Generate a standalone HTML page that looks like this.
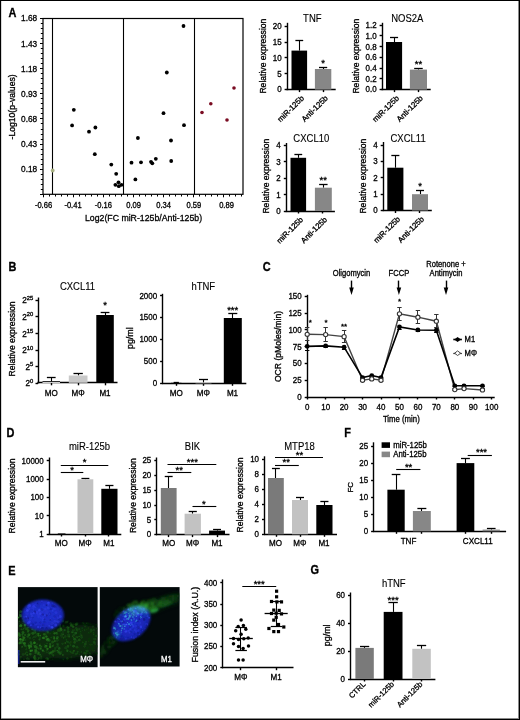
<!DOCTYPE html>
<html><head><meta charset="utf-8"><title>Figure</title>
<style>
html,body{margin:0;padding:0;background:#fff;}
svg{display:block;font-family:"Liberation Sans", Arial, Helvetica, sans-serif;}
</style></head><body>
<svg width="520" height="720" viewBox="0 0 520 720">
<rect width="520" height="720" fill="#fff"/>
<rect x="0" y="0" width="520" height="1" fill="#000"/><rect x="0" y="0" width="1" height="720" fill="#000"/><rect x="519" y="0" width="1" height="720" fill="#000"/><rect x="0" y="719" width="520" height="1" fill="#000"/><rect x="518" y="1" width="1" height="718" fill="#8a8a8a"/><rect x="1" y="718" width="517" height="1" fill="#8a8a8a"/><rect x="1" y="1" width="1" height="717" fill="#d8d8d8"/>
<text transform="translate(8.4 16.8) scale(0.89 1)" font-size="12.32" text-anchor="start" font-weight="bold" fill="#000" stroke="#000" stroke-width="0.32">A</text>
<rect x="43.0" y="18.5" width="200.0" height="175.8" fill="none" stroke="#000" stroke-width="1.2"/>
<line x1="40" y1="18.5" x2="43" y2="18.5" stroke="#000" stroke-width="1"/>
<line x1="40.8" y1="23.5" x2="43" y2="23.5" stroke="#000" stroke-width="1"/>
<line x1="40.8" y1="28.5" x2="43" y2="28.5" stroke="#000" stroke-width="1"/>
<line x1="40.8" y1="33.5" x2="43" y2="33.5" stroke="#000" stroke-width="1"/>
<line x1="40.8" y1="38.5" x2="43" y2="38.5" stroke="#000" stroke-width="1"/>
<line x1="40" y1="43.5" x2="43" y2="43.5" stroke="#000" stroke-width="1"/>
<line x1="40.8" y1="48.5" x2="43" y2="48.5" stroke="#000" stroke-width="1"/>
<line x1="40.8" y1="53.5" x2="43" y2="53.5" stroke="#000" stroke-width="1"/>
<line x1="40.8" y1="58.5" x2="43" y2="58.5" stroke="#000" stroke-width="1"/>
<line x1="40.8" y1="63.5" x2="43" y2="63.5" stroke="#000" stroke-width="1"/>
<line x1="40" y1="68.5" x2="43" y2="68.5" stroke="#000" stroke-width="1"/>
<line x1="40.8" y1="73.5" x2="43" y2="73.5" stroke="#000" stroke-width="1"/>
<line x1="40.8" y1="78.5" x2="43" y2="78.5" stroke="#000" stroke-width="1"/>
<line x1="40.8" y1="83.5" x2="43" y2="83.5" stroke="#000" stroke-width="1"/>
<line x1="40.8" y1="88.5" x2="43" y2="88.5" stroke="#000" stroke-width="1"/>
<line x1="40" y1="93.5" x2="43" y2="93.5" stroke="#000" stroke-width="1"/>
<line x1="40.8" y1="98.5" x2="43" y2="98.5" stroke="#000" stroke-width="1"/>
<line x1="40.8" y1="103.5" x2="43" y2="103.5" stroke="#000" stroke-width="1"/>
<line x1="40.8" y1="108.5" x2="43" y2="108.5" stroke="#000" stroke-width="1"/>
<line x1="40.8" y1="113.5" x2="43" y2="113.5" stroke="#000" stroke-width="1"/>
<line x1="40" y1="118.5" x2="43" y2="118.5" stroke="#000" stroke-width="1"/>
<line x1="40.8" y1="123.5" x2="43" y2="123.5" stroke="#000" stroke-width="1"/>
<line x1="40.8" y1="129.5" x2="43" y2="129.5" stroke="#000" stroke-width="1"/>
<line x1="40.8" y1="134.5" x2="43" y2="134.5" stroke="#000" stroke-width="1"/>
<line x1="40.8" y1="139.5" x2="43" y2="139.5" stroke="#000" stroke-width="1"/>
<line x1="40" y1="144.5" x2="43" y2="144.5" stroke="#000" stroke-width="1"/>
<line x1="40.8" y1="149.5" x2="43" y2="149.5" stroke="#000" stroke-width="1"/>
<line x1="40.8" y1="154.5" x2="43" y2="154.5" stroke="#000" stroke-width="1"/>
<line x1="40.8" y1="159.5" x2="43" y2="159.5" stroke="#000" stroke-width="1"/>
<line x1="40.8" y1="164.5" x2="43" y2="164.5" stroke="#000" stroke-width="1"/>
<line x1="40" y1="169.5" x2="43" y2="169.5" stroke="#000" stroke-width="1"/>
<line x1="40.8" y1="174.5" x2="43" y2="174.5" stroke="#000" stroke-width="1"/>
<line x1="40.8" y1="179.5" x2="43" y2="179.5" stroke="#000" stroke-width="1"/>
<line x1="40.8" y1="184.5" x2="43" y2="184.5" stroke="#000" stroke-width="1"/>
<line x1="40.8" y1="189.5" x2="43" y2="189.5" stroke="#000" stroke-width="1"/>
<line x1="40" y1="194.5" x2="43" y2="194.5" stroke="#000" stroke-width="1"/>
<text transform="translate(37.2 21.4) scale(0.89 1)" font-size="9.3" text-anchor="end" fill="#000" stroke="#000" stroke-width="0.32">1.68</text>
<text transform="translate(37.2 46.51) scale(0.89 1)" font-size="9.3" text-anchor="end" fill="#000" stroke="#000" stroke-width="0.32">1.43</text>
<text transform="translate(37.2 71.63) scale(0.89 1)" font-size="9.3" text-anchor="end" fill="#000" stroke="#000" stroke-width="0.32">1.18</text>
<text transform="translate(37.2 96.74) scale(0.89 1)" font-size="9.3" text-anchor="end" fill="#000" stroke="#000" stroke-width="0.32">0.93</text>
<text transform="translate(37.2 121.86) scale(0.89 1)" font-size="9.3" text-anchor="end" fill="#000" stroke="#000" stroke-width="0.32">0.68</text>
<text transform="translate(37.2 146.97) scale(0.89 1)" font-size="9.3" text-anchor="end" fill="#000" stroke="#000" stroke-width="0.32">0.43</text>
<text transform="translate(37.2 172.09) scale(0.89 1)" font-size="9.3" text-anchor="end" fill="#000" stroke="#000" stroke-width="0.32">0.18</text>
<line x1="43.5" y1="194.3" x2="43.5" y2="197.3" stroke="#000" stroke-width="1"/>
<line x1="49.5" y1="194.3" x2="49.5" y2="196.5" stroke="#000" stroke-width="1"/>
<line x1="55.5" y1="194.3" x2="55.5" y2="196.5" stroke="#000" stroke-width="1"/>
<line x1="61.5" y1="194.3" x2="61.5" y2="196.5" stroke="#000" stroke-width="1"/>
<line x1="67.5" y1="194.3" x2="67.5" y2="196.5" stroke="#000" stroke-width="1"/>
<line x1="73.5" y1="194.3" x2="73.5" y2="197.3" stroke="#000" stroke-width="1"/>
<line x1="79.5" y1="194.3" x2="79.5" y2="196.5" stroke="#000" stroke-width="1"/>
<line x1="85.5" y1="194.3" x2="85.5" y2="196.5" stroke="#000" stroke-width="1"/>
<line x1="91.5" y1="194.3" x2="91.5" y2="196.5" stroke="#000" stroke-width="1"/>
<line x1="97.5" y1="194.3" x2="97.5" y2="196.5" stroke="#000" stroke-width="1"/>
<line x1="103.5" y1="194.3" x2="103.5" y2="197.3" stroke="#000" stroke-width="1"/>
<line x1="109.5" y1="194.3" x2="109.5" y2="196.5" stroke="#000" stroke-width="1"/>
<line x1="115.5" y1="194.3" x2="115.5" y2="196.5" stroke="#000" stroke-width="1"/>
<line x1="121.5" y1="194.3" x2="121.5" y2="196.5" stroke="#000" stroke-width="1"/>
<line x1="127.5" y1="194.3" x2="127.5" y2="196.5" stroke="#000" stroke-width="1"/>
<line x1="133.5" y1="194.3" x2="133.5" y2="197.3" stroke="#000" stroke-width="1"/>
<line x1="139.5" y1="194.3" x2="139.5" y2="196.5" stroke="#000" stroke-width="1"/>
<line x1="145.5" y1="194.3" x2="145.5" y2="196.5" stroke="#000" stroke-width="1"/>
<line x1="151.5" y1="194.3" x2="151.5" y2="196.5" stroke="#000" stroke-width="1"/>
<line x1="157.5" y1="194.3" x2="157.5" y2="196.5" stroke="#000" stroke-width="1"/>
<line x1="163.5" y1="194.3" x2="163.5" y2="197.3" stroke="#000" stroke-width="1"/>
<line x1="169.5" y1="194.3" x2="169.5" y2="196.5" stroke="#000" stroke-width="1"/>
<line x1="175.5" y1="194.3" x2="175.5" y2="196.5" stroke="#000" stroke-width="1"/>
<line x1="181.5" y1="194.3" x2="181.5" y2="196.5" stroke="#000" stroke-width="1"/>
<line x1="187.5" y1="194.3" x2="187.5" y2="196.5" stroke="#000" stroke-width="1"/>
<line x1="193.5" y1="194.3" x2="193.5" y2="197.3" stroke="#000" stroke-width="1"/>
<line x1="199.5" y1="194.3" x2="199.5" y2="196.5" stroke="#000" stroke-width="1"/>
<line x1="205.5" y1="194.3" x2="205.5" y2="196.5" stroke="#000" stroke-width="1"/>
<line x1="211.5" y1="194.3" x2="211.5" y2="196.5" stroke="#000" stroke-width="1"/>
<line x1="217.5" y1="194.3" x2="217.5" y2="196.5" stroke="#000" stroke-width="1"/>
<line x1="223.5" y1="194.3" x2="223.5" y2="197.3" stroke="#000" stroke-width="1"/>
<line x1="229.5" y1="194.3" x2="229.5" y2="196.5" stroke="#000" stroke-width="1"/>
<line x1="235.5" y1="194.3" x2="235.5" y2="196.5" stroke="#000" stroke-width="1"/>
<line x1="241.5" y1="194.3" x2="241.5" y2="196.5" stroke="#000" stroke-width="1"/>
<text transform="translate(43.5 207.5) scale(0.89 1)" font-size="8.51" text-anchor="middle" fill="#000" stroke="#000" stroke-width="0.32">-0.66</text>
<text transform="translate(73 207.5) scale(0.89 1)" font-size="8.51" text-anchor="middle" fill="#000" stroke="#000" stroke-width="0.32">-0.41</text>
<text transform="translate(103.3 207.5) scale(0.89 1)" font-size="8.51" text-anchor="middle" fill="#000" stroke="#000" stroke-width="0.32">-0.16</text>
<text transform="translate(133.6 207.5) scale(0.89 1)" font-size="8.51" text-anchor="middle" fill="#000" stroke="#000" stroke-width="0.32">0.09</text>
<text transform="translate(163.6 207.5) scale(0.89 1)" font-size="8.51" text-anchor="middle" fill="#000" stroke="#000" stroke-width="0.32">0.34</text>
<text transform="translate(193.8 207.5) scale(0.89 1)" font-size="8.51" text-anchor="middle" fill="#000" stroke="#000" stroke-width="0.32">0.59</text>
<text transform="translate(226.5 207.5) scale(0.89 1)" font-size="8.51" text-anchor="middle" fill="#000" stroke="#000" stroke-width="0.32">0.89</text>
<line x1="52.5" y1="18.5" x2="52.5" y2="194.3" stroke="#000" stroke-width="1.1"/>
<line x1="123.5" y1="18.5" x2="123.5" y2="194.3" stroke="#000" stroke-width="1.1"/>
<line x1="194.5" y1="18.5" x2="194.5" y2="194.3" stroke="#000" stroke-width="1.1"/>
<text transform="translate(143.5 221.4) scale(0.88 1)" font-size="9.94" text-anchor="middle" fill="#000" stroke="#000" stroke-width="0.32">Log2(FC miR-125b/Anti-125b)</text>
<text x="15" y="106.9" font-size="8.6" text-anchor="middle" fill="#000" stroke="#000" stroke-width="0.32" transform="rotate(-90 15 106.9)">-Log10(p-values)</text>
<circle cx="73.8" cy="109.8" r="1.9" fill="#000"/>
<circle cx="72.1" cy="125.4" r="1.9" fill="#000"/>
<circle cx="89" cy="131.7" r="1.9" fill="#000"/>
<circle cx="95.4" cy="127.5" r="1.9" fill="#000"/>
<circle cx="94.8" cy="154.2" r="1.9" fill="#000"/>
<circle cx="111.3" cy="164.6" r="1.9" fill="#000"/>
<circle cx="116.2" cy="173.8" r="1.9" fill="#000"/>
<circle cx="115.4" cy="184.8" r="1.9" fill="#000"/>
<circle cx="118.5" cy="182.3" r="1.9" fill="#000"/>
<circle cx="118.8" cy="186.2" r="1.9" fill="#000"/>
<circle cx="121.5" cy="184.8" r="1.9" fill="#000"/>
<circle cx="131.5" cy="162.7" r="1.9" fill="#000"/>
<circle cx="137.9" cy="138" r="1.9" fill="#000"/>
<circle cx="135.4" cy="179.4" r="1.9" fill="#000"/>
<circle cx="141" cy="162.3" r="1.9" fill="#000"/>
<circle cx="151" cy="161.8" r="1.9" fill="#000"/>
<circle cx="152.3" cy="163.3" r="1.9" fill="#000"/>
<circle cx="155.8" cy="158.8" r="1.9" fill="#000"/>
<circle cx="171.2" cy="161" r="1.9" fill="#000"/>
<circle cx="171" cy="140.5" r="1.9" fill="#000"/>
<circle cx="184" cy="125.2" r="1.9" fill="#000"/>
<circle cx="163.5" cy="113.2" r="1.9" fill="#000"/>
<circle cx="166.8" cy="72.5" r="1.9" fill="#000"/>
<circle cx="183.5" cy="26" r="1.9" fill="#000"/>
<circle cx="234" cy="88" r="1.8" fill="#7a0c22"/>
<circle cx="210.8" cy="103.8" r="1.8" fill="#7a0c22"/>
<circle cx="202" cy="112.5" r="1.8" fill="#7a0c22"/>
<circle cx="227" cy="120" r="1.8" fill="#7a0c22"/>
<circle cx="52.7" cy="170.5" r="1.9" fill="#a9b184"/>
<line x1="287.5" y1="22.8" x2="287.5" y2="90.2" stroke="#000" stroke-width="1.4"/>
<line x1="284.6" y1="26.5" x2="287.1" y2="26.5" stroke="#000" stroke-width="1.4"/>
<text transform="translate(281.6 29.08) scale(0.89 1)" font-size="8.96" text-anchor="end" fill="#000" stroke="#000" stroke-width="0.32">20</text>
<line x1="284.6" y1="42.5" x2="287.1" y2="42.5" stroke="#000" stroke-width="1.4"/>
<text transform="translate(281.6 44.93) scale(0.89 1)" font-size="8.96" text-anchor="end" fill="#000" stroke="#000" stroke-width="0.32">15</text>
<line x1="284.6" y1="57.5" x2="287.1" y2="57.5" stroke="#000" stroke-width="1.4"/>
<text transform="translate(281.6 60.78) scale(0.89 1)" font-size="8.96" text-anchor="end" fill="#000" stroke="#000" stroke-width="0.32">10</text>
<line x1="284.6" y1="73.5" x2="287.1" y2="73.5" stroke="#000" stroke-width="1.4"/>
<text transform="translate(281.6 76.63) scale(0.89 1)" font-size="8.96" text-anchor="end" fill="#000" stroke="#000" stroke-width="0.32">5</text>
<line x1="284.6" y1="89.5" x2="287.1" y2="89.5" stroke="#000" stroke-width="1.4"/>
<text transform="translate(281.6 92.48) scale(0.89 1)" font-size="8.96" text-anchor="end" fill="#000" stroke="#000" stroke-width="0.32">0</text>
<line x1="286.5" y1="89.5" x2="335.7" y2="89.5" stroke="#000" stroke-width="1.4"/>
<line x1="299.5" y1="89.6" x2="299.5" y2="92.1" stroke="#000" stroke-width="1.4"/>
<line x1="323.5" y1="89.6" x2="323.5" y2="92.1" stroke="#000" stroke-width="1.4"/>
<line x1="299.5" y1="50.6" x2="299.5" y2="40.2" stroke="#000" stroke-width="1.1"/>
<line x1="295.4" y1="40.5" x2="303.2" y2="40.5" stroke="#000" stroke-width="1.3"/>
<rect x="291.5" y="50.6" width="15.6" height="39" fill="#000"/>
<line x1="323.5" y1="69" x2="323.5" y2="67.5" stroke="#000" stroke-width="1.1"/>
<line x1="319" y1="67.5" x2="327.2" y2="67.5" stroke="#000" stroke-width="1.3"/>
<rect x="314.9" y="69" width="16.4" height="20.6" fill="#878787"/>
<text transform="translate(312.3 21.5) scale(0.93 1)" font-size="10.22" text-anchor="middle" stroke="#000" stroke-width="0.12">TNF</text>
<text x="265.85" y="56.1" font-size="8.6" text-anchor="middle" fill="#000" stroke="#000" stroke-width="0.32" transform="rotate(-90 265.85 56.1)">Relative expression</text>
<text x="323.1" y="66.27" font-size="9.5" text-anchor="middle" fill="#000" stroke="#000" stroke-width="0.32">*</text>
<text x="304.5" y="98.7" font-size="7.8" text-anchor="end" fill="#000" stroke="#000" stroke-width="0.32" transform="rotate(-45 304.5 98.7)">miR-125b</text>
<text x="328.4" y="98.7" font-size="7.8" text-anchor="end" fill="#000" stroke="#000" stroke-width="0.32" transform="rotate(-45 328.4 98.7)">Anti-125b</text>
<line x1="382.5" y1="22.8" x2="382.5" y2="90.2" stroke="#000" stroke-width="1.4"/>
<line x1="379.6" y1="25.5" x2="382.1" y2="25.5" stroke="#000" stroke-width="1.4"/>
<text transform="translate(376.6 28.08) scale(0.89 1)" font-size="8.96" text-anchor="end" fill="#000" stroke="#000" stroke-width="0.32">1.2</text>
<line x1="379.6" y1="35.5" x2="382.1" y2="35.5" stroke="#000" stroke-width="1.4"/>
<text transform="translate(376.6 38.81) scale(0.89 1)" font-size="8.96" text-anchor="end" fill="#000" stroke="#000" stroke-width="0.32">1.0</text>
<line x1="379.6" y1="46.5" x2="382.1" y2="46.5" stroke="#000" stroke-width="1.4"/>
<text transform="translate(376.6 49.54) scale(0.89 1)" font-size="8.96" text-anchor="end" fill="#000" stroke="#000" stroke-width="0.32">0.8</text>
<line x1="379.6" y1="57.5" x2="382.1" y2="57.5" stroke="#000" stroke-width="1.4"/>
<text transform="translate(376.6 60.28) scale(0.89 1)" font-size="8.96" text-anchor="end" fill="#000" stroke="#000" stroke-width="0.32">0.6</text>
<line x1="379.6" y1="68.5" x2="382.1" y2="68.5" stroke="#000" stroke-width="1.4"/>
<text transform="translate(376.6 71.01) scale(0.89 1)" font-size="8.96" text-anchor="end" fill="#000" stroke="#000" stroke-width="0.32">0.4</text>
<line x1="379.6" y1="78.5" x2="382.1" y2="78.5" stroke="#000" stroke-width="1.4"/>
<text transform="translate(376.6 81.75) scale(0.89 1)" font-size="8.96" text-anchor="end" fill="#000" stroke="#000" stroke-width="0.32">0.2</text>
<line x1="379.6" y1="89.5" x2="382.1" y2="89.5" stroke="#000" stroke-width="1.4"/>
<text transform="translate(376.6 92.48) scale(0.89 1)" font-size="8.96" text-anchor="end" fill="#000" stroke="#000" stroke-width="0.32">0.0</text>
<line x1="381.5" y1="89.5" x2="430.7" y2="89.5" stroke="#000" stroke-width="1.4"/>
<line x1="394.5" y1="89.6" x2="394.5" y2="92.1" stroke="#000" stroke-width="1.4"/>
<line x1="418.5" y1="89.6" x2="418.5" y2="92.1" stroke="#000" stroke-width="1.4"/>
<line x1="394.5" y1="42" x2="394.5" y2="37.1" stroke="#000" stroke-width="1.1"/>
<line x1="390.02" y1="37.5" x2="398.08" y2="37.5" stroke="#000" stroke-width="1.3"/>
<rect x="386" y="42" width="16.1" height="47.6" fill="#000"/>
<line x1="418.5" y1="69.6" x2="418.5" y2="68" stroke="#000" stroke-width="1.1"/>
<line x1="414.17" y1="68.5" x2="422.73" y2="68.5" stroke="#000" stroke-width="1.3"/>
<rect x="409.9" y="69.6" width="17.1" height="20" fill="#878787"/>
<text transform="translate(407.3 21.5) scale(0.93 1)" font-size="10.22" text-anchor="middle" stroke="#000" stroke-width="0.12">NOS2A</text>
<text x="359" y="56.1" font-size="8.6" text-anchor="middle" fill="#000" stroke="#000" stroke-width="0.32" transform="rotate(-90 359 56.1)">Relative expression</text>
<text x="418.5" y="66.77" font-size="9.5" text-anchor="middle" fill="#000" stroke="#000" stroke-width="0.32">**</text>
<text x="399.5" y="98.7" font-size="7.8" text-anchor="end" fill="#000" stroke="#000" stroke-width="0.32" transform="rotate(-45 399.5 98.7)">miR-125b</text>
<text x="423.4" y="98.7" font-size="7.8" text-anchor="end" fill="#000" stroke="#000" stroke-width="0.32" transform="rotate(-45 423.4 98.7)">Anti-125b</text>
<line x1="286.5" y1="143" x2="286.5" y2="211.6" stroke="#000" stroke-width="1.4"/>
<line x1="283.8" y1="145.5" x2="286.3" y2="145.5" stroke="#000" stroke-width="1.4"/>
<text transform="translate(280.8 148.48) scale(0.89 1)" font-size="8.96" text-anchor="end" fill="#000" stroke="#000" stroke-width="0.32">4</text>
<line x1="283.8" y1="161.5" x2="286.3" y2="161.5" stroke="#000" stroke-width="1.4"/>
<text transform="translate(280.8 164.83) scale(0.89 1)" font-size="8.96" text-anchor="end" fill="#000" stroke="#000" stroke-width="0.32">3</text>
<line x1="283.8" y1="178.5" x2="286.3" y2="178.5" stroke="#000" stroke-width="1.4"/>
<text transform="translate(280.8 181.18) scale(0.89 1)" font-size="8.96" text-anchor="end" fill="#000" stroke="#000" stroke-width="0.32">2</text>
<line x1="283.8" y1="194.5" x2="286.3" y2="194.5" stroke="#000" stroke-width="1.4"/>
<text transform="translate(280.8 197.53) scale(0.89 1)" font-size="8.96" text-anchor="end" fill="#000" stroke="#000" stroke-width="0.32">1</text>
<line x1="283.8" y1="211.5" x2="286.3" y2="211.5" stroke="#000" stroke-width="1.4"/>
<text transform="translate(280.8 213.88) scale(0.89 1)" font-size="8.96" text-anchor="end" fill="#000" stroke="#000" stroke-width="0.32">0</text>
<line x1="285.7" y1="211.5" x2="334.9" y2="211.5" stroke="#000" stroke-width="1.4"/>
<line x1="298.5" y1="211" x2="298.5" y2="213.5" stroke="#000" stroke-width="1.4"/>
<line x1="322.5" y1="211" x2="322.5" y2="213.5" stroke="#000" stroke-width="1.4"/>
<line x1="298.5" y1="157.8" x2="298.5" y2="154.7" stroke="#000" stroke-width="1.1"/>
<line x1="294.4" y1="154.5" x2="302.2" y2="154.5" stroke="#000" stroke-width="1.3"/>
<rect x="290.5" y="157.8" width="15.6" height="53.2" fill="#000"/>
<line x1="323.5" y1="187.7" x2="323.5" y2="184.6" stroke="#000" stroke-width="1.1"/>
<line x1="319.12" y1="184.5" x2="327.58" y2="184.5" stroke="#000" stroke-width="1.3"/>
<rect x="314.9" y="187.7" width="16.9" height="23.3" fill="#878787"/>
<text transform="translate(311.3 142.4) scale(0.93 1)" font-size="10.22" text-anchor="middle" stroke="#000" stroke-width="0.12">CXCL10</text>
<text x="268.9" y="176.1" font-size="8.6" text-anchor="middle" fill="#000" stroke="#000" stroke-width="0.32" transform="rotate(-90 268.9 176.1)">Relative expression</text>
<text x="323.3" y="183.06" font-size="9.5" text-anchor="middle" fill="#000" stroke="#000" stroke-width="0.32">**</text>
<text x="303.7" y="220.1" font-size="7.8" text-anchor="end" fill="#000" stroke="#000" stroke-width="0.32" transform="rotate(-45 303.7 220.1)">miR-125b</text>
<text x="327.6" y="220.1" font-size="7.8" text-anchor="end" fill="#000" stroke="#000" stroke-width="0.32" transform="rotate(-45 327.6 220.1)">Anti-125b</text>
<line x1="383.5" y1="142" x2="383.5" y2="211.1" stroke="#000" stroke-width="1.4"/>
<line x1="380.7" y1="145.5" x2="383.2" y2="145.5" stroke="#000" stroke-width="1.4"/>
<text transform="translate(377.7 148.18) scale(0.89 1)" font-size="8.96" text-anchor="end" fill="#000" stroke="#000" stroke-width="0.32">4</text>
<line x1="380.7" y1="161.5" x2="383.2" y2="161.5" stroke="#000" stroke-width="1.4"/>
<text transform="translate(377.7 164.48) scale(0.89 1)" font-size="8.96" text-anchor="end" fill="#000" stroke="#000" stroke-width="0.32">3</text>
<line x1="380.7" y1="177.5" x2="383.2" y2="177.5" stroke="#000" stroke-width="1.4"/>
<text transform="translate(377.7 180.78) scale(0.89 1)" font-size="8.96" text-anchor="end" fill="#000" stroke="#000" stroke-width="0.32">2</text>
<line x1="380.7" y1="194.5" x2="383.2" y2="194.5" stroke="#000" stroke-width="1.4"/>
<text transform="translate(377.7 197.08) scale(0.89 1)" font-size="8.96" text-anchor="end" fill="#000" stroke="#000" stroke-width="0.32">1</text>
<line x1="380.7" y1="210.5" x2="383.2" y2="210.5" stroke="#000" stroke-width="1.4"/>
<text transform="translate(377.7 213.38) scale(0.89 1)" font-size="8.96" text-anchor="end" fill="#000" stroke="#000" stroke-width="0.32">0</text>
<line x1="382.6" y1="210.5" x2="431.8" y2="210.5" stroke="#000" stroke-width="1.4"/>
<line x1="395.5" y1="210.5" x2="395.5" y2="213" stroke="#000" stroke-width="1.4"/>
<line x1="419.5" y1="210.5" x2="419.5" y2="213" stroke="#000" stroke-width="1.4"/>
<line x1="395.5" y1="167.7" x2="395.5" y2="155.8" stroke="#000" stroke-width="1.1"/>
<line x1="391.33" y1="155.5" x2="399.38" y2="155.5" stroke="#000" stroke-width="1.3"/>
<rect x="387.3" y="167.7" width="16.1" height="42.8" fill="#000"/>
<line x1="420.5" y1="194.2" x2="420.5" y2="190.3" stroke="#000" stroke-width="1.1"/>
<line x1="416" y1="190.5" x2="424" y2="190.5" stroke="#000" stroke-width="1.3"/>
<rect x="412" y="194.2" width="16" height="16.3" fill="#878787"/>
<text transform="translate(408.1 141.7) scale(0.93 1)" font-size="10.22" text-anchor="middle" stroke="#000" stroke-width="0.12">CXCL11</text>
<text x="366.3" y="176.1" font-size="8.6" text-anchor="middle" fill="#000" stroke="#000" stroke-width="0.32" transform="rotate(-90 366.3 176.1)">Relative expression</text>
<text x="420" y="189.06" font-size="9.5" text-anchor="middle" fill="#000" stroke="#000" stroke-width="0.32">*</text>
<text x="400.6" y="219.6" font-size="7.8" text-anchor="end" fill="#000" stroke="#000" stroke-width="0.32" transform="rotate(-45 400.6 219.6)">miR-125b</text>
<text x="424.5" y="219.6" font-size="7.8" text-anchor="end" fill="#000" stroke="#000" stroke-width="0.32" transform="rotate(-45 424.5 219.6)">Anti-125b</text>
<text transform="translate(8.6 270.6) scale(0.89 1)" font-size="12.32" text-anchor="start" font-weight="bold" fill="#000" stroke="#000" stroke-width="0.32">B</text>
<line x1="38.5" y1="297.5" x2="38.5" y2="383.4" stroke="#000" stroke-width="1.4"/>
<line x1="35.5" y1="300.5" x2="38" y2="300.5" stroke="#000" stroke-width="1.4"/>
<line x1="35.5" y1="316.5" x2="38" y2="316.5" stroke="#000" stroke-width="1.4"/>
<line x1="35.5" y1="333.5" x2="38" y2="333.5" stroke="#000" stroke-width="1.4"/>
<line x1="35.5" y1="350.5" x2="38" y2="350.5" stroke="#000" stroke-width="1.4"/>
<line x1="35.5" y1="366.5" x2="38" y2="366.5" stroke="#000" stroke-width="1.4"/>
<line x1="35.5" y1="383.5" x2="38" y2="383.5" stroke="#000" stroke-width="1.4"/>
<text x="33.2" y="303.3" font-size="8.2" text-anchor="end" stroke="#000" stroke-width="0.32">2<tspan font-size="5.8" dy="-3.8">25</tspan></text>
<text x="33.2" y="320.05" font-size="8.2" text-anchor="end" stroke="#000" stroke-width="0.32">2<tspan font-size="5.8" dy="-3.8">20</tspan></text>
<text x="33.2" y="336.6" font-size="8.2" text-anchor="end" stroke="#000" stroke-width="0.32">2<tspan font-size="5.8" dy="-3.8">15</tspan></text>
<text x="33.2" y="353.3" font-size="8.2" text-anchor="end" stroke="#000" stroke-width="0.32">2<tspan font-size="5.8" dy="-3.8">10</tspan></text>
<text x="33.2" y="370.05" font-size="8.2" text-anchor="end" stroke="#000" stroke-width="0.32">2<tspan font-size="5.8" dy="-3.8">5</tspan></text>
<text x="33.2" y="386.3" font-size="8.2" text-anchor="end" stroke="#000" stroke-width="0.32">2<tspan font-size="5.8" dy="-3.8">0</tspan></text>
<line x1="37.4" y1="382.5" x2="117.5" y2="382.5" stroke="#000" stroke-width="1.4"/>
<line x1="51.5" y1="382.8" x2="51.5" y2="385.3" stroke="#000" stroke-width="1.4"/>
<line x1="78.5" y1="382.8" x2="78.5" y2="385.3" stroke="#000" stroke-width="1.4"/>
<line x1="105.5" y1="382.8" x2="105.5" y2="385.3" stroke="#000" stroke-width="1.4"/>
<line x1="51.5" y1="381.6" x2="51.5" y2="377.5" stroke="#000" stroke-width="1.1"/>
<line x1="46.88" y1="377.5" x2="55.62" y2="377.5" stroke="#000" stroke-width="1.3"/>
<rect x="42.5" y="381.6" width="17.5" height="1.2" fill="#fff"/>
<line x1="42.5" y1="381.5" x2="60" y2="381.5" stroke="#000" stroke-width="0.8"/>
<line x1="78.5" y1="375.5" x2="78.5" y2="373.3" stroke="#000" stroke-width="1.1"/>
<line x1="73.48" y1="373.5" x2="82.83" y2="373.5" stroke="#000" stroke-width="1.3"/>
<rect x="68.8" y="375.5" width="18.7" height="7.3" fill="#c9c9c9"/>
<line x1="105.5" y1="315" x2="105.5" y2="312.5" stroke="#000" stroke-width="1.1"/>
<line x1="100.67" y1="312.5" x2="109.42" y2="312.5" stroke="#000" stroke-width="1.3"/>
<rect x="96.3" y="315" width="17.5" height="67.8" fill="#000"/>
<text x="105" y="307.76" font-size="9.5" text-anchor="middle" fill="#000" stroke="#000" stroke-width="0.32">*</text>
<text transform="translate(77.5 290.2) scale(0.93 1)" font-size="10.22" text-anchor="middle" stroke="#000" stroke-width="0.12">CXCL11</text>
<text x="15.1" y="338.9" font-size="8.6" text-anchor="middle" fill="#000" stroke="#000" stroke-width="0.32" transform="rotate(-90 15.1 338.9)">Relative expression</text>
<text transform="translate(51.3 395.5) scale(0.89 1)" font-size="9.07" text-anchor="middle" fill="#000" stroke="#000" stroke-width="0.32">MO</text>
<text transform="translate(78 395.5) scale(0.89 1)" font-size="9.07" text-anchor="middle" fill="#000" stroke="#000" stroke-width="0.32">MΦ</text>
<text transform="translate(105 395.5) scale(0.89 1)" font-size="9.07" text-anchor="middle" fill="#000" stroke="#000" stroke-width="0.32">M1</text>
<line x1="162.5" y1="293.8" x2="162.5" y2="383.9" stroke="#000" stroke-width="1.4"/>
<line x1="160.1" y1="295.5" x2="162.6" y2="295.5" stroke="#000" stroke-width="1.4"/>
<text transform="translate(157.1 298.68) scale(0.89 1)" font-size="8.96" text-anchor="end" fill="#000" stroke="#000" stroke-width="0.32">2000</text>
<line x1="160.1" y1="317.5" x2="162.6" y2="317.5" stroke="#000" stroke-width="1.4"/>
<text transform="translate(157.1 320.48) scale(0.89 1)" font-size="8.96" text-anchor="end" fill="#000" stroke="#000" stroke-width="0.32">1500</text>
<line x1="160.1" y1="339.5" x2="162.6" y2="339.5" stroke="#000" stroke-width="1.4"/>
<text transform="translate(157.1 342.38) scale(0.89 1)" font-size="8.96" text-anchor="end" fill="#000" stroke="#000" stroke-width="0.32">1000</text>
<line x1="160.1" y1="361.5" x2="162.6" y2="361.5" stroke="#000" stroke-width="1.4"/>
<text transform="translate(157.1 364.28) scale(0.89 1)" font-size="8.96" text-anchor="end" fill="#000" stroke="#000" stroke-width="0.32">500</text>
<line x1="160.1" y1="383.5" x2="162.6" y2="383.5" stroke="#000" stroke-width="1.4"/>
<text transform="translate(157.1 386.18) scale(0.89 1)" font-size="8.96" text-anchor="end" fill="#000" stroke="#000" stroke-width="0.32">0</text>
<line x1="162" y1="383.5" x2="246.3" y2="383.5" stroke="#000" stroke-width="1.4"/>
<line x1="176.5" y1="383.3" x2="176.5" y2="385.8" stroke="#000" stroke-width="1.4"/>
<line x1="203.5" y1="383.3" x2="203.5" y2="385.8" stroke="#000" stroke-width="1.4"/>
<line x1="232.5" y1="383.3" x2="232.5" y2="385.8" stroke="#000" stroke-width="1.4"/>
<line x1="176.5" y1="382.8" x2="176.5" y2="382.3" stroke="#000" stroke-width="1.1"/>
<line x1="173.62" y1="382.5" x2="178.88" y2="382.5" stroke="#000" stroke-width="1.3"/>
<rect x="171" y="382.8" width="10.5" height="0.5" fill="#000"/>
<line x1="203.5" y1="382.6" x2="203.5" y2="379.2" stroke="#000" stroke-width="1.1"/>
<line x1="199" y1="379.5" x2="208" y2="379.5" stroke="#000" stroke-width="1.3"/>
<rect x="195.5" y="382.6" width="16" height="0.7" fill="#c9c9c9"/>
<line x1="232.5" y1="318" x2="232.5" y2="313" stroke="#000" stroke-width="1.1"/>
<line x1="228.3" y1="313.5" x2="237.3" y2="313.5" stroke="#000" stroke-width="1.3"/>
<rect x="223.8" y="318" width="18" height="65.3" fill="#000"/>
<text x="232.7" y="313.26" font-size="9.5" text-anchor="middle" fill="#000" stroke="#000" stroke-width="0.32">***</text>
<text transform="translate(203.3 290.2) scale(0.93 1)" font-size="10.22" text-anchor="middle" stroke="#000" stroke-width="0.12">hTNF</text>
<text x="133.45" y="338.2" font-size="8.9" text-anchor="middle" fill="#000" stroke="#000" stroke-width="0.32" transform="rotate(-90 133.45 338.2)">pg/ml</text>
<text transform="translate(176.3 395.5) scale(0.89 1)" font-size="9.07" text-anchor="middle" fill="#000" stroke="#000" stroke-width="0.32">MO</text>
<text transform="translate(203.3 395.5) scale(0.89 1)" font-size="9.07" text-anchor="middle" fill="#000" stroke="#000" stroke-width="0.32">MΦ</text>
<text transform="translate(232.5 395.5) scale(0.89 1)" font-size="9.07" text-anchor="middle" fill="#000" stroke="#000" stroke-width="0.32">M1</text>
<text transform="translate(262.8 271.2) scale(0.89 1)" font-size="12.32" text-anchor="start" font-weight="bold" fill="#000" stroke="#000" stroke-width="0.32">C</text>
<line x1="307.5" y1="294.8" x2="307.5" y2="397.6" stroke="#000" stroke-width="1.4"/>
<line x1="304.7" y1="296.5" x2="307.2" y2="296.5" stroke="#000" stroke-width="1.4"/>
<text transform="translate(301.7 299.27) scale(0.89 1)" font-size="8.96" text-anchor="end" fill="#000" stroke="#000" stroke-width="0.32">150</text>
<line x1="304.7" y1="313.5" x2="307.2" y2="313.5" stroke="#000" stroke-width="1.4"/>
<text transform="translate(301.7 316.04) scale(0.89 1)" font-size="8.96" text-anchor="end" fill="#000" stroke="#000" stroke-width="0.32">125</text>
<line x1="304.7" y1="329.5" x2="307.2" y2="329.5" stroke="#000" stroke-width="1.4"/>
<text transform="translate(301.7 332.81) scale(0.89 1)" font-size="8.96" text-anchor="end" fill="#000" stroke="#000" stroke-width="0.32">100</text>
<line x1="304.7" y1="346.5" x2="307.2" y2="346.5" stroke="#000" stroke-width="1.4"/>
<text transform="translate(301.7 349.58) scale(0.89 1)" font-size="8.96" text-anchor="end" fill="#000" stroke="#000" stroke-width="0.32">75</text>
<line x1="304.7" y1="363.5" x2="307.2" y2="363.5" stroke="#000" stroke-width="1.4"/>
<text transform="translate(301.7 366.35) scale(0.89 1)" font-size="8.96" text-anchor="end" fill="#000" stroke="#000" stroke-width="0.32">50</text>
<line x1="304.7" y1="380.5" x2="307.2" y2="380.5" stroke="#000" stroke-width="1.4"/>
<text transform="translate(301.7 383.11) scale(0.89 1)" font-size="8.96" text-anchor="end" fill="#000" stroke="#000" stroke-width="0.32">25</text>
<line x1="304.7" y1="397.5" x2="307.2" y2="397.5" stroke="#000" stroke-width="1.4"/>
<text transform="translate(301.7 399.88) scale(0.89 1)" font-size="8.96" text-anchor="end" fill="#000" stroke="#000" stroke-width="0.32">0</text>
<line x1="306.6" y1="397.5" x2="494.7" y2="397.5" stroke="#000" stroke-width="1.4"/>
<line x1="307.5" y1="397" x2="307.5" y2="399.5" stroke="#000" stroke-width="1.4"/>
<line x1="325.5" y1="397" x2="325.5" y2="399.5" stroke="#000" stroke-width="1.4"/>
<line x1="344.5" y1="397" x2="344.5" y2="399.5" stroke="#000" stroke-width="1.4"/>
<line x1="362.5" y1="397" x2="362.5" y2="399.5" stroke="#000" stroke-width="1.4"/>
<line x1="381.5" y1="397" x2="381.5" y2="399.5" stroke="#000" stroke-width="1.4"/>
<line x1="399.5" y1="397" x2="399.5" y2="399.5" stroke="#000" stroke-width="1.4"/>
<line x1="417.5" y1="397" x2="417.5" y2="399.5" stroke="#000" stroke-width="1.4"/>
<line x1="436.5" y1="397" x2="436.5" y2="399.5" stroke="#000" stroke-width="1.4"/>
<line x1="454.5" y1="397" x2="454.5" y2="399.5" stroke="#000" stroke-width="1.4"/>
<line x1="473.5" y1="397" x2="473.5" y2="399.5" stroke="#000" stroke-width="1.4"/>
<line x1="491.5" y1="397" x2="491.5" y2="399.5" stroke="#000" stroke-width="1.4"/>
<text transform="translate(307.2 410.3) scale(0.89 1)" font-size="8.96" text-anchor="middle" fill="#000" stroke="#000" stroke-width="0.32">0</text>
<text transform="translate(325.65 410.3) scale(0.89 1)" font-size="8.96" text-anchor="middle" fill="#000" stroke="#000" stroke-width="0.32">10</text>
<text transform="translate(344.1 410.3) scale(0.89 1)" font-size="8.96" text-anchor="middle" fill="#000" stroke="#000" stroke-width="0.32">20</text>
<text transform="translate(362.55 410.3) scale(0.89 1)" font-size="8.96" text-anchor="middle" fill="#000" stroke="#000" stroke-width="0.32">30</text>
<text transform="translate(381 410.3) scale(0.89 1)" font-size="8.96" text-anchor="middle" fill="#000" stroke="#000" stroke-width="0.32">40</text>
<text transform="translate(399.45 410.3) scale(0.89 1)" font-size="8.96" text-anchor="middle" fill="#000" stroke="#000" stroke-width="0.32">50</text>
<text transform="translate(417.9 410.3) scale(0.89 1)" font-size="8.96" text-anchor="middle" fill="#000" stroke="#000" stroke-width="0.32">60</text>
<text transform="translate(436.35 410.3) scale(0.89 1)" font-size="8.96" text-anchor="middle" fill="#000" stroke="#000" stroke-width="0.32">70</text>
<text transform="translate(454.8 410.3) scale(0.89 1)" font-size="8.96" text-anchor="middle" fill="#000" stroke="#000" stroke-width="0.32">80</text>
<text transform="translate(473.25 410.3) scale(0.89 1)" font-size="8.96" text-anchor="middle" fill="#000" stroke="#000" stroke-width="0.32">90</text>
<text transform="translate(491.7 410.3) scale(0.89 1)" font-size="8.96" text-anchor="middle" fill="#000" stroke="#000" stroke-width="0.32">100</text>
<text transform="translate(401.3 421.9) scale(0.89 1)" font-size="8.74" text-anchor="middle" fill="#000" stroke="#000" stroke-width="0.32">Time (min)</text>
<text x="281.2" y="346.5" font-size="8.6" text-anchor="middle" fill="#000" stroke="#000" stroke-width="0.32" transform="rotate(-90 281.2 346.5)">OCR (pMoles/min)</text>
<line x1="307.5" y1="327.58" x2="307.5" y2="341" stroke="#333" stroke-width="1"/>
<line x1="305" y1="327.5" x2="309.4" y2="327.5" stroke="#333" stroke-width="1"/>
<line x1="305" y1="340.5" x2="309.4" y2="340.5" stroke="#333" stroke-width="1"/>
<line x1="325.5" y1="327.92" x2="325.5" y2="341.33" stroke="#333" stroke-width="1"/>
<line x1="323.45" y1="327.5" x2="327.85" y2="327.5" stroke="#333" stroke-width="1"/>
<line x1="323.45" y1="341.5" x2="327.85" y2="341.5" stroke="#333" stroke-width="1"/>
<line x1="344.5" y1="330.6" x2="344.5" y2="342.67" stroke="#333" stroke-width="1"/>
<line x1="341.9" y1="330.5" x2="346.3" y2="330.5" stroke="#333" stroke-width="1"/>
<line x1="341.9" y1="342.5" x2="346.3" y2="342.5" stroke="#333" stroke-width="1"/>
<line x1="362.5" y1="378.89" x2="362.5" y2="381.57" stroke="#333" stroke-width="1"/>
<line x1="360.35" y1="378.5" x2="364.75" y2="378.5" stroke="#333" stroke-width="1"/>
<line x1="360.35" y1="381.5" x2="364.75" y2="381.5" stroke="#333" stroke-width="1"/>
<line x1="371.5" y1="377.55" x2="371.5" y2="380.23" stroke="#333" stroke-width="1"/>
<line x1="369.57" y1="377.5" x2="373.97" y2="377.5" stroke="#333" stroke-width="1"/>
<line x1="369.57" y1="380.5" x2="373.97" y2="380.5" stroke="#333" stroke-width="1"/>
<line x1="381.5" y1="378.89" x2="381.5" y2="381.57" stroke="#333" stroke-width="1"/>
<line x1="378.8" y1="378.5" x2="383.2" y2="378.5" stroke="#333" stroke-width="1"/>
<line x1="378.8" y1="381.5" x2="383.2" y2="381.5" stroke="#333" stroke-width="1"/>
<line x1="399.5" y1="307.13" x2="399.5" y2="320.54" stroke="#333" stroke-width="1"/>
<line x1="397.25" y1="307.5" x2="401.65" y2="307.5" stroke="#333" stroke-width="1"/>
<line x1="397.25" y1="320.5" x2="401.65" y2="320.5" stroke="#333" stroke-width="1"/>
<line x1="417.5" y1="310.48" x2="417.5" y2="323.89" stroke="#333" stroke-width="1"/>
<line x1="415.7" y1="310.5" x2="420.1" y2="310.5" stroke="#333" stroke-width="1"/>
<line x1="415.7" y1="323.5" x2="420.1" y2="323.5" stroke="#333" stroke-width="1"/>
<line x1="436.5" y1="314.5" x2="436.5" y2="327.92" stroke="#333" stroke-width="1"/>
<line x1="434.15" y1="314.5" x2="438.55" y2="314.5" stroke="#333" stroke-width="1"/>
<line x1="434.15" y1="327.5" x2="438.55" y2="327.5" stroke="#333" stroke-width="1"/>
<line x1="454.5" y1="388.62" x2="454.5" y2="390.63" stroke="#333" stroke-width="1"/>
<line x1="452.6" y1="388.5" x2="457" y2="388.5" stroke="#333" stroke-width="1"/>
<line x1="452.6" y1="390.5" x2="457" y2="390.5" stroke="#333" stroke-width="1"/>
<line x1="464.5" y1="387.61" x2="464.5" y2="389.62" stroke="#333" stroke-width="1"/>
<line x1="461.82" y1="387.5" x2="466.22" y2="387.5" stroke="#333" stroke-width="1"/>
<line x1="461.82" y1="389.5" x2="466.22" y2="389.5" stroke="#333" stroke-width="1"/>
<line x1="482.5" y1="388.95" x2="482.5" y2="390.96" stroke="#333" stroke-width="1"/>
<line x1="480.28" y1="388.5" x2="484.68" y2="388.5" stroke="#333" stroke-width="1"/>
<line x1="480.28" y1="390.5" x2="484.68" y2="390.5" stroke="#333" stroke-width="1"/>
<line x1="305" y1="350.5" x2="309.4" y2="350.5" stroke="#000" stroke-width="1"/>
<line x1="323.45" y1="347.5" x2="327.85" y2="347.5" stroke="#000" stroke-width="1"/>
<line x1="341.9" y1="349.5" x2="346.3" y2="349.5" stroke="#000" stroke-width="1"/>
<line x1="360.35" y1="378.5" x2="364.75" y2="378.5" stroke="#000" stroke-width="1"/>
<line x1="369.57" y1="376.5" x2="373.97" y2="376.5" stroke="#000" stroke-width="1"/>
<line x1="378.8" y1="378.5" x2="383.2" y2="378.5" stroke="#000" stroke-width="1"/>
<line x1="397.25" y1="329.5" x2="401.65" y2="329.5" stroke="#000" stroke-width="1"/>
<line x1="415.7" y1="331.5" x2="420.1" y2="331.5" stroke="#000" stroke-width="1"/>
<line x1="434.15" y1="332.5" x2="438.55" y2="332.5" stroke="#000" stroke-width="1"/>
<line x1="452.6" y1="386.5" x2="457" y2="386.5" stroke="#000" stroke-width="1"/>
<line x1="461.82" y1="386.5" x2="466.22" y2="386.5" stroke="#000" stroke-width="1"/>
<line x1="480.28" y1="386.5" x2="484.68" y2="386.5" stroke="#000" stroke-width="1"/>
<polyline points="307.2,334.29 325.65,334.62 344.1,336.64 362.55,380.23 371.77,378.89 381,380.23 399.45,313.83 417.9,317.19 436.35,321.21 454.8,389.62 464.02,388.62 482.48,389.96" fill="none" stroke="#444" stroke-width="1.4"/>
<polyline points="307.2,346.36 325.65,345.83 344.1,347.17 362.55,377.55 371.77,375.54 381,377.55 399.45,326.91 417.9,329.93 436.35,330.27 454.8,385.8 464.02,385.8 482.48,385.8" fill="none" stroke="#000" stroke-width="1.6"/>
<circle cx="307.2" cy="346.36" r="2.4" fill="#000"/>
<circle cx="325.65" cy="345.83" r="2.4" fill="#000"/>
<circle cx="344.1" cy="347.17" r="2.4" fill="#000"/>
<circle cx="362.55" cy="377.55" r="2.4" fill="#000"/>
<circle cx="371.77" cy="375.54" r="2.4" fill="#000"/>
<circle cx="381" cy="377.55" r="2.4" fill="#000"/>
<circle cx="399.45" cy="326.91" r="2.4" fill="#000"/>
<circle cx="417.9" cy="329.93" r="2.4" fill="#000"/>
<circle cx="436.35" cy="330.27" r="2.4" fill="#000"/>
<circle cx="454.8" cy="385.8" r="2.4" fill="#000"/>
<circle cx="464.02" cy="385.8" r="2.4" fill="#000"/>
<circle cx="482.48" cy="385.8" r="2.4" fill="#000"/>
<circle cx="307.2" cy="334.29" r="2.1" fill="#fff" stroke="#333" stroke-width="1.1"/>
<circle cx="325.65" cy="334.62" r="2.1" fill="#fff" stroke="#333" stroke-width="1.1"/>
<circle cx="344.1" cy="336.64" r="2.1" fill="#fff" stroke="#333" stroke-width="1.1"/>
<circle cx="362.55" cy="380.23" r="2.1" fill="#fff" stroke="#333" stroke-width="1.1"/>
<circle cx="371.77" cy="378.89" r="2.1" fill="#fff" stroke="#333" stroke-width="1.1"/>
<circle cx="381" cy="380.23" r="2.1" fill="#fff" stroke="#333" stroke-width="1.1"/>
<circle cx="399.45" cy="313.83" r="2.1" fill="#fff" stroke="#333" stroke-width="1.1"/>
<circle cx="417.9" cy="317.19" r="2.1" fill="#fff" stroke="#333" stroke-width="1.1"/>
<circle cx="436.35" cy="321.21" r="2.1" fill="#fff" stroke="#333" stroke-width="1.1"/>
<circle cx="454.8" cy="389.62" r="2.1" fill="#fff" stroke="#333" stroke-width="1.1"/>
<circle cx="464.02" cy="388.62" r="2.1" fill="#fff" stroke="#333" stroke-width="1.1"/>
<circle cx="482.48" cy="389.96" r="2.1" fill="#fff" stroke="#333" stroke-width="1.1"/>
<text x="310.2" y="324.96" font-size="8" text-anchor="middle" fill="#000" stroke="#000" stroke-width="0.32">*</text>
<text x="326" y="324.96" font-size="8" text-anchor="middle" fill="#000" stroke="#000" stroke-width="0.32">*</text>
<text x="344.1" y="328.76" font-size="8" text-anchor="middle" fill="#000" stroke="#000" stroke-width="0.32">**</text>
<text x="399.45" y="304.36" font-size="8" text-anchor="middle" fill="#000" stroke="#000" stroke-width="0.32">*</text>
<text transform="translate(351.5 276.1) scale(0.89 1)" font-size="8.51" text-anchor="middle" fill="#000" stroke="#000" stroke-width="0.32">Oligomycin</text>
<line x1="351.5" y1="280.6" x2="351.5" y2="289" stroke="#000" stroke-width="1.4"/>
<path d="M349.2,287.4 L351.5,295 L353.8,287.4 Z" fill="#000"/>
<text transform="translate(398.9 276.1) scale(0.89 1)" font-size="8.51" text-anchor="middle" fill="#000" stroke="#000" stroke-width="0.32">FCCP</text>
<line x1="398.5" y1="280.6" x2="398.5" y2="289" stroke="#000" stroke-width="1.4"/>
<path d="M396.6,287.4 L398.9,295 L401.2,287.4 Z" fill="#000"/>
<text transform="translate(446 267) scale(0.89 1)" font-size="8.51" text-anchor="middle" fill="#000" stroke="#000" stroke-width="0.32">Rotenone +</text>
<text transform="translate(446 276.1) scale(0.89 1)" font-size="8.51" text-anchor="middle" fill="#000" stroke="#000" stroke-width="0.32">Antimycin</text>
<line x1="446.5" y1="280.6" x2="446.5" y2="289" stroke="#000" stroke-width="1.4"/>
<path d="M443.7,287.4 L446,295 L448.3,287.4 Z" fill="#000"/>
<line x1="453.3" y1="339.5" x2="461.9" y2="339.5" stroke="#000" stroke-width="1.6"/>
<path d="M457.6,336.9 L461,339.4 L457.6,341.9 L454.2,339.4 Z" fill="#000"/>
<text transform="translate(464.6 342.2) scale(0.89 1)" font-size="8.51" text-anchor="start" fill="#000" stroke="#000" stroke-width="0.32">M1</text>
<line x1="453.3" y1="353.5" x2="461.9" y2="353.5" stroke="#333" stroke-width="1.2"/>
<path d="M457.6,350.9 L460.6,353.2 L457.6,355.5 L454.6,353.2 Z" fill="#fff" stroke="#333" stroke-width="0.9"/>
<text transform="translate(464.6 356) scale(0.89 1)" font-size="8.51" text-anchor="start" fill="#000" stroke="#000" stroke-width="0.32">MΦ</text>
<text transform="translate(6.4 437.2) scale(0.89 1)" font-size="12.32" text-anchor="start" font-weight="bold" fill="#000" stroke="#000" stroke-width="0.32">D</text>
<line x1="49.5" y1="457.5" x2="49.5" y2="534.6" stroke="#000" stroke-width="1.4"/>
<line x1="46.7" y1="460.5" x2="49.2" y2="460.5" stroke="#000" stroke-width="1.4"/>
<text transform="translate(43.7 463.78) scale(0.89 1)" font-size="8.96" text-anchor="end" fill="#000" stroke="#000" stroke-width="0.32">10000</text>
<line x1="46.7" y1="479.5" x2="49.2" y2="479.5" stroke="#000" stroke-width="1.4"/>
<text transform="translate(43.7 481.98) scale(0.89 1)" font-size="8.96" text-anchor="end" fill="#000" stroke="#000" stroke-width="0.32">1000</text>
<line x1="46.7" y1="497.5" x2="49.2" y2="497.5" stroke="#000" stroke-width="1.4"/>
<text transform="translate(43.7 500.28) scale(0.89 1)" font-size="8.96" text-anchor="end" fill="#000" stroke="#000" stroke-width="0.32">100</text>
<line x1="46.7" y1="515.5" x2="49.2" y2="515.5" stroke="#000" stroke-width="1.4"/>
<text transform="translate(43.7 518.58) scale(0.89 1)" font-size="8.96" text-anchor="end" fill="#000" stroke="#000" stroke-width="0.32">10</text>
<line x1="46.7" y1="534.5" x2="49.2" y2="534.5" stroke="#000" stroke-width="1.4"/>
<text transform="translate(43.7 536.88) scale(0.89 1)" font-size="8.96" text-anchor="end" fill="#000" stroke="#000" stroke-width="0.32">1</text>
<line x1="48.6" y1="534.5" x2="121.3" y2="534.5" stroke="#000" stroke-width="1.4"/>
<line x1="61.5" y1="534" x2="61.5" y2="536.5" stroke="#000" stroke-width="1.4"/>
<line x1="85.5" y1="534" x2="85.5" y2="536.5" stroke="#000" stroke-width="1.4"/>
<line x1="108.5" y1="534" x2="108.5" y2="536.5" stroke="#000" stroke-width="1.4"/>
<rect x="57.8" y="533" width="7.7" height="1" fill="#555"/>
<line x1="85.5" y1="479.3" x2="85.5" y2="478.3" stroke="#000" stroke-width="1.1"/>
<line x1="81.45" y1="478.5" x2="89.35" y2="478.5" stroke="#000" stroke-width="1.3"/>
<rect x="77.5" y="479.3" width="15.8" height="54.7" fill="#c2c2c2"/>
<line x1="109.5" y1="488.8" x2="109.5" y2="485.8" stroke="#000" stroke-width="1.1"/>
<line x1="105.35" y1="485.5" x2="113.45" y2="485.5" stroke="#000" stroke-width="1.3"/>
<rect x="101.3" y="488.8" width="16.2" height="45.2" fill="#000"/>
<line x1="60.8" y1="465.5" x2="108.3" y2="465.5" stroke="#000" stroke-width="1.1"/>
<text x="84.5" y="465.46" font-size="9.5" text-anchor="middle" fill="#000" stroke="#000" stroke-width="0.32">*</text>
<line x1="60.8" y1="472.5" x2="83.3" y2="472.5" stroke="#000" stroke-width="1.1"/>
<text x="72" y="472.96" font-size="9.5" text-anchor="middle" fill="#000" stroke="#000" stroke-width="0.32">*</text>
<text transform="translate(89.5 449.5) scale(0.93 1)" font-size="10.22" text-anchor="middle" stroke="#000" stroke-width="0.12">miR-125b</text>
<text x="14.85" y="495.9" font-size="8.6" text-anchor="middle" fill="#000" stroke="#000" stroke-width="0.32" transform="rotate(-90 14.85 495.9)">Relative expression</text>
<text transform="translate(61.3 546.3) scale(0.89 1)" font-size="9.07" text-anchor="middle" fill="#000" stroke="#000" stroke-width="0.32">MO</text>
<text transform="translate(85.2 546.3) scale(0.89 1)" font-size="9.07" text-anchor="middle" fill="#000" stroke="#000" stroke-width="0.32">MΦ</text>
<text transform="translate(108.8 546.3) scale(0.89 1)" font-size="9.07" text-anchor="middle" fill="#000" stroke="#000" stroke-width="0.32">M1</text>
<line x1="156.5" y1="457.5" x2="156.5" y2="535.2" stroke="#000" stroke-width="1.4"/>
<line x1="154.3" y1="460.5" x2="156.8" y2="460.5" stroke="#000" stroke-width="1.4"/>
<text transform="translate(151.3 463.48) scale(0.89 1)" font-size="8.96" text-anchor="end" fill="#000" stroke="#000" stroke-width="0.32">25</text>
<line x1="154.3" y1="475.5" x2="156.8" y2="475.5" stroke="#000" stroke-width="1.4"/>
<text transform="translate(151.3 478.28) scale(0.89 1)" font-size="8.96" text-anchor="end" fill="#000" stroke="#000" stroke-width="0.32">20</text>
<line x1="154.3" y1="490.5" x2="156.8" y2="490.5" stroke="#000" stroke-width="1.4"/>
<text transform="translate(151.3 493.08) scale(0.89 1)" font-size="8.96" text-anchor="end" fill="#000" stroke="#000" stroke-width="0.32">15</text>
<line x1="154.3" y1="505.5" x2="156.8" y2="505.5" stroke="#000" stroke-width="1.4"/>
<text transform="translate(151.3 507.88) scale(0.89 1)" font-size="8.96" text-anchor="end" fill="#000" stroke="#000" stroke-width="0.32">10</text>
<line x1="154.3" y1="519.5" x2="156.8" y2="519.5" stroke="#000" stroke-width="1.4"/>
<text transform="translate(151.3 522.68) scale(0.89 1)" font-size="8.96" text-anchor="end" fill="#000" stroke="#000" stroke-width="0.32">5</text>
<line x1="154.3" y1="534.5" x2="156.8" y2="534.5" stroke="#000" stroke-width="1.4"/>
<text transform="translate(151.3 537.48) scale(0.89 1)" font-size="8.96" text-anchor="end" fill="#000" stroke="#000" stroke-width="0.32">0</text>
<line x1="156.2" y1="534.5" x2="229.5" y2="534.5" stroke="#000" stroke-width="1.4"/>
<line x1="168.5" y1="534.6" x2="168.5" y2="537.1" stroke="#000" stroke-width="1.4"/>
<line x1="192.5" y1="534.6" x2="192.5" y2="537.1" stroke="#000" stroke-width="1.4"/>
<line x1="217.5" y1="534.6" x2="217.5" y2="537.1" stroke="#000" stroke-width="1.4"/>
<line x1="168.5" y1="488" x2="168.5" y2="476.1" stroke="#000" stroke-width="1.1"/>
<line x1="164.75" y1="476.5" x2="172.65" y2="476.5" stroke="#000" stroke-width="1.3"/>
<rect x="160.8" y="488" width="15.8" height="46.6" fill="#7a7a7a"/>
<line x1="192.5" y1="513.7" x2="192.5" y2="511.4" stroke="#000" stroke-width="1.1"/>
<line x1="188.68" y1="511.5" x2="196.82" y2="511.5" stroke="#000" stroke-width="1.3"/>
<rect x="184.6" y="513.7" width="16.3" height="20.9" fill="#c2c2c2"/>
<line x1="217.5" y1="530.6" x2="217.5" y2="529.5" stroke="#000" stroke-width="1.1"/>
<line x1="213.08" y1="529.5" x2="221.03" y2="529.5" stroke="#000" stroke-width="1.3"/>
<rect x="209.1" y="530.6" width="15.9" height="4" fill="#000"/>
<line x1="167.5" y1="464.5" x2="216.3" y2="464.5" stroke="#000" stroke-width="1.1"/>
<text x="192.3" y="464.76" font-size="9.5" text-anchor="middle" fill="#000" stroke="#000" stroke-width="0.32">***</text>
<line x1="167.5" y1="472.5" x2="191.3" y2="472.5" stroke="#000" stroke-width="1.1"/>
<text x="179.2" y="472.96" font-size="9.5" text-anchor="middle" fill="#000" stroke="#000" stroke-width="0.32">**</text>
<line x1="192.5" y1="506.5" x2="216.3" y2="506.5" stroke="#000" stroke-width="1.1"/>
<text x="203.8" y="506.76" font-size="9.5" text-anchor="middle" fill="#000" stroke="#000" stroke-width="0.32">*</text>
<text transform="translate(192.5 449.5) scale(0.93 1)" font-size="10.22" text-anchor="middle" stroke="#000" stroke-width="0.12">BIK</text>
<text x="136.25" y="495.6" font-size="8.6" text-anchor="middle" fill="#000" stroke="#000" stroke-width="0.32" transform="rotate(-90 136.25 495.6)">Relative expression</text>
<text transform="translate(168.7 546.3) scale(0.89 1)" font-size="9.07" text-anchor="middle" fill="#000" stroke="#000" stroke-width="0.32">MO</text>
<text transform="translate(192.7 546.3) scale(0.89 1)" font-size="9.07" text-anchor="middle" fill="#000" stroke="#000" stroke-width="0.32">MΦ</text>
<text transform="translate(217 546.3) scale(0.89 1)" font-size="9.07" text-anchor="middle" fill="#000" stroke="#000" stroke-width="0.32">M1</text>
<line x1="264.5" y1="456.3" x2="264.5" y2="534.9" stroke="#000" stroke-width="1.4"/>
<line x1="262" y1="459.5" x2="264.5" y2="459.5" stroke="#000" stroke-width="1.4"/>
<text transform="translate(259 462.18) scale(0.89 1)" font-size="8.96" text-anchor="end" fill="#000" stroke="#000" stroke-width="0.32">10</text>
<line x1="262" y1="474.5" x2="264.5" y2="474.5" stroke="#000" stroke-width="1.4"/>
<text transform="translate(259 477.18) scale(0.89 1)" font-size="8.96" text-anchor="end" fill="#000" stroke="#000" stroke-width="0.32">8</text>
<line x1="262" y1="489.5" x2="264.5" y2="489.5" stroke="#000" stroke-width="1.4"/>
<text transform="translate(259 492.18) scale(0.89 1)" font-size="8.96" text-anchor="end" fill="#000" stroke="#000" stroke-width="0.32">6</text>
<line x1="262" y1="504.5" x2="264.5" y2="504.5" stroke="#000" stroke-width="1.4"/>
<text transform="translate(259 507.18) scale(0.89 1)" font-size="8.96" text-anchor="end" fill="#000" stroke="#000" stroke-width="0.32">4</text>
<line x1="262" y1="519.5" x2="264.5" y2="519.5" stroke="#000" stroke-width="1.4"/>
<text transform="translate(259 522.18) scale(0.89 1)" font-size="8.96" text-anchor="end" fill="#000" stroke="#000" stroke-width="0.32">2</text>
<line x1="262" y1="534.5" x2="264.5" y2="534.5" stroke="#000" stroke-width="1.4"/>
<text transform="translate(259 537.18) scale(0.89 1)" font-size="8.96" text-anchor="end" fill="#000" stroke="#000" stroke-width="0.32">0</text>
<line x1="263.9" y1="534.5" x2="337" y2="534.5" stroke="#000" stroke-width="1.4"/>
<line x1="276.5" y1="534.3" x2="276.5" y2="536.8" stroke="#000" stroke-width="1.4"/>
<line x1="300.5" y1="534.3" x2="300.5" y2="536.8" stroke="#000" stroke-width="1.4"/>
<line x1="324.5" y1="534.3" x2="324.5" y2="536.8" stroke="#000" stroke-width="1.4"/>
<line x1="275.5" y1="478" x2="275.5" y2="468.8" stroke="#000" stroke-width="1.1"/>
<line x1="271.95" y1="468.5" x2="279.85" y2="468.5" stroke="#000" stroke-width="1.3"/>
<rect x="268" y="478" width="15.8" height="56.3" fill="#7a7a7a"/>
<line x1="300.5" y1="500" x2="300.5" y2="497" stroke="#000" stroke-width="1.1"/>
<line x1="296" y1="497.5" x2="304" y2="497.5" stroke="#000" stroke-width="1.3"/>
<rect x="292" y="500" width="16" height="34.3" fill="#c2c2c2"/>
<line x1="324.5" y1="505" x2="324.5" y2="501.3" stroke="#000" stroke-width="1.1"/>
<line x1="320.35" y1="501.5" x2="328.45" y2="501.5" stroke="#000" stroke-width="1.3"/>
<rect x="316.3" y="505" width="16.2" height="29.3" fill="#000"/>
<line x1="275" y1="457.5" x2="323" y2="457.5" stroke="#000" stroke-width="1.1"/>
<text x="299.5" y="457.96" font-size="9.5" text-anchor="middle" fill="#000" stroke="#000" stroke-width="0.32">**</text>
<line x1="275" y1="465.5" x2="298.8" y2="465.5" stroke="#000" stroke-width="1.1"/>
<text x="286.3" y="465.46" font-size="9.5" text-anchor="middle" fill="#000" stroke="#000" stroke-width="0.32">**</text>
<text transform="translate(299.5 449.5) scale(0.93 1)" font-size="10.22" text-anchor="middle" stroke="#000" stroke-width="0.12">MTP18</text>
<text x="243.25" y="495" font-size="8.6" text-anchor="middle" fill="#000" stroke="#000" stroke-width="0.32" transform="rotate(-90 243.25 495)">Relative expression</text>
<text transform="translate(275.5 546.3) scale(0.89 1)" font-size="9.07" text-anchor="middle" fill="#000" stroke="#000" stroke-width="0.32">MO</text>
<text transform="translate(299.8 546.3) scale(0.89 1)" font-size="9.07" text-anchor="middle" fill="#000" stroke="#000" stroke-width="0.32">MΦ</text>
<text transform="translate(324 546.3) scale(0.89 1)" font-size="9.07" text-anchor="middle" fill="#000" stroke="#000" stroke-width="0.32">M1</text>
<text transform="translate(344.2 437.2) scale(0.89 1)" font-size="12.32" text-anchor="start" font-weight="bold" fill="#000" stroke="#000" stroke-width="0.32">F</text>
<line x1="373.5" y1="442.3" x2="373.5" y2="531.9" stroke="#000" stroke-width="1.4"/>
<line x1="371.1" y1="446.5" x2="373.6" y2="446.5" stroke="#000" stroke-width="1.4"/>
<text transform="translate(368.1 449.38) scale(0.89 1)" font-size="8.96" text-anchor="end" fill="#000" stroke="#000" stroke-width="0.32">25</text>
<line x1="371.1" y1="463.5" x2="373.6" y2="463.5" stroke="#000" stroke-width="1.4"/>
<text transform="translate(368.1 466.34) scale(0.89 1)" font-size="8.96" text-anchor="end" fill="#000" stroke="#000" stroke-width="0.32">20</text>
<line x1="371.1" y1="480.5" x2="373.6" y2="480.5" stroke="#000" stroke-width="1.4"/>
<text transform="translate(368.1 483.3) scale(0.89 1)" font-size="8.96" text-anchor="end" fill="#000" stroke="#000" stroke-width="0.32">15</text>
<line x1="371.1" y1="497.5" x2="373.6" y2="497.5" stroke="#000" stroke-width="1.4"/>
<text transform="translate(368.1 500.26) scale(0.89 1)" font-size="8.96" text-anchor="end" fill="#000" stroke="#000" stroke-width="0.32">10</text>
<line x1="371.1" y1="514.5" x2="373.6" y2="514.5" stroke="#000" stroke-width="1.4"/>
<text transform="translate(368.1 517.22) scale(0.89 1)" font-size="8.96" text-anchor="end" fill="#000" stroke="#000" stroke-width="0.32">5</text>
<line x1="371.1" y1="531.5" x2="373.6" y2="531.5" stroke="#000" stroke-width="1.4"/>
<text transform="translate(368.1 534.18) scale(0.89 1)" font-size="8.96" text-anchor="end" fill="#000" stroke="#000" stroke-width="0.32">0</text>
<line x1="373" y1="531.5" x2="506.1" y2="531.5" stroke="#000" stroke-width="1.4"/>
<line x1="396.5" y1="531.3" x2="396.5" y2="533.8" stroke="#000" stroke-width="1.4"/>
<line x1="421.5" y1="531.3" x2="421.5" y2="533.8" stroke="#000" stroke-width="1.4"/>
<line x1="465.5" y1="531.3" x2="465.5" y2="533.8" stroke="#000" stroke-width="1.4"/>
<line x1="491.5" y1="531.3" x2="491.5" y2="533.8" stroke="#000" stroke-width="1.4"/>
<line x1="396.5" y1="489.7" x2="396.5" y2="474.2" stroke="#000" stroke-width="1.1"/>
<line x1="391.72" y1="474.5" x2="400.37" y2="474.5" stroke="#000" stroke-width="1.3"/>
<rect x="387.4" y="489.7" width="17.3" height="41.6" fill="#000"/>
<line x1="421.5" y1="511" x2="421.5" y2="508.2" stroke="#000" stroke-width="1.1"/>
<line x1="417.38" y1="508.5" x2="426.33" y2="508.5" stroke="#000" stroke-width="1.3"/>
<rect x="412.9" y="511" width="17.9" height="20.3" fill="#878787"/>
<line x1="465.5" y1="463.1" x2="465.5" y2="458.6" stroke="#000" stroke-width="1.1"/>
<line x1="461.03" y1="458.5" x2="469.88" y2="458.5" stroke="#000" stroke-width="1.3"/>
<rect x="456.6" y="463.1" width="17.7" height="68.2" fill="#000"/>
<line x1="491.5" y1="529.6" x2="491.5" y2="528.3" stroke="#000" stroke-width="1.1"/>
<line x1="486.93" y1="528.5" x2="495.57" y2="528.5" stroke="#000" stroke-width="1.3"/>
<rect x="482.6" y="529.6" width="17.3" height="1.7" fill="#878787"/>
<line x1="396.2" y1="469.5" x2="420.4" y2="469.5" stroke="#000" stroke-width="1.1"/>
<text x="408.6" y="469.86" font-size="9.5" text-anchor="middle" fill="#000" stroke="#000" stroke-width="0.32">**</text>
<line x1="467.7" y1="455.5" x2="491.9" y2="455.5" stroke="#000" stroke-width="1.1"/>
<text x="481.5" y="455.06" font-size="9.5" text-anchor="middle" fill="#000" stroke="#000" stroke-width="0.32">***</text>
<rect x="381.6" y="442.3" width="8.4" height="5.6" fill="#000"/>
<text transform="translate(393.2 447.8) scale(0.89 1)" font-size="8.74" text-anchor="start" fill="#000" stroke="#000" stroke-width="0.32">miR-125b</text>
<rect x="381.6" y="451.6" width="8.4" height="5.6" fill="#878787"/>
<text transform="translate(393.2 457) scale(0.89 1)" font-size="8.74" text-anchor="start" fill="#000" stroke="#000" stroke-width="0.32">Anti-125b</text>
<text transform="translate(408.5 544.4) scale(0.89 1)" font-size="9.07" text-anchor="middle" fill="#000" stroke="#000" stroke-width="0.32">TNF</text>
<text transform="translate(477.8 544.4) scale(0.89 1)" font-size="9.07" text-anchor="middle" fill="#000" stroke="#000" stroke-width="0.32">CXCL11</text>
<text x="352.6" y="487.2" font-size="8" text-anchor="middle" fill="#000" stroke="#000" stroke-width="0.32" transform="rotate(-90 352.6 487.2)">FC</text>
<text transform="translate(8.3 574.9) scale(0.89 1)" font-size="12.32" text-anchor="start" font-weight="bold" fill="#000" stroke="#000" stroke-width="0.32">E</text>
<defs>
<filter id="bl1" x="-20%" y="-20%" width="140%" height="140%"><feGaussianBlur stdDeviation="0.55"/></filter>
<filter id="bl2" x="-30%" y="-30%" width="160%" height="160%"><feGaussianBlur stdDeviation="2.5"/></filter>
<filter id="bl15" x="-20%" y="-20%" width="140%" height="140%"><feGaussianBlur stdDeviation="0.9"/></filter>
<filter id="bl3" x="-30%" y="-30%" width="160%" height="160%"><feGaussianBlur stdDeviation="1.3"/></filter>
<radialGradient id="nucA" cx="50%" cy="45%" r="55%"><stop offset="0" stop-color="#2232d2"/><stop offset="0.7" stop-color="#1c2bc0"/><stop offset="1" stop-color="#121c90"/></radialGradient>
<radialGradient id="nucB" cx="50%" cy="55%" r="55%"><stop offset="0" stop-color="#2030d0"/><stop offset="0.7" stop-color="#1824b0"/><stop offset="1" stop-color="#101a80"/></radialGradient>
<clipPath id="cpA"><rect x="17.9" y="587.1" width="79.7" height="80.1"/></clipPath>
<clipPath id="cpB"><rect x="99.8" y="587.1" width="79.8" height="79.4"/></clipPath>
</defs>
<rect x="17.9" y="587.1" width="79.7" height="80.1" fill="#03090a"/>
<g clip-path="url(#cpA)">
<g filter="url(#bl2)">
<path d="M18,618 C30,628 50,630 70,626 C85,624 95,626 98,628 L98,652 C85,656 70,660 55,658 C40,657 28,660 18,658 Z" fill="#0c2a10"/>
</g>
<g filter="url(#bl1)"><circle cx="54.2" cy="638.6" r="1.1" fill="rgb(38,120,30)" opacity="0.7"/><circle cx="58.6" cy="640.2" r="1.1" fill="rgb(18,68,17)" opacity="0.4"/><circle cx="68.4" cy="652.6" r="0.9" fill="rgb(15,60,15)" opacity="0.4"/><circle cx="25.3" cy="653.6" r="0.7" fill="rgb(34,110,28)" opacity="0.6"/><circle cx="70.3" cy="641.9" r="0.7" fill="rgb(17,63,16)" opacity="0.4"/><circle cx="33.2" cy="619.5" r="1.1" fill="rgb(13,53,14)" opacity="0.3"/><circle cx="53.2" cy="655.5" r="1.2" fill="rgb(23,81,21)" opacity="0.5"/><circle cx="58" cy="644.7" r="0.9" fill="rgb(25,86,22)" opacity="0.5"/><circle cx="85.2" cy="647.5" r="0.9" fill="rgb(18,67,17)" opacity="0.4"/><circle cx="79.3" cy="629" r="1" fill="rgb(28,94,24)" opacity="0.5"/><circle cx="18" cy="617.6" r="1.1" fill="rgb(43,133,34)" opacity="0.7"/><circle cx="96.4" cy="628.8" r="1.2" fill="rgb(12,52,13)" opacity="0.3"/><circle cx="25" cy="625" r="1.3" fill="rgb(45,140,35)" opacity="0.8"/><circle cx="27.4" cy="619.8" r="0.7" fill="rgb(18,68,17)" opacity="0.4"/><circle cx="62.7" cy="631.8" r="1.3" fill="rgb(18,67,17)" opacity="0.4"/><circle cx="28.5" cy="643.6" r="1" fill="rgb(19,69,18)" opacity="0.4"/><circle cx="35" cy="621.2" r="1.3" fill="rgb(32,103,26)" opacity="0.6"/><circle cx="42.3" cy="658.1" r="1" fill="rgb(16,62,16)" opacity="0.4"/><circle cx="86.4" cy="643.5" r="1.5" fill="rgb(14,57,15)" opacity="0.4"/><circle cx="35.1" cy="620.5" r="1" fill="rgb(26,89,23)" opacity="0.5"/><circle cx="25.2" cy="640" r="1.2" fill="rgb(23,80,20)" opacity="0.5"/><circle cx="47.7" cy="632.2" r="1.1" fill="rgb(41,128,32)" opacity="0.7"/><circle cx="64" cy="657" r="0.8" fill="rgb(15,59,15)" opacity="0.4"/><circle cx="90.7" cy="654.1" r="0.9" fill="rgb(14,56,14)" opacity="0.4"/><circle cx="88.6" cy="641.2" r="0.8" fill="rgb(19,70,18)" opacity="0.4"/><circle cx="37.1" cy="647.3" r="1.4" fill="rgb(23,80,20)" opacity="0.5"/><circle cx="65.7" cy="622.6" r="1.3" fill="rgb(15,58,15)" opacity="0.4"/><circle cx="23.5" cy="618.7" r="1.4" fill="rgb(33,106,27)" opacity="0.6"/><circle cx="67.1" cy="621.8" r="0.9" fill="rgb(24,83,21)" opacity="0.5"/><circle cx="19.3" cy="621.2" r="0.7" fill="rgb(29,96,24)" opacity="0.6"/><circle cx="32.1" cy="627.1" r="0.8" fill="rgb(33,107,27)" opacity="0.6"/><circle cx="47" cy="658.5" r="1.2" fill="rgb(28,93,24)" opacity="0.5"/><circle cx="73.3" cy="640.1" r="0.7" fill="rgb(16,62,16)" opacity="0.4"/><circle cx="19.7" cy="643.2" r="1.3" fill="rgb(30,100,25)" opacity="0.6"/><circle cx="24" cy="637.8" r="1.4" fill="rgb(38,121,31)" opacity="0.7"/><circle cx="77" cy="647.2" r="1.4" fill="rgb(28,94,24)" opacity="0.5"/><circle cx="46.1" cy="646.1" r="1.4" fill="rgb(40,125,32)" opacity="0.7"/><circle cx="51.4" cy="652.4" r="1.2" fill="rgb(36,116,29)" opacity="0.7"/><circle cx="68" cy="627.9" r="1.2" fill="rgb(26,89,23)" opacity="0.5"/><circle cx="24.4" cy="643.4" r="1.4" fill="rgb(46,142,36)" opacity="0.8"/><circle cx="76.3" cy="628.3" r="1.2" fill="rgb(26,90,23)" opacity="0.5"/><circle cx="53.2" cy="655.3" r="1.3" fill="rgb(15,59,15)" opacity="0.4"/><circle cx="20.4" cy="641.1" r="0.9" fill="rgb(30,99,25)" opacity="0.6"/><circle cx="73.9" cy="634.8" r="1.4" fill="rgb(25,87,22)" opacity="0.5"/><circle cx="42.1" cy="645.7" r="0.8" fill="rgb(21,74,19)" opacity="0.4"/><circle cx="90.5" cy="644.6" r="1.4" fill="rgb(19,70,18)" opacity="0.4"/><circle cx="44.2" cy="645" r="1" fill="rgb(20,73,19)" opacity="0.4"/><circle cx="88.4" cy="628.1" r="1" fill="rgb(20,72,18)" opacity="0.4"/><circle cx="28.9" cy="634.8" r="1.4" fill="rgb(41,129,33)" opacity="0.7"/><circle cx="54.1" cy="621.5" r="1" fill="rgb(16,62,16)" opacity="0.4"/><circle cx="68.1" cy="634.6" r="1.4" fill="rgb(20,73,19)" opacity="0.4"/><circle cx="96.6" cy="632.1" r="0.7" fill="rgb(13,54,14)" opacity="0.3"/><circle cx="74.7" cy="639.2" r="1.3" fill="rgb(19,70,18)" opacity="0.4"/><circle cx="19.5" cy="613.2" r="0.7" fill="rgb(23,80,20)" opacity="0.5"/><circle cx="68.3" cy="631.8" r="1.2" fill="rgb(27,91,23)" opacity="0.5"/><circle cx="18.9" cy="633.3" r="0.8" fill="rgb(37,119,30)" opacity="0.7"/><circle cx="39.8" cy="625.7" r="1.1" fill="rgb(33,108,27)" opacity="0.6"/><circle cx="67.2" cy="650.4" r="1.3" fill="rgb(22,78,20)" opacity="0.5"/><circle cx="92.6" cy="648.3" r="1.1" fill="rgb(14,57,15)" opacity="0.4"/><circle cx="48.1" cy="639.1" r="1.3" fill="rgb(39,122,31)" opacity="0.7"/><circle cx="93.5" cy="632.8" r="0.9" fill="rgb(21,76,19)" opacity="0.5"/><circle cx="75.8" cy="654.1" r="1.3" fill="rgb(22,79,20)" opacity="0.5"/><circle cx="35.1" cy="659" r="1.5" fill="rgb(29,96,24)" opacity="0.6"/><circle cx="61" cy="652.4" r="1.4" fill="rgb(21,75,19)" opacity="0.5"/><circle cx="86.5" cy="625.9" r="1.1" fill="rgb(13,53,14)" opacity="0.3"/><circle cx="62" cy="651.1" r="0.7" fill="rgb(25,86,22)" opacity="0.5"/><circle cx="44.8" cy="652.3" r="0.8" fill="rgb(18,68,17)" opacity="0.4"/><circle cx="59.3" cy="648.4" r="1.3" fill="rgb(34,110,28)" opacity="0.6"/><circle cx="93.7" cy="634.6" r="0.8" fill="rgb(26,88,22)" opacity="0.5"/><circle cx="35.7" cy="636.6" r="1.3" fill="rgb(24,83,21)" opacity="0.5"/><circle cx="69.1" cy="636.4" r="1.1" fill="rgb(31,103,26)" opacity="0.6"/><circle cx="42.9" cy="627.9" r="1.4" fill="rgb(39,124,31)" opacity="0.7"/><circle cx="34.7" cy="656" r="1.1" fill="rgb(36,114,29)" opacity="0.6"/><circle cx="60.9" cy="635.2" r="0.7" fill="rgb(28,94,24)" opacity="0.5"/><circle cx="95.6" cy="636" r="1.3" fill="rgb(17,66,17)" opacity="0.4"/><circle cx="63" cy="634.5" r="0.8" fill="rgb(30,98,25)" opacity="0.6"/><circle cx="61.1" cy="629.8" r="1.4" fill="rgb(36,116,29)" opacity="0.7"/><circle cx="39.5" cy="633.4" r="1" fill="rgb(19,69,18)" opacity="0.4"/><circle cx="56.1" cy="624" r="1.2" fill="rgb(17,64,16)" opacity="0.4"/><circle cx="73" cy="624.3" r="1.2" fill="rgb(17,65,17)" opacity="0.4"/><circle cx="26.4" cy="648.9" r="1.1" fill="rgb(19,69,18)" opacity="0.4"/><circle cx="60.4" cy="631.2" r="1" fill="rgb(23,80,20)" opacity="0.5"/><circle cx="34.3" cy="642.9" r="1.1" fill="rgb(35,113,29)" opacity="0.6"/><circle cx="86.1" cy="641.7" r="0.9" fill="rgb(27,90,23)" opacity="0.5"/><circle cx="77.3" cy="653.6" r="1" fill="rgb(26,90,23)" opacity="0.5"/><circle cx="37.1" cy="648.6" r="0.8" fill="rgb(23,80,20)" opacity="0.5"/><circle cx="84.6" cy="630.3" r="0.8" fill="rgb(26,88,22)" opacity="0.5"/><circle cx="50.2" cy="646.1" r="0.9" fill="rgb(15,58,15)" opacity="0.4"/><circle cx="58.5" cy="650.5" r="1.2" fill="rgb(26,89,23)" opacity="0.5"/><circle cx="62.1" cy="635.9" r="0.8" fill="rgb(27,91,23)" opacity="0.5"/><circle cx="55" cy="650.9" r="1.1" fill="rgb(22,79,20)" opacity="0.5"/><circle cx="59.2" cy="630.8" r="0.7" fill="rgb(28,95,24)" opacity="0.6"/><circle cx="74.1" cy="655.7" r="1.1" fill="rgb(15,58,15)" opacity="0.4"/><circle cx="77.1" cy="629.3" r="0.8" fill="rgb(17,63,16)" opacity="0.4"/><circle cx="89.5" cy="653.1" r="1.4" fill="rgb(20,71,18)" opacity="0.4"/><circle cx="68.4" cy="629.3" r="1.1" fill="rgb(26,89,23)" opacity="0.5"/><circle cx="96.6" cy="653.3" r="1.4" fill="rgb(13,55,14)" opacity="0.4"/><circle cx="77.6" cy="651.7" r="1" fill="rgb(27,92,23)" opacity="0.5"/><circle cx="73.6" cy="651" r="1" fill="rgb(29,95,24)" opacity="0.6"/><circle cx="45.3" cy="633.1" r="1" fill="rgb(15,59,15)" opacity="0.4"/><circle cx="69.1" cy="642.4" r="1.5" fill="rgb(18,68,17)" opacity="0.4"/><circle cx="71.3" cy="625.3" r="1.2" fill="rgb(23,81,21)" opacity="0.5"/><circle cx="60.6" cy="628.4" r="1.2" fill="rgb(38,120,30)" opacity="0.7"/><circle cx="74.1" cy="650.7" r="0.7" fill="rgb(33,106,27)" opacity="0.6"/><circle cx="67.2" cy="649.3" r="1" fill="rgb(19,70,18)" opacity="0.4"/><circle cx="22" cy="616.7" r="0.8" fill="rgb(25,87,22)" opacity="0.5"/><circle cx="38.1" cy="659.3" r="1.1" fill="rgb(21,75,19)" opacity="0.5"/><circle cx="95.4" cy="639.1" r="1.2" fill="rgb(26,88,22)" opacity="0.5"/><circle cx="65.8" cy="650.6" r="1.4" fill="rgb(14,58,15)" opacity="0.4"/><circle cx="30.8" cy="633.3" r="1.1" fill="rgb(20,73,19)" opacity="0.4"/><circle cx="93.6" cy="630.2" r="1.2" fill="rgb(19,70,18)" opacity="0.4"/><circle cx="47.2" cy="622.1" r="1.1" fill="rgb(25,86,22)" opacity="0.5"/><circle cx="40.7" cy="648" r="0.7" fill="rgb(24,82,21)" opacity="0.5"/><circle cx="30.5" cy="650.3" r="1.4" fill="rgb(27,92,23)" opacity="0.5"/><circle cx="23.9" cy="659.3" r="1.1" fill="rgb(19,70,18)" opacity="0.4"/><circle cx="75.8" cy="633.1" r="1.4" fill="rgb(32,105,27)" opacity="0.6"/><circle cx="67.9" cy="632.3" r="0.7" fill="rgb(18,67,17)" opacity="0.4"/><circle cx="53.4" cy="645.1" r="0.9" fill="rgb(26,88,22)" opacity="0.5"/><circle cx="64.6" cy="630.2" r="1.1" fill="rgb(31,102,26)" opacity="0.6"/><circle cx="27.1" cy="658.6" r="1.2" fill="rgb(26,90,23)" opacity="0.5"/><circle cx="46.7" cy="621.3" r="1.2" fill="rgb(24,84,21)" opacity="0.5"/><circle cx="65.3" cy="643" r="0.9" fill="rgb(30,100,25)" opacity="0.6"/><circle cx="39.7" cy="630.5" r="0.8" fill="rgb(33,108,27)" opacity="0.6"/><circle cx="24.9" cy="645.6" r="1.2" fill="rgb(32,105,27)" opacity="0.6"/><circle cx="47.9" cy="633.7" r="1" fill="rgb(20,73,19)" opacity="0.4"/><circle cx="77.6" cy="655.3" r="0.8" fill="rgb(13,53,14)" opacity="0.3"/><circle cx="82.7" cy="642.4" r="0.9" fill="rgb(26,89,23)" opacity="0.5"/><circle cx="51.9" cy="620.5" r="1" fill="rgb(24,84,21)" opacity="0.5"/><circle cx="44" cy="637.9" r="1.4" fill="rgb(36,115,29)" opacity="0.7"/><circle cx="52.2" cy="627.2" r="1.4" fill="rgb(17,64,16)" opacity="0.4"/><circle cx="63.1" cy="634.1" r="0.9" fill="rgb(29,98,25)" opacity="0.6"/><circle cx="35.1" cy="644.7" r="0.9" fill="rgb(18,66,17)" opacity="0.4"/><circle cx="76" cy="646.6" r="0.8" fill="rgb(18,68,17)" opacity="0.4"/><circle cx="46.6" cy="648.6" r="0.8" fill="rgb(25,85,22)" opacity="0.5"/><circle cx="74.7" cy="639.2" r="1.5" fill="rgb(31,102,26)" opacity="0.6"/><circle cx="91.1" cy="631.3" r="0.9" fill="rgb(24,84,21)" opacity="0.5"/><circle cx="43.4" cy="629" r="1.4" fill="rgb(42,130,33)" opacity="0.7"/><circle cx="37.9" cy="626.7" r="1" fill="rgb(26,88,22)" opacity="0.5"/><circle cx="49.6" cy="628.3" r="1.2" fill="rgb(20,71,18)" opacity="0.4"/><circle cx="81.8" cy="637.4" r="1.2" fill="rgb(28,93,24)" opacity="0.5"/><circle cx="32.1" cy="650.5" r="0.9" fill="rgb(43,133,34)" opacity="0.7"/><circle cx="19.8" cy="635.9" r="1.2" fill="rgb(32,105,27)" opacity="0.6"/><circle cx="95.3" cy="644.1" r="0.8" fill="rgb(23,81,21)" opacity="0.5"/><circle cx="61.7" cy="652.3" r="0.8" fill="rgb(16,61,16)" opacity="0.4"/><circle cx="24.8" cy="643" r="1.3" fill="rgb(20,71,18)" opacity="0.4"/><circle cx="35.6" cy="650.9" r="1.3" fill="rgb(31,102,26)" opacity="0.6"/><circle cx="49.6" cy="625.3" r="1.2" fill="rgb(37,118,30)" opacity="0.7"/><circle cx="57.5" cy="637.2" r="1.3" fill="rgb(32,104,26)" opacity="0.6"/><circle cx="91.2" cy="629.6" r="1.2" fill="rgb(24,82,21)" opacity="0.5"/><circle cx="86.3" cy="653.4" r="1.4" fill="rgb(22,78,20)" opacity="0.5"/><circle cx="94.6" cy="643.4" r="1.3" fill="rgb(19,71,18)" opacity="0.4"/><circle cx="82.2" cy="630.3" r="0.8" fill="rgb(20,73,19)" opacity="0.4"/><circle cx="34.3" cy="630.5" r="1.5" fill="rgb(24,84,21)" opacity="0.5"/><circle cx="22.7" cy="623.5" r="1.2" fill="rgb(19,69,18)" opacity="0.4"/><circle cx="23" cy="632.5" r="1.4" fill="rgb(33,108,27)" opacity="0.6"/><circle cx="20.9" cy="611.5" r="0.9" fill="rgb(16,62,16)" opacity="0.4"/><circle cx="36.8" cy="648" r="0.9" fill="rgb(33,108,27)" opacity="0.6"/><circle cx="32.8" cy="621.9" r="1.3" fill="rgb(17,64,16)" opacity="0.4"/><circle cx="42.9" cy="637.9" r="1.1" fill="rgb(38,121,31)" opacity="0.7"/><circle cx="38.8" cy="658.2" r="1" fill="rgb(29,96,24)" opacity="0.6"/><circle cx="82.1" cy="628.1" r="1.1" fill="rgb(21,74,19)" opacity="0.4"/><circle cx="18.9" cy="633.4" r="1.3" fill="rgb(27,90,23)" opacity="0.5"/><circle cx="75.1" cy="641.4" r="0.8" fill="rgb(16,62,16)" opacity="0.4"/><circle cx="43.7" cy="620.6" r="1.1" fill="rgb(27,90,23)" opacity="0.5"/><circle cx="39.3" cy="637.1" r="1.3" fill="rgb(19,71,18)" opacity="0.4"/><circle cx="18.1" cy="654.3" r="1.4" fill="rgb(37,117,30)" opacity="0.7"/><circle cx="24.6" cy="621.2" r="0.8" fill="rgb(37,119,30)" opacity="0.7"/><circle cx="56.4" cy="633.1" r="1.2" fill="rgb(38,120,30)" opacity="0.7"/><circle cx="86.6" cy="623.2" r="1" fill="rgb(18,67,17)" opacity="0.4"/><circle cx="61.5" cy="636.5" r="1.4" fill="rgb(17,66,17)" opacity="0.4"/><circle cx="42.9" cy="623.6" r="0.9" fill="rgb(15,60,15)" opacity="0.4"/><circle cx="55.4" cy="647.9" r="1.2" fill="rgb(23,81,21)" opacity="0.5"/><circle cx="26.5" cy="628.7" r="1.5" fill="rgb(29,98,25)" opacity="0.6"/><circle cx="84.4" cy="644.2" r="1" fill="rgb(13,53,14)" opacity="0.3"/><circle cx="63.1" cy="632.5" r="1.5" fill="rgb(14,56,14)" opacity="0.4"/><circle cx="67.3" cy="622.4" r="1.1" fill="rgb(17,65,17)" opacity="0.4"/><circle cx="41.9" cy="625.2" r="1.2" fill="rgb(24,84,21)" opacity="0.5"/><circle cx="76.5" cy="624.8" r="1.2" fill="rgb(25,86,22)" opacity="0.5"/><circle cx="75.9" cy="624.9" r="0.8" fill="rgb(24,83,21)" opacity="0.5"/><circle cx="29.3" cy="610.7" r="1.3" fill="rgb(23,81,21)" opacity="0.5"/><circle cx="32.4" cy="629.1" r="1.2" fill="rgb(41,129,33)" opacity="0.7"/><circle cx="25.2" cy="618.6" r="0.8" fill="rgb(20,72,18)" opacity="0.4"/><circle cx="91.6" cy="630.6" r="1.2" fill="rgb(20,72,18)" opacity="0.4"/><circle cx="79.3" cy="654.3" r="1" fill="rgb(17,65,17)" opacity="0.4"/><circle cx="50.1" cy="647" r="1.3" fill="rgb(41,128,32)" opacity="0.7"/><circle cx="70.8" cy="641.5" r="1" fill="rgb(14,55,14)" opacity="0.4"/><circle cx="45.4" cy="644" r="1" fill="rgb(18,66,17)" opacity="0.4"/><circle cx="58.7" cy="652.3" r="1.2" fill="rgb(33,108,27)" opacity="0.6"/><circle cx="30.7" cy="651" r="1.1" fill="rgb(43,135,34)" opacity="0.8"/><circle cx="46.2" cy="635" r="1.3" fill="rgb(18,68,17)" opacity="0.4"/><circle cx="96.9" cy="636" r="1.4" fill="rgb(21,76,19)" opacity="0.5"/><circle cx="24.7" cy="619.7" r="1.3" fill="rgb(33,107,27)" opacity="0.6"/><circle cx="46.9" cy="632.8" r="1.5" fill="rgb(18,67,17)" opacity="0.4"/><circle cx="28.8" cy="659.2" r="1.1" fill="rgb(21,76,19)" opacity="0.5"/><circle cx="62.8" cy="620.9" r="1.5" fill="rgb(24,83,21)" opacity="0.5"/><circle cx="83.4" cy="641.1" r="1.4" fill="rgb(15,58,15)" opacity="0.4"/><circle cx="41.1" cy="658.8" r="1.2" fill="rgb(16,62,16)" opacity="0.4"/><circle cx="20.6" cy="615.8" r="1.5" fill="rgb(41,127,32)" opacity="0.7"/><circle cx="70.7" cy="623.5" r="1.3" fill="rgb(22,77,20)" opacity="0.5"/><circle cx="48.5" cy="640.5" r="0.7" fill="rgb(36,116,29)" opacity="0.7"/><circle cx="34" cy="633.1" r="1" fill="rgb(20,71,18)" opacity="0.4"/><circle cx="59.6" cy="620.8" r="1" fill="rgb(20,73,19)" opacity="0.4"/><circle cx="94.7" cy="641" r="1" fill="rgb(19,69,18)" opacity="0.4"/><circle cx="67.9" cy="646.4" r="1.3" fill="rgb(30,99,25)" opacity="0.6"/><circle cx="85.1" cy="656.3" r="1" fill="rgb(15,59,15)" opacity="0.4"/><circle cx="63.3" cy="659.3" r="1.1" fill="rgb(18,67,17)" opacity="0.4"/><circle cx="52.6" cy="659.3" r="0.7" fill="rgb(16,62,16)" opacity="0.4"/><circle cx="76.6" cy="640.9" r="0.9" fill="rgb(27,92,23)" opacity="0.5"/><circle cx="28" cy="631.8" r="1" fill="rgb(31,101,26)" opacity="0.6"/><circle cx="22.2" cy="646.7" r="0.9" fill="rgb(32,103,26)" opacity="0.6"/><circle cx="42.5" cy="628.7" r="0.8" fill="rgb(22,77,20)" opacity="0.5"/><circle cx="71.3" cy="657" r="1.3" fill="rgb(18,66,17)" opacity="0.4"/><circle cx="35.7" cy="649.8" r="1.4" fill="rgb(33,106,27)" opacity="0.6"/><circle cx="25.9" cy="652.5" r="1.1" fill="rgb(19,69,18)" opacity="0.4"/><circle cx="37.5" cy="623" r="0.8" fill="rgb(21,74,19)" opacity="0.4"/><circle cx="89.6" cy="653.9" r="1" fill="rgb(16,61,16)" opacity="0.4"/><circle cx="20.5" cy="658.9" r="1.1" fill="rgb(18,66,17)" opacity="0.4"/><circle cx="85" cy="626.2" r="0.8" fill="rgb(18,66,17)" opacity="0.4"/><circle cx="34.2" cy="642.9" r="1.4" fill="rgb(21,75,19)" opacity="0.5"/><circle cx="22" cy="611.4" r="1" fill="rgb(25,87,22)" opacity="0.5"/><circle cx="35.9" cy="623.4" r="0.9" fill="rgb(31,101,26)" opacity="0.6"/><circle cx="71.2" cy="652.4" r="1.2" fill="rgb(21,74,19)" opacity="0.4"/><circle cx="88.8" cy="640.4" r="0.9" fill="rgb(16,62,16)" opacity="0.4"/><circle cx="92.1" cy="645" r="1.2" fill="rgb(16,62,16)" opacity="0.4"/><circle cx="53.2" cy="636.7" r="0.7" fill="rgb(28,94,24)" opacity="0.5"/><circle cx="66" cy="622.1" r="1.3" fill="rgb(15,60,15)" opacity="0.4"/><circle cx="25" cy="622.1" r="0.9" fill="rgb(39,122,31)" opacity="0.7"/><circle cx="40.3" cy="637.9" r="1.4" fill="rgb(20,73,19)" opacity="0.4"/><circle cx="54.9" cy="650" r="1.4" fill="rgb(24,83,21)" opacity="0.5"/><circle cx="62.5" cy="643.7" r="1.2" fill="rgb(22,78,20)" opacity="0.5"/><circle cx="80.6" cy="636" r="1.4" fill="rgb(22,78,20)" opacity="0.5"/><circle cx="72.7" cy="636.2" r="0.8" fill="rgb(33,106,27)" opacity="0.6"/><circle cx="53.2" cy="651.4" r="1.3" fill="rgb(35,111,28)" opacity="0.6"/><circle cx="36.9" cy="634.3" r="1.2" fill="rgb(22,77,20)" opacity="0.5"/><circle cx="65.7" cy="647.9" r="1.4" fill="rgb(26,89,23)" opacity="0.5"/><circle cx="19.4" cy="634.8" r="1.1" fill="rgb(29,96,24)" opacity="0.6"/><circle cx="39" cy="652.9" r="1.4" fill="rgb(17,63,16)" opacity="0.4"/><circle cx="63.5" cy="637.6" r="0.9" fill="rgb(32,104,26)" opacity="0.6"/><circle cx="29.7" cy="623.7" r="1" fill="rgb(16,63,16)" opacity="0.4"/><circle cx="67.7" cy="636.5" r="1.2" fill="rgb(19,70,18)" opacity="0.4"/><circle cx="25.1" cy="654.2" r="0.9" fill="rgb(19,69,18)" opacity="0.4"/><circle cx="30.8" cy="646.4" r="1.3" fill="rgb(41,129,33)" opacity="0.7"/><circle cx="22.9" cy="629.6" r="0.9" fill="rgb(26,90,23)" opacity="0.5"/><circle cx="57.2" cy="650.7" r="0.8" fill="rgb(38,122,31)" opacity="0.7"/><circle cx="54.4" cy="649.7" r="0.9" fill="rgb(15,59,15)" opacity="0.4"/><circle cx="49.4" cy="622.9" r="0.8" fill="rgb(21,76,19)" opacity="0.5"/><circle cx="79.1" cy="649" r="0.9" fill="rgb(17,65,17)" opacity="0.4"/><circle cx="47.1" cy="625.2" r="1.2" fill="rgb(38,120,30)" opacity="0.7"/><circle cx="21.2" cy="629.2" r="0.7" fill="rgb(35,114,29)" opacity="0.6"/><circle cx="45.5" cy="646.7" r="1.2" fill="rgb(39,123,31)" opacity="0.7"/><circle cx="88.9" cy="632.8" r="1.4" fill="rgb(18,68,17)" opacity="0.4"/><circle cx="48.5" cy="651.9" r="1" fill="rgb(20,73,19)" opacity="0.4"/><circle cx="32.7" cy="638" r="0.9" fill="rgb(20,73,19)" opacity="0.4"/><circle cx="35.2" cy="633.1" r="1.1" fill="rgb(25,85,22)" opacity="0.5"/><circle cx="97.5" cy="645.8" r="0.9" fill="rgb(23,81,21)" opacity="0.5"/><circle cx="73.3" cy="626.8" r="0.7" fill="rgb(18,66,17)" opacity="0.4"/><circle cx="32.6" cy="620.7" r="1.4" fill="rgb(20,72,18)" opacity="0.4"/><circle cx="92.9" cy="626.6" r="1.3" fill="rgb(19,71,18)" opacity="0.4"/><circle cx="43.8" cy="628.1" r="1.4" fill="rgb(17,64,16)" opacity="0.4"/><circle cx="44" cy="651.2" r="0.7" fill="rgb(29,98,25)" opacity="0.6"/><circle cx="21.3" cy="614.1" r="0.7" fill="rgb(27,92,23)" opacity="0.5"/><circle cx="43" cy="630.4" r="0.8" fill="rgb(30,100,25)" opacity="0.6"/><circle cx="76" cy="645" r="0.9" fill="rgb(16,61,16)" opacity="0.4"/><circle cx="40.4" cy="647.8" r="1" fill="rgb(27,91,23)" opacity="0.5"/><circle cx="41.4" cy="625.7" r="0.7" fill="rgb(20,73,19)" opacity="0.4"/><circle cx="20" cy="642.8" r="1.3" fill="rgb(33,107,27)" opacity="0.6"/><circle cx="35.3" cy="646.4" r="1.5" fill="rgb(36,115,29)" opacity="0.7"/><circle cx="52.2" cy="628.5" r="1" fill="rgb(16,61,16)" opacity="0.4"/><circle cx="44.3" cy="634.8" r="0.8" fill="rgb(23,79,20)" opacity="0.5"/><circle cx="50.2" cy="633.5" r="1.2" fill="rgb(19,69,18)" opacity="0.4"/><circle cx="45.3" cy="630.3" r="1.2" fill="rgb(19,69,18)" opacity="0.4"/><circle cx="74.1" cy="638.2" r="0.7" fill="rgb(27,91,23)" opacity="0.5"/><circle cx="49.3" cy="626.9" r="1" fill="rgb(16,62,16)" opacity="0.4"/><circle cx="22.4" cy="634.7" r="1.1" fill="rgb(33,108,27)" opacity="0.6"/><circle cx="44" cy="620.2" r="1" fill="rgb(13,53,14)" opacity="0.3"/><circle cx="89.3" cy="638.9" r="1.2" fill="rgb(16,63,16)" opacity="0.4"/><circle cx="32.9" cy="633.2" r="1.5" fill="rgb(34,111,28)" opacity="0.6"/><circle cx="47" cy="639.6" r="1.3" fill="rgb(41,128,32)" opacity="0.7"/><circle cx="68.2" cy="642.2" r="1" fill="rgb(22,79,20)" opacity="0.5"/><circle cx="40.1" cy="654.8" r="1" fill="rgb(35,113,29)" opacity="0.6"/><circle cx="28.9" cy="635.4" r="1" fill="rgb(25,85,22)" opacity="0.5"/><circle cx="18.1" cy="637.6" r="0.9" fill="rgb(27,92,23)" opacity="0.5"/><circle cx="57.5" cy="644" r="1.2" fill="rgb(27,92,23)" opacity="0.5"/><circle cx="62.9" cy="654.9" r="1" fill="rgb(31,102,26)" opacity="0.6"/><circle cx="45.7" cy="658.2" r="1.3" fill="rgb(18,66,17)" opacity="0.4"/><circle cx="73.6" cy="646.2" r="1.4" fill="rgb(33,106,27)" opacity="0.6"/><circle cx="30.8" cy="642.3" r="1.2" fill="rgb(30,100,25)" opacity="0.6"/><circle cx="47.6" cy="622.1" r="1.1" fill="rgb(27,91,23)" opacity="0.5"/><circle cx="37" cy="620" r="0.8" fill="rgb(18,66,17)" opacity="0.4"/><circle cx="26.2" cy="647.3" r="1.1" fill="rgb(19,69,18)" opacity="0.4"/><circle cx="79.8" cy="633.8" r="1.4" fill="rgb(16,61,16)" opacity="0.4"/><circle cx="38.3" cy="635.4" r="1" fill="rgb(39,123,31)" opacity="0.7"/><circle cx="75.3" cy="624.6" r="1.3" fill="rgb(17,64,16)" opacity="0.4"/><circle cx="85.4" cy="654.7" r="1" fill="rgb(18,67,17)" opacity="0.4"/><circle cx="74.6" cy="642.4" r="1.3" fill="rgb(30,98,25)" opacity="0.6"/><circle cx="28" cy="627.6" r="0.9" fill="rgb(36,115,29)" opacity="0.7"/><circle cx="73" cy="630.2" r="1" fill="rgb(26,88,22)" opacity="0.5"/><circle cx="21.9" cy="647.8" r="0.7" fill="rgb(19,69,18)" opacity="0.4"/><circle cx="40.9" cy="648.9" r="0.8" fill="rgb(44,137,35)" opacity="0.8"/><circle cx="61.4" cy="634" r="0.9" fill="rgb(23,79,20)" opacity="0.5"/><circle cx="82" cy="655.3" r="1" fill="rgb(15,59,15)" opacity="0.4"/><circle cx="67.4" cy="650.9" r="1" fill="rgb(35,112,28)" opacity="0.6"/><circle cx="73.5" cy="637.8" r="0.8" fill="rgb(29,97,25)" opacity="0.6"/><circle cx="68" cy="621.4" r="1.1" fill="rgb(14,58,15)" opacity="0.4"/><circle cx="47.3" cy="620.6" r="0.8" fill="rgb(13,54,14)" opacity="0.3"/><circle cx="89.4" cy="623.6" r="0.8" fill="rgb(12,50,13)" opacity="0.3"/><circle cx="34.2" cy="657" r="1" fill="rgb(23,81,21)" opacity="0.5"/><circle cx="82.6" cy="628.8" r="1.1" fill="rgb(13,55,14)" opacity="0.4"/><circle cx="70.6" cy="642.4" r="1.5" fill="rgb(19,70,18)" opacity="0.4"/><circle cx="53.5" cy="655" r="0.8" fill="rgb(28,94,24)" opacity="0.5"/><circle cx="20.1" cy="615.1" r="0.8" fill="rgb(17,64,16)" opacity="0.4"/><circle cx="46.7" cy="650.2" r="1.1" fill="rgb(23,81,21)" opacity="0.5"/><circle cx="18.8" cy="617.6" r="0.7" fill="rgb(44,137,35)" opacity="0.8"/><circle cx="60.2" cy="653.6" r="1.3" fill="rgb(30,100,25)" opacity="0.6"/><circle cx="49.9" cy="653.2" r="1.3" fill="rgb(34,111,28)" opacity="0.6"/><circle cx="94" cy="629.1" r="0.9" fill="rgb(20,74,19)" opacity="0.4"/><circle cx="49.1" cy="627.2" r="1.3" fill="rgb(32,105,27)" opacity="0.6"/><circle cx="47.2" cy="643.3" r="0.9" fill="rgb(24,84,21)" opacity="0.5"/><circle cx="90.4" cy="624.3" r="1" fill="rgb(12,51,13)" opacity="0.3"/><circle cx="77.5" cy="637.8" r="0.8" fill="rgb(26,88,22)" opacity="0.5"/><circle cx="26.5" cy="613.6" r="1" fill="rgb(21,76,19)" opacity="0.5"/><circle cx="18.8" cy="635.2" r="1" fill="rgb(28,93,24)" opacity="0.5"/><circle cx="34.4" cy="657.8" r="1.3" fill="rgb(19,70,18)" opacity="0.4"/><circle cx="35.6" cy="629.5" r="0.8" fill="rgb(37,118,30)" opacity="0.7"/><circle cx="39.9" cy="645.6" r="1" fill="rgb(43,134,34)" opacity="0.7"/><circle cx="32.7" cy="626.4" r="0.8" fill="rgb(45,138,35)" opacity="0.8"/><circle cx="68.8" cy="627.7" r="0.9" fill="rgb(27,91,23)" opacity="0.5"/><circle cx="67.3" cy="658.3" r="1.2" fill="rgb(23,80,20)" opacity="0.5"/><circle cx="58.4" cy="639.1" r="1.4" fill="rgb(17,64,16)" opacity="0.4"/><circle cx="73.2" cy="632.2" r="1" fill="rgb(27,90,23)" opacity="0.5"/><circle cx="66.1" cy="639.4" r="0.7" fill="rgb(25,86,22)" opacity="0.5"/><circle cx="68.2" cy="631.8" r="1.2" fill="rgb(26,89,23)" opacity="0.5"/><circle cx="77" cy="623.8" r="1.5" fill="rgb(21,75,19)" opacity="0.5"/><circle cx="50.2" cy="657" r="1.5" fill="rgb(15,59,15)" opacity="0.4"/><circle cx="85.2" cy="644" r="1.4" fill="rgb(28,94,24)" opacity="0.5"/><circle cx="81.8" cy="635.7" r="0.8" fill="rgb(30,100,25)" opacity="0.6"/><circle cx="87.6" cy="647.7" r="1.3" fill="rgb(16,63,16)" opacity="0.4"/><circle cx="54.3" cy="637.2" r="0.9" fill="rgb(36,116,29)" opacity="0.7"/><circle cx="40.4" cy="643.6" r="1.1" fill="rgb(17,64,16)" opacity="0.4"/><circle cx="81" cy="634.4" r="1.3" fill="rgb(17,65,17)" opacity="0.4"/><circle cx="86.4" cy="651.2" r="1.4" fill="rgb(20,73,19)" opacity="0.4"/><circle cx="20.9" cy="625.7" r="1.4" fill="rgb(42,131,33)" opacity="0.7"/><circle cx="27.4" cy="615.9" r="1.4" fill="rgb(25,85,22)" opacity="0.5"/><circle cx="67.4" cy="659.1" r="1.5" fill="rgb(12,52,13)" opacity="0.3"/><circle cx="34.5" cy="642.8" r="1.3" fill="rgb(42,132,33)" opacity="0.7"/><circle cx="33.8" cy="645.1" r="0.7" fill="rgb(29,95,24)" opacity="0.6"/><circle cx="45.2" cy="623.9" r="0.9" fill="rgb(28,93,24)" opacity="0.5"/><circle cx="66.2" cy="646.7" r="0.8" fill="rgb(17,66,17)" opacity="0.4"/><circle cx="73.5" cy="633" r="0.8" fill="rgb(16,61,16)" opacity="0.4"/><circle cx="93.3" cy="641.6" r="0.9" fill="rgb(17,65,17)" opacity="0.4"/><circle cx="97.6" cy="646.5" r="1" fill="rgb(22,77,20)" opacity="0.5"/><circle cx="42.8" cy="629.5" r="1.2" fill="rgb(19,70,18)" opacity="0.4"/><circle cx="52" cy="654.2" r="1.1" fill="rgb(23,80,20)" opacity="0.5"/><circle cx="45.7" cy="647.2" r="1.2" fill="rgb(21,75,19)" opacity="0.5"/><circle cx="40.8" cy="657.4" r="1.4" fill="rgb(18,68,17)" opacity="0.4"/><circle cx="72.1" cy="632.3" r="1" fill="rgb(32,105,27)" opacity="0.6"/><circle cx="77.5" cy="641.1" r="0.8" fill="rgb(21,76,19)" opacity="0.5"/><circle cx="51.5" cy="621.9" r="1.5" fill="rgb(20,73,19)" opacity="0.4"/><circle cx="41.4" cy="646.7" r="0.9" fill="rgb(35,111,28)" opacity="0.6"/><circle cx="51.7" cy="625.5" r="1.4" fill="rgb(33,108,27)" opacity="0.6"/><circle cx="65.3" cy="637.8" r="1.4" fill="rgb(16,61,16)" opacity="0.4"/><circle cx="25.1" cy="626.8" r="1.3" fill="rgb(27,91,23)" opacity="0.5"/><circle cx="71.5" cy="625.6" r="1.5" fill="rgb(28,93,24)" opacity="0.5"/><circle cx="19.9" cy="643" r="1" fill="rgb(30,98,25)" opacity="0.6"/><circle cx="55.2" cy="624" r="1.2" fill="rgb(27,90,23)" opacity="0.5"/><circle cx="97.4" cy="628.7" r="1.2" fill="rgb(20,74,19)" opacity="0.4"/><circle cx="23.3" cy="632.7" r="1.2" fill="rgb(28,93,24)" opacity="0.5"/><circle cx="34.8" cy="627.2" r="1" fill="rgb(20,71,18)" opacity="0.4"/><circle cx="31.3" cy="643.9" r="1.3" fill="rgb(35,111,28)" opacity="0.6"/><circle cx="38.3" cy="653.7" r="1.3" fill="rgb(34,110,28)" opacity="0.6"/><circle cx="27.6" cy="633.1" r="1.4" fill="rgb(16,61,16)" opacity="0.4"/><circle cx="19.9" cy="626.1" r="1.1" fill="rgb(32,104,26)" opacity="0.6"/><circle cx="26.9" cy="652.4" r="1.1" fill="rgb(24,83,21)" opacity="0.5"/><circle cx="28" cy="639.1" r="0.8" fill="rgb(19,70,18)" opacity="0.4"/><circle cx="59" cy="622.6" r="0.9" fill="rgb(26,89,23)" opacity="0.5"/><circle cx="35.4" cy="632.1" r="1.1" fill="rgb(32,106,27)" opacity="0.6"/><circle cx="95.6" cy="636.5" r="1.2" fill="rgb(18,66,17)" opacity="0.4"/><circle cx="30.3" cy="654.1" r="1.3" fill="rgb(34,110,28)" opacity="0.6"/><circle cx="30.5" cy="636.9" r="0.8" fill="rgb(16,62,16)" opacity="0.4"/><circle cx="69.4" cy="655.9" r="1" fill="rgb(13,54,14)" opacity="0.3"/><circle cx="24.3" cy="620.6" r="1.4" fill="rgb(19,69,18)" opacity="0.4"/><circle cx="44.3" cy="634.3" r="1.4" fill="rgb(33,108,27)" opacity="0.6"/><circle cx="93.7" cy="639.1" r="1.4" fill="rgb(19,70,18)" opacity="0.4"/><circle cx="49.6" cy="623" r="0.9" fill="rgb(28,93,24)" opacity="0.5"/><circle cx="47.4" cy="630.8" r="1" fill="rgb(28,93,24)" opacity="0.5"/><circle cx="52.4" cy="632" r="1.4" fill="rgb(15,60,15)" opacity="0.4"/><circle cx="22.9" cy="636.7" r="1" fill="rgb(32,105,27)" opacity="0.6"/><circle cx="47.8" cy="623.9" r="0.9" fill="rgb(24,83,21)" opacity="0.5"/><circle cx="78" cy="634.2" r="1" fill="rgb(13,54,14)" opacity="0.3"/><circle cx="47.3" cy="640.9" r="0.9" fill="rgb(25,85,22)" opacity="0.5"/><circle cx="66.7" cy="640.4" r="1.1" fill="rgb(20,74,19)" opacity="0.4"/><circle cx="59.3" cy="650.2" r="0.8" fill="rgb(15,59,15)" opacity="0.4"/><circle cx="38.2" cy="621.2" r="1" fill="rgb(28,93,24)" opacity="0.5"/><circle cx="86.8" cy="629.1" r="1.2" fill="rgb(17,63,16)" opacity="0.4"/><circle cx="84.5" cy="624.7" r="1.4" fill="rgb(15,59,15)" opacity="0.4"/><circle cx="81.1" cy="643.5" r="1.3" fill="rgb(14,56,14)" opacity="0.4"/><circle cx="21.8" cy="642.5" r="1.4" fill="rgb(32,105,27)" opacity="0.6"/><circle cx="92.7" cy="650.2" r="0.7" fill="rgb(19,71,18)" opacity="0.4"/><circle cx="77" cy="630.1" r="1.5" fill="rgb(26,88,22)" opacity="0.5"/><circle cx="80.5" cy="631.4" r="1" fill="rgb(26,90,23)" opacity="0.5"/><circle cx="53.8" cy="631.2" r="1" fill="rgb(17,65,17)" opacity="0.4"/><circle cx="27.3" cy="655" r="1.1" fill="rgb(31,101,26)" opacity="0.6"/><circle cx="27.1" cy="612.1" r="1.5" fill="rgb(19,69,18)" opacity="0.4"/><circle cx="34.9" cy="629.9" r="1.4" fill="rgb(32,104,26)" opacity="0.6"/><circle cx="27.9" cy="657.4" r="0.7" fill="rgb(22,79,20)" opacity="0.5"/><circle cx="52.6" cy="627.7" r="1.4" fill="rgb(32,104,26)" opacity="0.6"/><circle cx="57.5" cy="646.4" r="1.3" fill="rgb(24,82,21)" opacity="0.5"/><circle cx="26.4" cy="649.5" r="1.2" fill="rgb(20,73,19)" opacity="0.4"/><circle cx="34.2" cy="625.8" r="1" fill="rgb(19,71,18)" opacity="0.4"/><circle cx="65.3" cy="636.2" r="1.2" fill="rgb(22,79,20)" opacity="0.5"/><circle cx="85.4" cy="626.5" r="1.1" fill="rgb(19,70,18)" opacity="0.4"/><circle cx="96.4" cy="624.7" r="0.9" fill="rgb(16,62,16)" opacity="0.4"/><circle cx="38.9" cy="648.8" r="0.9" fill="rgb(32,105,27)" opacity="0.6"/><circle cx="23.1" cy="654.5" r="1.3" fill="rgb(24,83,21)" opacity="0.5"/><circle cx="52.6" cy="642.1" r="1.5" fill="rgb(29,96,24)" opacity="0.6"/><circle cx="90.8" cy="632.3" r="0.9" fill="rgb(20,71,18)" opacity="0.4"/><circle cx="42.5" cy="655.8" r="1.3" fill="rgb(14,57,15)" opacity="0.4"/><circle cx="63.4" cy="638.1" r="0.8" fill="rgb(21,76,19)" opacity="0.5"/><circle cx="94.1" cy="650.9" r="0.8" fill="rgb(21,76,19)" opacity="0.5"/><circle cx="33.9" cy="637.1" r="0.8" fill="rgb(34,110,28)" opacity="0.6"/><circle cx="79.2" cy="639.9" r="1.4" fill="rgb(29,98,25)" opacity="0.6"/><circle cx="73.1" cy="626.8" r="1.3" fill="rgb(30,99,25)" opacity="0.6"/><circle cx="41.3" cy="656.5" r="0.9" fill="rgb(28,94,24)" opacity="0.5"/><circle cx="61" cy="620.2" r="0.9" fill="rgb(16,61,16)" opacity="0.4"/><circle cx="28.5" cy="634.1" r="0.9" fill="rgb(24,82,21)" opacity="0.5"/><circle cx="40.2" cy="635.6" r="0.8" fill="rgb(41,128,32)" opacity="0.7"/><circle cx="86.8" cy="656.3" r="1.1" fill="rgb(17,63,16)" opacity="0.4"/><circle cx="76.7" cy="637.1" r="1.4" fill="rgb(26,88,22)" opacity="0.5"/><circle cx="47" cy="652.2" r="1.1" fill="rgb(21,74,19)" opacity="0.4"/><circle cx="47.6" cy="648.8" r="1.1" fill="rgb(41,127,32)" opacity="0.7"/><circle cx="63.3" cy="625.9" r="1.5" fill="rgb(18,67,17)" opacity="0.4"/><circle cx="20.4" cy="639.3" r="1.2" fill="rgb(46,141,36)" opacity="0.8"/><circle cx="86.4" cy="652.1" r="0.8" fill="rgb(19,70,18)" opacity="0.4"/><circle cx="60.1" cy="626.3" r="0.9" fill="rgb(25,86,22)" opacity="0.5"/><circle cx="74.4" cy="630" r="0.8" fill="rgb(23,80,20)" opacity="0.5"/><circle cx="57" cy="638.5" r="1.1" fill="rgb(38,121,31)" opacity="0.7"/><circle cx="28.8" cy="623" r="1.3" fill="rgb(26,87,22)" opacity="0.5"/><circle cx="19.6" cy="634.4" r="1.2" fill="rgb(34,109,28)" opacity="0.6"/><circle cx="67" cy="641.8" r="0.8" fill="rgb(34,110,28)" opacity="0.6"/><circle cx="20.5" cy="611.7" r="1.5" fill="rgb(29,95,24)" opacity="0.6"/><circle cx="84.4" cy="646.3" r="1.2" fill="rgb(21,76,19)" opacity="0.5"/><circle cx="78.6" cy="653.5" r="0.8" fill="rgb(12,52,13)" opacity="0.3"/><circle cx="84.7" cy="629.5" r="1" fill="rgb(18,67,17)" opacity="0.4"/><circle cx="19.2" cy="651.2" r="1.2" fill="rgb(23,81,21)" opacity="0.5"/><circle cx="60.1" cy="625.1" r="1.1" fill="rgb(27,92,23)" opacity="0.5"/><circle cx="36.8" cy="657.9" r="0.8" fill="rgb(16,62,16)" opacity="0.4"/><circle cx="38.3" cy="633.7" r="1" fill="rgb(39,122,31)" opacity="0.7"/><circle cx="37.1" cy="644.3" r="1.1" fill="rgb(23,80,20)" opacity="0.5"/><circle cx="38.4" cy="657.6" r="0.9" fill="rgb(16,63,16)" opacity="0.4"/><circle cx="42.1" cy="624.8" r="1.2" fill="rgb(32,105,27)" opacity="0.6"/><circle cx="81.2" cy="637.4" r="1.3" fill="rgb(14,57,15)" opacity="0.4"/><circle cx="47.7" cy="626.4" r="1.5" fill="rgb(38,121,31)" opacity="0.7"/><circle cx="81.2" cy="651.9" r="1.3" fill="rgb(18,67,17)" opacity="0.4"/><circle cx="48.4" cy="622.2" r="1.3" fill="rgb(24,83,21)" opacity="0.5"/><circle cx="56.1" cy="654.1" r="1.1" fill="rgb(14,56,14)" opacity="0.4"/><circle cx="34.4" cy="657.7" r="1.4" fill="rgb(32,103,26)" opacity="0.6"/><circle cx="29.3" cy="647.9" r="0.9" fill="rgb(45,138,35)" opacity="0.8"/><circle cx="28.9" cy="645.7" r="1.3" fill="rgb(43,133,34)" opacity="0.7"/><circle cx="93.9" cy="632.2" r="0.8" fill="rgb(17,65,17)" opacity="0.4"/><circle cx="23.7" cy="616.1" r="0.7" fill="rgb(24,83,21)" opacity="0.5"/><circle cx="27.8" cy="636.6" r="1.2" fill="rgb(32,104,26)" opacity="0.6"/><circle cx="79" cy="636.6" r="0.8" fill="rgb(30,100,25)" opacity="0.6"/><circle cx="42.8" cy="650.6" r="1.1" fill="rgb(42,130,33)" opacity="0.7"/><circle cx="30.8" cy="624.8" r="0.9" fill="rgb(29,98,25)" opacity="0.6"/><circle cx="54.8" cy="641.2" r="1.1" fill="rgb(36,114,29)" opacity="0.6"/><circle cx="79" cy="629" r="0.8" fill="rgb(14,56,14)" opacity="0.4"/><circle cx="31.8" cy="649.2" r="0.7" fill="rgb(22,77,20)" opacity="0.5"/><circle cx="35.6" cy="652.9" r="1.2" fill="rgb(29,97,25)" opacity="0.6"/><circle cx="19.2" cy="623.3" r="0.9" fill="rgb(16,63,16)" opacity="0.4"/><circle cx="67.5" cy="627.2" r="1.2" fill="rgb(23,81,21)" opacity="0.5"/><circle cx="43.4" cy="626.4" r="1.2" fill="rgb(39,123,31)" opacity="0.7"/><circle cx="51.4" cy="637.4" r="1" fill="rgb(26,90,23)" opacity="0.5"/><circle cx="25.8" cy="646.2" r="1.1" fill="rgb(26,88,22)" opacity="0.5"/><circle cx="59.1" cy="627.7" r="1.1" fill="rgb(14,56,14)" opacity="0.4"/><circle cx="39.5" cy="639.5" r="1.1" fill="rgb(34,109,28)" opacity="0.6"/><circle cx="25.2" cy="634.9" r="1.2" fill="rgb(30,99,25)" opacity="0.6"/><circle cx="84.3" cy="652.9" r="1.4" fill="rgb(15,60,15)" opacity="0.4"/><circle cx="58.3" cy="630.6" r="1.5" fill="rgb(27,92,23)" opacity="0.5"/><circle cx="57.2" cy="633.9" r="1.4" fill="rgb(21,76,19)" opacity="0.5"/><circle cx="58.2" cy="625.5" r="0.9" fill="rgb(18,67,17)" opacity="0.4"/><circle cx="84.7" cy="653.2" r="1.4" fill="rgb(25,85,22)" opacity="0.5"/><circle cx="72.8" cy="652.8" r="1.3" fill="rgb(26,89,23)" opacity="0.5"/><circle cx="83.2" cy="623.2" r="1.4" fill="rgb(14,55,14)" opacity="0.4"/><circle cx="19.8" cy="635.7" r="1.3" fill="rgb(26,88,22)" opacity="0.5"/><circle cx="92.6" cy="643.7" r="1.2" fill="rgb(13,54,14)" opacity="0.3"/><circle cx="87.7" cy="623.6" r="1.3" fill="rgb(13,53,14)" opacity="0.3"/><circle cx="87.4" cy="651.1" r="1.4" fill="rgb(23,81,21)" opacity="0.5"/><circle cx="69.1" cy="634.5" r="1" fill="rgb(22,77,20)" opacity="0.5"/><circle cx="19.8" cy="614.7" r="0.9" fill="rgb(33,108,27)" opacity="0.6"/><circle cx="70.3" cy="651.5" r="1.1" fill="rgb(28,94,24)" opacity="0.5"/><circle cx="43.3" cy="621.4" r="1.2" fill="rgb(16,62,16)" opacity="0.4"/><circle cx="94.2" cy="642.2" r="1.3" fill="rgb(26,88,22)" opacity="0.5"/><circle cx="44.7" cy="621.8" r="1.1" fill="rgb(22,79,20)" opacity="0.5"/><circle cx="20.8" cy="656.8" r="1.1" fill="rgb(25,85,22)" opacity="0.5"/><circle cx="33.9" cy="639.8" r="1" fill="rgb(23,79,20)" opacity="0.5"/><circle cx="46.4" cy="636.6" r="1.2" fill="rgb(41,129,33)" opacity="0.7"/><circle cx="51.2" cy="629.4" r="1.1" fill="rgb(20,74,19)" opacity="0.4"/><circle cx="52.6" cy="646.1" r="1.1" fill="rgb(34,110,28)" opacity="0.6"/><circle cx="30" cy="638.1" r="1.3" fill="rgb(24,82,21)" opacity="0.5"/><circle cx="76.1" cy="624.2" r="1.2" fill="rgb(22,78,20)" opacity="0.5"/><circle cx="74.5" cy="632.4" r="0.8" fill="rgb(22,77,20)" opacity="0.5"/><circle cx="23.7" cy="621.2" r="1.1" fill="rgb(37,117,30)" opacity="0.7"/><circle cx="28.2" cy="630.5" r="1.3" fill="rgb(33,107,27)" opacity="0.6"/><circle cx="50.2" cy="644" r="1.2" fill="rgb(33,106,27)" opacity="0.6"/><circle cx="21.7" cy="647.6" r="0.7" fill="rgb(19,70,18)" opacity="0.4"/><circle cx="23.8" cy="628.5" r="0.8" fill="rgb(30,98,25)" opacity="0.6"/><circle cx="56.9" cy="640.3" r="1.5" fill="rgb(22,77,20)" opacity="0.5"/><circle cx="27.6" cy="623.2" r="1.4" fill="rgb(22,78,20)" opacity="0.5"/><circle cx="58.7" cy="629.6" r="1.4" fill="rgb(24,82,21)" opacity="0.5"/><circle cx="38.6" cy="652.5" r="1.1" fill="rgb(35,114,29)" opacity="0.6"/><circle cx="47.3" cy="631.2" r="1" fill="rgb(27,91,23)" opacity="0.5"/><circle cx="67.9" cy="629.7" r="1.3" fill="rgb(20,72,18)" opacity="0.4"/><circle cx="54.4" cy="633.4" r="1.1" fill="rgb(37,117,30)" opacity="0.7"/><circle cx="48.1" cy="658.9" r="1.3" fill="rgb(27,90,23)" opacity="0.5"/><circle cx="50.1" cy="645.3" r="0.9" fill="rgb(34,110,28)" opacity="0.6"/><circle cx="70.5" cy="645.1" r="1.2" fill="rgb(22,79,20)" opacity="0.5"/><circle cx="36.1" cy="651.2" r="1.5" fill="rgb(32,104,26)" opacity="0.6"/><circle cx="45.3" cy="647.7" r="1" fill="rgb(15,59,15)" opacity="0.4"/><circle cx="22.8" cy="640" r="1.4" fill="rgb(41,128,32)" opacity="0.7"/><circle cx="49.3" cy="640.4" r="1.3" fill="rgb(34,109,28)" opacity="0.6"/></g>
<ellipse cx="42.8" cy="615.3" rx="21.3" ry="15.8" fill="url(#nucA)" filter="url(#bl3)"/>
<g filter="url(#bl1)"><circle cx="54.3" cy="617.7" r="1" fill="#1e2cc8" opacity="0.5"/><circle cx="54.6" cy="617.9" r="1.5" fill="#1e2cc8" opacity="0.8"/><circle cx="32.6" cy="617.3" r="1" fill="#121c90" opacity="0.6"/><circle cx="42.7" cy="614.6" r="1.2" fill="#121c90" opacity="0.8"/><circle cx="41.3" cy="616.9" r="1.5" fill="#2a3ae0" opacity="0.6"/><circle cx="36.2" cy="623.8" r="1.1" fill="#3040e8" opacity="0.3"/><circle cx="27.7" cy="610.4" r="0.8" fill="#3040e8" opacity="0.4"/><circle cx="46.6" cy="615.5" r="1.2" fill="#121c90" opacity="0.6"/><circle cx="26.8" cy="608.6" r="0.9" fill="#1e2cc8" opacity="0.8"/><circle cx="54" cy="607" r="0.7" fill="#1e2cc8" opacity="0.6"/><circle cx="29.7" cy="621.9" r="1.3" fill="#3040e8" opacity="0.7"/><circle cx="32.9" cy="615.2" r="0.9" fill="#1e2cc8" opacity="0.5"/><circle cx="48.5" cy="603.1" r="1.3" fill="#3040e8" opacity="0.9"/><circle cx="28.4" cy="618.2" r="1" fill="#121c90" opacity="0.8"/><circle cx="52.5" cy="605.3" r="1.1" fill="#1624a8" opacity="0.8"/><circle cx="50.8" cy="626.9" r="1.5" fill="#1e2cc8" opacity="0.7"/><circle cx="47.3" cy="623.9" r="1.4" fill="#1e2cc8" opacity="0.6"/><circle cx="28.1" cy="607.3" r="0.7" fill="#3040e8" opacity="0.7"/><circle cx="55.9" cy="605.5" r="1" fill="#1624a8" opacity="0.3"/><circle cx="31.4" cy="607.9" r="1" fill="#2a3ae0" opacity="0.5"/><circle cx="39.2" cy="603.9" r="1.4" fill="#1624a8" opacity="0.4"/><circle cx="41.6" cy="615.4" r="1.3" fill="#1e2cc8" opacity="0.5"/><circle cx="40.4" cy="622.4" r="1" fill="#121c90" opacity="0.4"/><circle cx="32.2" cy="613.1" r="0.9" fill="#1624a8" opacity="0.6"/><circle cx="33.6" cy="611.3" r="1.2" fill="#2a3ae0" opacity="0.7"/><circle cx="33.1" cy="604.5" r="1.2" fill="#1e2cc8" opacity="0.8"/><circle cx="51.8" cy="623.3" r="1.1" fill="#121c90" opacity="0.6"/><circle cx="30.4" cy="617.7" r="0.8" fill="#1624a8" opacity="0.7"/><circle cx="45" cy="615.5" r="1.1" fill="#3040e8" opacity="0.5"/><circle cx="26.8" cy="611.2" r="1.1" fill="#2a3ae0" opacity="0.7"/><circle cx="47.2" cy="616.6" r="0.8" fill="#1624a8" opacity="0.3"/><circle cx="54.3" cy="606.2" r="1.2" fill="#121c90" opacity="0.6"/><circle cx="31.2" cy="608.6" r="1.1" fill="#1e2cc8" opacity="0.4"/><circle cx="35.8" cy="622.7" r="1.2" fill="#1624a8" opacity="0.7"/><circle cx="54.1" cy="608.9" r="1.4" fill="#2a3ae0" opacity="0.4"/><circle cx="37.6" cy="626" r="1" fill="#1624a8" opacity="0.5"/><circle cx="47.2" cy="607.2" r="0.8" fill="#2a3ae0" opacity="0.4"/><circle cx="28.6" cy="606.1" r="1.5" fill="#2a3ae0" opacity="0.5"/><circle cx="50.8" cy="619.3" r="1.1" fill="#3040e8" opacity="0.5"/><circle cx="37.7" cy="616.1" r="1" fill="#2a3ae0" opacity="0.3"/><circle cx="48" cy="617" r="1.2" fill="#1e2cc8" opacity="0.5"/><circle cx="50.3" cy="619.9" r="0.9" fill="#121c90" opacity="0.7"/><circle cx="28.7" cy="613.9" r="1" fill="#1e2cc8" opacity="0.8"/><circle cx="27.5" cy="610.4" r="1.4" fill="#3040e8" opacity="0.8"/><circle cx="60.3" cy="611" r="0.8" fill="#2a3ae0" opacity="0.4"/><circle cx="57" cy="618.1" r="0.9" fill="#1624a8" opacity="0.4"/><circle cx="49.5" cy="603.7" r="1.3" fill="#1e2cc8" opacity="0.4"/><circle cx="38.8" cy="610.9" r="1" fill="#2a3ae0" opacity="0.7"/><circle cx="48.3" cy="604.6" r="1" fill="#2a3ae0" opacity="0.5"/><circle cx="33.3" cy="607.7" r="1" fill="#1624a8" opacity="0.7"/><circle cx="52.6" cy="610.7" r="0.9" fill="#2a3ae0" opacity="0.7"/><circle cx="33.7" cy="606.3" r="1.3" fill="#2a3ae0" opacity="0.9"/><circle cx="38.1" cy="627" r="1.1" fill="#2a3ae0" opacity="0.8"/><circle cx="25.6" cy="612.1" r="1.2" fill="#1e2cc8" opacity="0.7"/><circle cx="46.5" cy="628.3" r="1.2" fill="#121c90" opacity="0.9"/><circle cx="38.6" cy="617.2" r="1" fill="#2a3ae0" opacity="0.4"/><circle cx="46.6" cy="605.1" r="0.9" fill="#121c90" opacity="0.9"/><circle cx="40.6" cy="627.1" r="0.8" fill="#3040e8" opacity="0.9"/><circle cx="43.3" cy="618.6" r="0.9" fill="#3040e8" opacity="0.6"/><circle cx="35.1" cy="607.4" r="0.8" fill="#2a3ae0" opacity="0.9"/><circle cx="52.9" cy="605.9" r="1.4" fill="#121c90" opacity="0.6"/><circle cx="34.6" cy="611.5" r="1.1" fill="#121c90" opacity="0.5"/><circle cx="25.8" cy="618.4" r="1" fill="#121c90" opacity="0.7"/><circle cx="28.4" cy="622.8" r="1.5" fill="#3040e8" opacity="0.6"/><circle cx="57.9" cy="621.2" r="1.5" fill="#3040e8" opacity="0.6"/><circle cx="41.9" cy="601.4" r="0.8" fill="#2a3ae0" opacity="0.7"/><circle cx="52.2" cy="627.3" r="1.2" fill="#3040e8" opacity="0.9"/><circle cx="45.5" cy="617.8" r="1.5" fill="#1e2cc8" opacity="0.8"/><circle cx="33.2" cy="624.3" r="0.9" fill="#121c90" opacity="0.7"/><circle cx="40.3" cy="627" r="0.8" fill="#1e2cc8" opacity="0.6"/><circle cx="32.2" cy="616.3" r="1.2" fill="#3040e8" opacity="0.5"/><circle cx="33.3" cy="613.5" r="1" fill="#3040e8" opacity="0.6"/><circle cx="38.3" cy="614.3" r="0.7" fill="#2a3ae0" opacity="0.5"/><circle cx="51.2" cy="603.1" r="0.8" fill="#121c90" opacity="0.4"/><circle cx="49.9" cy="608.6" r="1.3" fill="#1624a8" opacity="0.5"/><circle cx="53.8" cy="617.3" r="1.1" fill="#3040e8" opacity="0.4"/><circle cx="50" cy="614" r="1.4" fill="#1624a8" opacity="0.8"/><circle cx="42.8" cy="608.4" r="1" fill="#2a3ae0" opacity="0.6"/><circle cx="27.2" cy="613.6" r="1.3" fill="#2a3ae0" opacity="0.4"/><circle cx="26.4" cy="616.6" r="0.9" fill="#3040e8" opacity="0.9"/><circle cx="45.4" cy="608.8" r="1.3" fill="#3040e8" opacity="0.4"/><circle cx="35.5" cy="612.3" r="1.1" fill="#1624a8" opacity="0.7"/><circle cx="42.8" cy="619.9" r="0.8" fill="#3040e8" opacity="0.5"/><circle cx="30.4" cy="618.6" r="1.3" fill="#2a3ae0" opacity="0.4"/><circle cx="47.5" cy="618.9" r="1.3" fill="#1e2cc8" opacity="0.8"/><circle cx="56" cy="612.7" r="1.4" fill="#3040e8" opacity="0.4"/><circle cx="31.5" cy="613.8" r="1.3" fill="#3040e8" opacity="0.6"/><circle cx="51.1" cy="626.7" r="0.9" fill="#2a3ae0" opacity="0.5"/><circle cx="33.9" cy="610.9" r="1.5" fill="#1624a8" opacity="0.4"/><circle cx="44.4" cy="619.4" r="0.9" fill="#121c90" opacity="0.6"/><circle cx="60.4" cy="610" r="1.3" fill="#1624a8" opacity="0.6"/><circle cx="34.1" cy="614.3" r="1.3" fill="#1e2cc8" opacity="0.4"/><circle cx="35" cy="604.5" r="0.8" fill="#2a3ae0" opacity="0.4"/><circle cx="54.4" cy="616.8" r="1.2" fill="#121c90" opacity="0.4"/><circle cx="39.4" cy="610" r="1.2" fill="#3040e8" opacity="0.9"/><circle cx="54.8" cy="621.3" r="1.3" fill="#3040e8" opacity="0.4"/><circle cx="24.1" cy="616.9" r="0.8" fill="#2a3ae0" opacity="0.4"/><circle cx="48.4" cy="608.2" r="1.4" fill="#3040e8" opacity="0.5"/><circle cx="49.7" cy="614.1" r="0.8" fill="#2a3ae0" opacity="0.8"/><circle cx="44.4" cy="612.1" r="1.2" fill="#1e2cc8" opacity="0.6"/><circle cx="40.2" cy="613.8" r="1.2" fill="#3040e8" opacity="0.6"/><circle cx="35.4" cy="612.2" r="0.8" fill="#121c90" opacity="0.6"/><circle cx="32.3" cy="624.1" r="1" fill="#1624a8" opacity="0.7"/><circle cx="43.9" cy="604.9" r="0.7" fill="#3040e8" opacity="0.6"/><circle cx="41.4" cy="616.6" r="1.1" fill="#1e2cc8" opacity="0.7"/><circle cx="37.5" cy="603.4" r="0.8" fill="#121c90" opacity="0.8"/><circle cx="54.8" cy="625.8" r="1.2" fill="#1624a8" opacity="0.9"/><circle cx="36.8" cy="612.5" r="1.4" fill="#2a3ae0" opacity="0.8"/><circle cx="41.8" cy="602.3" r="0.9" fill="#1624a8" opacity="0.5"/><circle cx="59" cy="616.3" r="0.7" fill="#121c90" opacity="0.5"/><circle cx="55.7" cy="625" r="1.5" fill="#3040e8" opacity="0.6"/><circle cx="52.1" cy="603.2" r="1" fill="#1e2cc8" opacity="0.6"/><circle cx="34.6" cy="610.5" r="0.7" fill="#1624a8" opacity="0.5"/><circle cx="51.6" cy="619" r="0.8" fill="#1624a8" opacity="0.5"/><circle cx="30.6" cy="622.6" r="0.9" fill="#2a3ae0" opacity="0.8"/><circle cx="37.4" cy="614" r="0.7" fill="#3040e8" opacity="0.4"/><circle cx="33.7" cy="609.7" r="0.8" fill="#2a3ae0" opacity="0.6"/><circle cx="33.9" cy="613" r="0.9" fill="#3040e8" opacity="0.8"/><circle cx="33.1" cy="607.9" r="1.2" fill="#2a3ae0" opacity="0.6"/><circle cx="31.3" cy="622.9" r="1.1" fill="#1624a8" opacity="0.5"/><circle cx="55.6" cy="608.4" r="1" fill="#3040e8" opacity="0.5"/><circle cx="51" cy="609.4" r="0.8" fill="#121c90" opacity="0.6"/><circle cx="30.9" cy="625.3" r="1" fill="#2a3ae0" opacity="0.7"/><circle cx="40.4" cy="615.9" r="1" fill="#2a3ae0" opacity="0.3"/><circle cx="58.4" cy="620.2" r="1.3" fill="#121c90" opacity="0.4"/><circle cx="43.1" cy="624.9" r="1.2" fill="#1624a8" opacity="0.8"/><circle cx="41.2" cy="616.1" r="1.1" fill="#1e2cc8" opacity="0.6"/><circle cx="44.7" cy="617" r="1.1" fill="#1e2cc8" opacity="0.8"/><circle cx="27.6" cy="617.1" r="0.8" fill="#121c90" opacity="0.4"/><circle cx="49.2" cy="625.9" r="0.9" fill="#3040e8" opacity="0.6"/><circle cx="55.8" cy="607.4" r="1.3" fill="#121c90" opacity="0.3"/><circle cx="42.1" cy="609.5" r="1.4" fill="#121c90" opacity="0.4"/><circle cx="25.7" cy="613.2" r="0.8" fill="#1e2cc8" opacity="0.5"/><circle cx="35.3" cy="612" r="0.8" fill="#121c90" opacity="0.6"/><circle cx="44.4" cy="622.1" r="1.2" fill="#121c90" opacity="0.4"/><circle cx="53.6" cy="626.6" r="0.8" fill="#1624a8" opacity="0.3"/><circle cx="60.2" cy="616.6" r="1.5" fill="#3040e8" opacity="0.6"/><circle cx="53" cy="614.1" r="1.3" fill="#1e2cc8" opacity="0.7"/><circle cx="52.2" cy="623.2" r="1.5" fill="#3040e8" opacity="0.4"/><circle cx="29.7" cy="605.7" r="1.4" fill="#2a3ae0" opacity="0.9"/><circle cx="57.8" cy="617.3" r="0.7" fill="#2a3ae0" opacity="0.3"/><circle cx="42.4" cy="628.4" r="1.4" fill="#121c90" opacity="0.9"/><circle cx="29.2" cy="608.8" r="1.2" fill="#2a3ae0" opacity="0.6"/><circle cx="53.3" cy="625.3" r="0.8" fill="#1624a8" opacity="0.6"/><circle cx="40.3" cy="625.9" r="0.7" fill="#1624a8" opacity="0.7"/><circle cx="38.3" cy="606.3" r="1.5" fill="#1624a8" opacity="0.4"/><circle cx="57.7" cy="618.1" r="1.2" fill="#2a3ae0" opacity="0.4"/></g>
<rect x="17.9" y="650" width="1.6" height="14" fill="#1420a0" opacity="0.8" filter="url(#bl1)"/>
</g>
<line x1="20.7" y1="661.8" x2="45.2" y2="661.8" stroke="#f2f2f2" stroke-width="1.6"/>
<text transform="translate(86.6 662.4) scale(0.89 1)" font-size="8.8" text-anchor="middle" fill="#fff" stroke="#fff" stroke-width="0.3">MΦ</text>
<rect x="99.8" y="587.1" width="79.8" height="79.4" fill="#03090a"/>
<g clip-path="url(#cpB)">
<ellipse cx="131" cy="623.5" rx="22" ry="15" fill="url(#nucB)" transform="rotate(-38 131 623.5)" filter="url(#bl3)"/>
<g filter="url(#bl1)"><circle cx="143.8" cy="608.7" r="0.9" fill="#1624a8" opacity="0.5"/><circle cx="141.7" cy="630.3" r="1" fill="#121c90" opacity="0.8"/><circle cx="126.7" cy="613.7" r="1.1" fill="#2a3ae0" opacity="0.7"/><circle cx="139.2" cy="634.2" r="0.8" fill="#3040e8" opacity="0.6"/><circle cx="131.9" cy="626.2" r="0.9" fill="#1e2cc8" opacity="0.5"/><circle cx="125.8" cy="617.3" r="1.3" fill="#2a3ae0" opacity="0.4"/><circle cx="113.7" cy="628.4" r="1" fill="#1e2cc8" opacity="0.7"/><circle cx="126.1" cy="615.6" r="1.4" fill="#2a3ae0" opacity="0.9"/><circle cx="141.8" cy="613" r="1" fill="#3040e8" opacity="0.4"/><circle cx="116.5" cy="637.3" r="0.7" fill="#3040e8" opacity="0.7"/><circle cx="132.3" cy="622.3" r="0.6" fill="#3040e8" opacity="0.3"/><circle cx="123.1" cy="638.6" r="1" fill="#121c90" opacity="0.6"/><circle cx="142.8" cy="614.7" r="0.9" fill="#121c90" opacity="0.4"/><circle cx="128.1" cy="618.4" r="0.8" fill="#3040e8" opacity="0.9"/><circle cx="115.4" cy="621.5" r="1.1" fill="#3040e8" opacity="0.6"/><circle cx="143.6" cy="611.6" r="0.8" fill="#1624a8" opacity="0.7"/><circle cx="128.8" cy="630.8" r="0.9" fill="#2a3ae0" opacity="0.7"/><circle cx="119.6" cy="627.2" r="1.2" fill="#1624a8" opacity="0.5"/><circle cx="131.5" cy="614.1" r="1" fill="#2a3ae0" opacity="0.6"/><circle cx="139.7" cy="623.1" r="0.7" fill="#1624a8" opacity="0.7"/><circle cx="120.9" cy="621.6" r="1.2" fill="#3040e8" opacity="0.8"/><circle cx="119.9" cy="630.8" r="1" fill="#1e2cc8" opacity="0.3"/><circle cx="113" cy="628.5" r="1.4" fill="#121c90" opacity="0.3"/><circle cx="146.6" cy="624" r="1.3" fill="#2a3ae0" opacity="0.4"/><circle cx="130.2" cy="622.1" r="1.1" fill="#2a3ae0" opacity="0.3"/><circle cx="140.5" cy="631.6" r="0.9" fill="#1624a8" opacity="0.3"/><circle cx="133.2" cy="623.5" r="0.6" fill="#121c90" opacity="0.4"/><circle cx="136.7" cy="612.3" r="0.8" fill="#1e2cc8" opacity="0.7"/><circle cx="138.4" cy="614.5" r="1.2" fill="#3040e8" opacity="0.8"/><circle cx="135.3" cy="608.4" r="0.8" fill="#2a3ae0" opacity="0.6"/><circle cx="140.6" cy="615.5" r="1.1" fill="#2a3ae0" opacity="0.4"/><circle cx="115.5" cy="633.6" r="0.8" fill="#121c90" opacity="0.8"/><circle cx="137" cy="616.2" r="0.8" fill="#1e2cc8" opacity="0.5"/><circle cx="141.6" cy="612.1" r="1.3" fill="#1624a8" opacity="0.4"/><circle cx="135.1" cy="625.9" r="0.6" fill="#1e2cc8" opacity="0.7"/><circle cx="137.8" cy="614.6" r="1.3" fill="#3040e8" opacity="0.6"/><circle cx="136.6" cy="625.9" r="1.4" fill="#1624a8" opacity="0.6"/><circle cx="138.6" cy="634.7" r="0.6" fill="#1624a8" opacity="0.7"/><circle cx="141.4" cy="609" r="1.1" fill="#1e2cc8" opacity="0.7"/><circle cx="138" cy="631.2" r="0.7" fill="#1e2cc8" opacity="0.6"/><circle cx="132.9" cy="626.3" r="1.2" fill="#3040e8" opacity="0.6"/><circle cx="138.9" cy="627.4" r="0.8" fill="#3040e8" opacity="0.8"/><circle cx="147" cy="624.6" r="0.7" fill="#1e2cc8" opacity="0.8"/><circle cx="139.2" cy="619.2" r="0.9" fill="#2a3ae0" opacity="0.4"/><circle cx="117.6" cy="638.3" r="1.1" fill="#121c90" opacity="0.9"/><circle cx="139.9" cy="627.4" r="0.8" fill="#1e2cc8" opacity="0.7"/><circle cx="126.5" cy="631" r="1.3" fill="#2a3ae0" opacity="0.5"/><circle cx="114.7" cy="635.6" r="0.8" fill="#1e2cc8" opacity="0.4"/><circle cx="121.1" cy="632.6" r="1.4" fill="#1e2cc8" opacity="0.6"/><circle cx="140.1" cy="623" r="0.9" fill="#3040e8" opacity="0.4"/><circle cx="120.7" cy="639.3" r="1.3" fill="#121c90" opacity="0.7"/><circle cx="128.4" cy="609.4" r="0.9" fill="#3040e8" opacity="0.9"/><circle cx="133.3" cy="629.5" r="1" fill="#1624a8" opacity="0.9"/><circle cx="117.7" cy="621.9" r="1.3" fill="#1e2cc8" opacity="0.6"/><circle cx="130.6" cy="631.9" r="0.8" fill="#1624a8" opacity="0.7"/><circle cx="123.4" cy="612.7" r="1" fill="#121c90" opacity="0.7"/><circle cx="139.2" cy="619.1" r="0.9" fill="#121c90" opacity="0.9"/><circle cx="136.8" cy="626.1" r="0.8" fill="#1e2cc8" opacity="0.6"/><circle cx="142.6" cy="619.6" r="1.1" fill="#1e2cc8" opacity="0.6"/><circle cx="118.2" cy="618.6" r="0.9" fill="#2a3ae0" opacity="0.6"/><circle cx="128.5" cy="611.2" r="0.8" fill="#121c90" opacity="0.4"/><circle cx="132.8" cy="634.4" r="0.8" fill="#1e2cc8" opacity="0.4"/><circle cx="118.3" cy="624.1" r="0.8" fill="#1624a8" opacity="0.4"/><circle cx="137.4" cy="616.4" r="1.1" fill="#1e2cc8" opacity="0.6"/><circle cx="129.5" cy="626.9" r="1.2" fill="#121c90" opacity="0.7"/><circle cx="118.7" cy="639" r="0.7" fill="#1624a8" opacity="0.4"/><circle cx="117.3" cy="631.2" r="1.4" fill="#2a3ae0" opacity="0.5"/><circle cx="147.3" cy="624.6" r="0.9" fill="#2a3ae0" opacity="0.5"/><circle cx="147.5" cy="616.3" r="1" fill="#2a3ae0" opacity="0.5"/><circle cx="124.6" cy="619.6" r="1.2" fill="#2a3ae0" opacity="0.8"/><circle cx="130.2" cy="629.2" r="0.8" fill="#2a3ae0" opacity="0.8"/><circle cx="137.9" cy="621.5" r="1" fill="#121c90" opacity="0.7"/><circle cx="125.3" cy="635.7" r="0.8" fill="#1e2cc8" opacity="0.6"/><circle cx="131.4" cy="636.9" r="0.9" fill="#2a3ae0" opacity="0.4"/><circle cx="121.6" cy="636.4" r="1.1" fill="#121c90" opacity="0.8"/><circle cx="117.9" cy="625.4" r="0.7" fill="#1e2cc8" opacity="0.8"/><circle cx="133.7" cy="611.2" r="1" fill="#3040e8" opacity="0.8"/><circle cx="137.8" cy="623" r="1.1" fill="#1e2cc8" opacity="0.7"/><circle cx="131.3" cy="623.1" r="1.3" fill="#3040e8" opacity="0.8"/><circle cx="135.4" cy="612.4" r="0.8" fill="#3040e8" opacity="0.4"/><circle cx="138.7" cy="627.5" r="1.3" fill="#121c90" opacity="0.7"/><circle cx="130.7" cy="625.3" r="1.1" fill="#1e2cc8" opacity="0.3"/><circle cx="129.6" cy="632.6" r="0.9" fill="#3040e8" opacity="0.5"/><circle cx="135.6" cy="626" r="1.2" fill="#2a3ae0" opacity="0.5"/><circle cx="140.9" cy="626.9" r="1.3" fill="#2a3ae0" opacity="0.8"/><circle cx="125.8" cy="624.8" r="1.1" fill="#3040e8" opacity="0.8"/><circle cx="138.1" cy="632.9" r="1.3" fill="#121c90" opacity="0.7"/><circle cx="144.7" cy="628.4" r="1" fill="#1624a8" opacity="0.8"/><circle cx="123.8" cy="611.5" r="1.1" fill="#1e2cc8" opacity="0.8"/><circle cx="119.1" cy="623.5" r="1" fill="#3040e8" opacity="0.6"/><circle cx="128" cy="637.4" r="0.6" fill="#121c90" opacity="0.4"/><circle cx="133.9" cy="636.9" r="1.1" fill="#1624a8" opacity="0.5"/><circle cx="141.2" cy="614.3" r="1.2" fill="#3040e8" opacity="0.8"/><circle cx="144" cy="609.8" r="0.7" fill="#121c90" opacity="0.6"/><circle cx="126.2" cy="618.9" r="0.8" fill="#3040e8" opacity="0.5"/><circle cx="113.7" cy="633" r="0.8" fill="#3040e8" opacity="0.5"/><circle cx="132.3" cy="613.5" r="0.9" fill="#121c90" opacity="0.5"/><circle cx="125" cy="616.4" r="1.4" fill="#2a3ae0" opacity="0.7"/><circle cx="142.8" cy="607.8" r="0.8" fill="#121c90" opacity="0.6"/><circle cx="123.3" cy="616.2" r="1.3" fill="#2a3ae0" opacity="0.3"/><circle cx="139.5" cy="618.8" r="0.8" fill="#121c90" opacity="0.4"/><circle cx="133.8" cy="637.9" r="1.3" fill="#2a3ae0" opacity="0.4"/><circle cx="131.7" cy="626.6" r="0.8" fill="#1624a8" opacity="0.7"/><circle cx="133.8" cy="618.7" r="0.9" fill="#2a3ae0" opacity="0.3"/><circle cx="128.8" cy="627" r="1" fill="#2a3ae0" opacity="0.4"/><circle cx="126.5" cy="616.1" r="1" fill="#3040e8" opacity="0.4"/><circle cx="134.7" cy="634.1" r="1.2" fill="#121c90" opacity="0.4"/><circle cx="131.9" cy="611.6" r="1.2" fill="#1624a8" opacity="0.8"/><circle cx="123.2" cy="625.7" r="0.9" fill="#121c90" opacity="0.6"/><circle cx="146.5" cy="622.5" r="0.8" fill="#1624a8" opacity="0.7"/><circle cx="135.6" cy="636.6" r="1.1" fill="#1e2cc8" opacity="0.8"/><circle cx="148.2" cy="614.4" r="0.9" fill="#1624a8" opacity="0.3"/><circle cx="144.1" cy="619.5" r="1.4" fill="#121c90" opacity="0.9"/><circle cx="115" cy="625.4" r="1" fill="#1624a8" opacity="0.6"/><circle cx="136.1" cy="631.5" r="1.3" fill="#2a3ae0" opacity="0.5"/><circle cx="139.6" cy="611.5" r="1.2" fill="#121c90" opacity="0.3"/><circle cx="146.9" cy="613.4" r="1.4" fill="#2a3ae0" opacity="0.3"/><circle cx="146.8" cy="625.1" r="0.9" fill="#121c90" opacity="0.9"/><circle cx="123.4" cy="621.9" r="1.3" fill="#121c90" opacity="0.4"/><circle cx="135.7" cy="636.2" r="1.4" fill="#1624a8" opacity="0.8"/><circle cx="139.7" cy="618" r="0.6" fill="#1624a8" opacity="0.6"/><circle cx="138.3" cy="630.2" r="1" fill="#2a3ae0" opacity="0.6"/><circle cx="136.4" cy="613.1" r="0.8" fill="#3040e8" opacity="0.6"/><circle cx="128.9" cy="618.7" r="1" fill="#1e2cc8" opacity="0.9"/><circle cx="125.7" cy="631.5" r="1.2" fill="#3040e8" opacity="0.7"/><circle cx="124.7" cy="613.3" r="1.4" fill="#1624a8" opacity="0.7"/><circle cx="132.1" cy="618.7" r="0.7" fill="#1624a8" opacity="0.9"/><circle cx="125.9" cy="638.7" r="0.8" fill="#2a3ae0" opacity="0.6"/><circle cx="130.6" cy="608.5" r="0.9" fill="#1e2cc8" opacity="0.7"/><circle cx="137.8" cy="629.3" r="0.8" fill="#121c90" opacity="0.5"/><circle cx="117.1" cy="629.7" r="0.7" fill="#121c90" opacity="0.7"/><circle cx="131.4" cy="637.2" r="0.6" fill="#3040e8" opacity="0.4"/><circle cx="137.3" cy="622" r="0.6" fill="#1624a8" opacity="0.5"/><circle cx="134.6" cy="610.6" r="0.9" fill="#3040e8" opacity="0.7"/><circle cx="137.8" cy="607.2" r="0.7" fill="#2a3ae0" opacity="0.5"/><circle cx="135.1" cy="632" r="0.6" fill="#1624a8" opacity="0.4"/><circle cx="115.6" cy="629.9" r="1.3" fill="#1624a8" opacity="0.6"/><circle cx="138" cy="630.8" r="1.4" fill="#1e2cc8" opacity="0.7"/><circle cx="127" cy="624.3" r="1.1" fill="#3040e8" opacity="0.5"/><circle cx="124.9" cy="615.5" r="1" fill="#1624a8" opacity="0.3"/><circle cx="122.5" cy="636.7" r="1" fill="#1624a8" opacity="0.6"/><circle cx="149.1" cy="617.7" r="0.9" fill="#2a3ae0" opacity="0.8"/><circle cx="145.7" cy="617.6" r="0.9" fill="#121c90" opacity="0.4"/><circle cx="130.1" cy="618.3" r="0.8" fill="#1624a8" opacity="0.6"/><circle cx="132.6" cy="615.6" r="0.6" fill="#121c90" opacity="0.7"/><circle cx="116.5" cy="631" r="0.9" fill="#121c90" opacity="0.5"/><circle cx="123.1" cy="627.1" r="0.7" fill="#1e2cc8" opacity="0.6"/><circle cx="139.5" cy="613.1" r="0.8" fill="#121c90" opacity="0.7"/><circle cx="125.7" cy="629.6" r="1" fill="#1e2cc8" opacity="0.8"/><circle cx="121.2" cy="615.3" r="1.4" fill="#1624a8" opacity="0.8"/><circle cx="144.9" cy="614" r="0.8" fill="#1624a8" opacity="0.4"/><circle cx="142.4" cy="630.6" r="0.7" fill="#2a3ae0" opacity="0.5"/><circle cx="123.9" cy="624.6" r="1" fill="#2a3ae0" opacity="0.9"/><circle cx="134.5" cy="629.9" r="1.2" fill="#3040e8" opacity="0.3"/><circle cx="122.3" cy="620.7" r="1.1" fill="#1624a8" opacity="0.5"/><circle cx="143.5" cy="609.4" r="1.3" fill="#1e2cc8" opacity="0.8"/><circle cx="113.5" cy="633.9" r="0.7" fill="#1624a8" opacity="0.4"/><circle cx="135.8" cy="611.2" r="1.1" fill="#3040e8" opacity="0.7"/><circle cx="128.1" cy="628.8" r="1" fill="#1624a8" opacity="0.4"/><circle cx="120.5" cy="622.5" r="0.9" fill="#121c90" opacity="0.6"/><circle cx="145.6" cy="618.4" r="0.9" fill="#1624a8" opacity="0.4"/><circle cx="131.5" cy="632" r="1" fill="#1624a8" opacity="0.7"/><circle cx="137" cy="612.8" r="0.7" fill="#3040e8" opacity="0.5"/><circle cx="130" cy="612.6" r="0.6" fill="#3040e8" opacity="0.5"/><circle cx="123.9" cy="619.2" r="1.1" fill="#3040e8" opacity="0.4"/><circle cx="136.2" cy="619" r="0.6" fill="#2a3ae0" opacity="0.4"/><circle cx="129.2" cy="611" r="1.2" fill="#1624a8" opacity="0.4"/></g>
<g style="mix-blend-mode:screen">
<g filter="url(#bl2)">
<path d="M138,609 C150,602 162,598 178,594 L179,602 C166,605 155,610 146,616 Z" fill="#0e3414"/>
</g>
<g filter="url(#bl3)">
<ellipse cx="143" cy="607" rx="5.5" ry="3.2" fill="#2a9a3a" transform="rotate(-20 143 607)"/>
<ellipse cx="154" cy="610" rx="4.5" ry="2.5" fill="#26903a" transform="rotate(-15 154 610)"/>
<ellipse cx="133" cy="608" rx="6" ry="2.6" fill="#1c7030" transform="rotate(-25 133 608)"/>
<ellipse cx="165" cy="604" rx="8" ry="2.2" fill="#175a22" transform="rotate(-15 165 604)"/>
</g>
<g filter="url(#bl15)"><circle cx="150.8" cy="605.7" r="1" fill="rgb(20,71,18)" opacity="0.4"/><circle cx="143.6" cy="601.5" r="1.2" fill="rgb(35,113,29)" opacity="0.6"/><circle cx="156.5" cy="605" r="1.2" fill="rgb(17,64,16)" opacity="0.4"/><circle cx="129.8" cy="607" r="1" fill="rgb(24,83,21)" opacity="0.5"/><circle cx="116.7" cy="636.4" r="0.7" fill="rgb(16,62,16)" opacity="0.4"/><circle cx="118.5" cy="637.3" r="1" fill="rgb(19,70,18)" opacity="0.4"/><circle cx="114.6" cy="615.6" r="0.8" fill="rgb(18,66,17)" opacity="0.4"/><circle cx="130" cy="609.7" r="1" fill="rgb(57,171,43)" opacity="0.9"/><circle cx="122" cy="610.7" r="1.1" fill="rgb(16,61,16)" opacity="0.4"/><circle cx="159.3" cy="604.1" r="0.6" fill="rgb(28,93,24)" opacity="0.5"/><circle cx="111.9" cy="638.6" r="1.2" fill="rgb(27,91,23)" opacity="0.5"/><circle cx="125.6" cy="611.7" r="1.1" fill="rgb(14,58,15)" opacity="0.4"/><circle cx="172.8" cy="596.9" r="0.9" fill="rgb(16,63,16)" opacity="0.4"/><circle cx="166.5" cy="600.3" r="1.1" fill="rgb(16,61,16)" opacity="0.4"/><circle cx="165.3" cy="602.8" r="1.1" fill="rgb(30,99,25)" opacity="0.6"/><circle cx="175.7" cy="597.4" r="1" fill="rgb(22,77,20)" opacity="0.5"/><circle cx="133" cy="606.2" r="0.8" fill="rgb(51,155,39)" opacity="0.9"/><circle cx="114.2" cy="632.3" r="1.1" fill="rgb(17,63,16)" opacity="0.4"/><circle cx="161.9" cy="604.1" r="0.8" fill="rgb(22,78,20)" opacity="0.5"/><circle cx="114.3" cy="641" r="0.9" fill="rgb(19,69,18)" opacity="0.4"/><circle cx="120" cy="633.4" r="1.1" fill="rgb(17,65,17)" opacity="0.4"/><circle cx="109.1" cy="645" r="0.9" fill="rgb(16,62,16)" opacity="0.4"/><circle cx="146.7" cy="608.7" r="1" fill="rgb(44,137,35)" opacity="0.8"/><circle cx="137.1" cy="613.2" r="1.1" fill="rgb(33,108,27)" opacity="0.6"/><circle cx="140.8" cy="609.8" r="0.7" fill="rgb(43,133,34)" opacity="0.7"/><circle cx="123.8" cy="607.7" r="1" fill="rgb(15,59,15)" opacity="0.4"/><circle cx="152.1" cy="604.1" r="1.2" fill="rgb(44,137,35)" opacity="0.8"/><circle cx="110.4" cy="636.1" r="0.7" fill="rgb(15,59,15)" opacity="0.4"/><circle cx="154.5" cy="606.3" r="0.8" fill="rgb(40,127,32)" opacity="0.7"/><circle cx="177.7" cy="600" r="1" fill="rgb(13,55,14)" opacity="0.4"/><circle cx="129" cy="614.8" r="1.2" fill="rgb(19,70,18)" opacity="0.4"/><circle cx="108.5" cy="642.4" r="1" fill="rgb(14,56,14)" opacity="0.4"/><circle cx="130.5" cy="611.8" r="0.9" fill="rgb(36,116,29)" opacity="0.7"/><circle cx="140" cy="611.6" r="0.9" fill="rgb(33,108,27)" opacity="0.6"/><circle cx="119" cy="613.5" r="1" fill="rgb(19,70,18)" opacity="0.4"/><circle cx="120.9" cy="611" r="0.6" fill="rgb(19,70,18)" opacity="0.4"/><circle cx="116.9" cy="631.9" r="0.6" fill="rgb(24,84,21)" opacity="0.5"/><circle cx="126.4" cy="612" r="1.1" fill="rgb(14,57,15)" opacity="0.4"/><circle cx="140.7" cy="611.5" r="1.3" fill="rgb(26,90,23)" opacity="0.5"/><circle cx="147.9" cy="610.1" r="0.9" fill="rgb(37,119,30)" opacity="0.7"/><circle cx="136.6" cy="609.1" r="0.8" fill="rgb(40,126,32)" opacity="0.7"/><circle cx="125.4" cy="609.2" r="0.8" fill="rgb(21,74,19)" opacity="0.4"/><circle cx="155.1" cy="608.5" r="0.9" fill="rgb(25,86,22)" opacity="0.5"/><circle cx="140.7" cy="609.4" r="1.1" fill="rgb(40,125,32)" opacity="0.7"/><circle cx="152.6" cy="608.4" r="0.6" fill="rgb(23,81,21)" opacity="0.5"/><circle cx="163.7" cy="599.5" r="1.1" fill="rgb(19,69,18)" opacity="0.4"/><circle cx="142.4" cy="602.7" r="1" fill="rgb(41,128,32)" opacity="0.7"/><circle cx="114.3" cy="630.6" r="0.7" fill="rgb(15,60,15)" opacity="0.4"/><circle cx="137.9" cy="605" r="1.2" fill="rgb(23,80,20)" opacity="0.5"/><circle cx="144" cy="611.6" r="0.9" fill="rgb(33,106,27)" opacity="0.6"/><circle cx="107.6" cy="652.8" r="0.8" fill="rgb(15,58,15)" opacity="0.4"/><circle cx="141.3" cy="609.7" r="1.2" fill="rgb(34,109,28)" opacity="0.6"/><circle cx="179.8" cy="595.2" r="1.1" fill="rgb(17,65,17)" opacity="0.4"/><circle cx="160.3" cy="600.8" r="1.2" fill="rgb(27,90,23)" opacity="0.5"/><circle cx="101.1" cy="655.3" r="0.9" fill="rgb(18,67,17)" opacity="0.4"/><circle cx="173.1" cy="600.5" r="1.2" fill="rgb(14,58,15)" opacity="0.4"/><circle cx="150" cy="605.6" r="0.9" fill="rgb(21,75,19)" opacity="0.5"/><circle cx="175.4" cy="601.1" r="0.8" fill="rgb(18,67,17)" opacity="0.4"/><circle cx="114.5" cy="640.1" r="0.6" fill="rgb(18,68,17)" opacity="0.4"/><circle cx="122.5" cy="612.1" r="1.1" fill="rgb(23,80,20)" opacity="0.5"/><circle cx="174.8" cy="600.9" r="0.9" fill="rgb(14,56,14)" opacity="0.4"/><circle cx="125.1" cy="610.8" r="1.3" fill="rgb(18,68,17)" opacity="0.4"/><circle cx="115.1" cy="637.6" r="1.1" fill="rgb(25,85,22)" opacity="0.5"/><circle cx="114.5" cy="643.1" r="0.9" fill="rgb(17,64,16)" opacity="0.4"/><circle cx="125.7" cy="613.7" r="0.9" fill="rgb(12,51,13)" opacity="0.3"/><circle cx="103.2" cy="652.5" r="1" fill="rgb(14,56,14)" opacity="0.4"/><circle cx="118.5" cy="636" r="1.2" fill="rgb(21,75,19)" opacity="0.5"/><circle cx="101.6" cy="646.1" r="0.8" fill="rgb(13,53,14)" opacity="0.3"/><circle cx="157.4" cy="604.2" r="0.7" fill="rgb(34,111,28)" opacity="0.6"/><circle cx="149.6" cy="600" r="0.7" fill="rgb(18,68,17)" opacity="0.4"/><circle cx="123.4" cy="612.5" r="1" fill="rgb(16,61,16)" opacity="0.4"/><circle cx="112.3" cy="636.9" r="1.1" fill="rgb(16,63,16)" opacity="0.4"/><circle cx="105.6" cy="654.9" r="0.6" fill="rgb(16,63,16)" opacity="0.4"/><circle cx="146" cy="602.7" r="1" fill="rgb(45,140,35)" opacity="0.8"/><circle cx="110.5" cy="646.9" r="1.1" fill="rgb(13,53,14)" opacity="0.3"/><circle cx="116.8" cy="641.2" r="1.2" fill="rgb(15,58,15)" opacity="0.4"/><circle cx="136.1" cy="601.5" r="1" fill="rgb(38,120,30)" opacity="0.7"/><circle cx="150.5" cy="608.2" r="1.3" fill="rgb(42,132,33)" opacity="0.7"/><circle cx="133.6" cy="600.8" r="0.9" fill="rgb(23,81,21)" opacity="0.5"/><circle cx="141.7" cy="601.7" r="1" fill="rgb(31,103,26)" opacity="0.6"/><circle cx="141.8" cy="609.2" r="0.7" fill="rgb(30,98,25)" opacity="0.6"/><circle cx="155.8" cy="607.2" r="1.1" fill="rgb(34,110,28)" opacity="0.6"/><circle cx="125.6" cy="613.2" r="0.9" fill="rgb(20,73,19)" opacity="0.4"/><circle cx="123.9" cy="613.7" r="0.7" fill="rgb(15,58,15)" opacity="0.4"/><circle cx="128.2" cy="605.9" r="1.2" fill="rgb(20,73,19)" opacity="0.4"/><circle cx="123.9" cy="609.1" r="1.3" fill="rgb(23,81,21)" opacity="0.5"/><circle cx="109.2" cy="640.1" r="0.6" fill="rgb(21,75,19)" opacity="0.5"/><circle cx="127.9" cy="609" r="1.3" fill="rgb(24,82,21)" opacity="0.5"/><circle cx="155.8" cy="600.8" r="1" fill="rgb(27,90,23)" opacity="0.5"/><circle cx="105" cy="642.1" r="1.1" fill="rgb(15,58,15)" opacity="0.4"/><circle cx="113.2" cy="637.8" r="0.9" fill="rgb(17,66,17)" opacity="0.4"/><circle cx="160.5" cy="602.4" r="1.3" fill="rgb(34,110,28)" opacity="0.6"/><circle cx="114.2" cy="636.8" r="1.2" fill="rgb(18,68,17)" opacity="0.4"/><circle cx="103.5" cy="647.2" r="1.2" fill="rgb(14,58,15)" opacity="0.4"/><circle cx="143.5" cy="608.1" r="0.7" fill="rgb(30,98,25)" opacity="0.6"/><circle cx="101" cy="649.2" r="0.8" fill="rgb(13,53,14)" opacity="0.3"/><circle cx="123.5" cy="609.4" r="0.9" fill="rgb(19,69,18)" opacity="0.4"/><circle cx="147.5" cy="603.4" r="0.9" fill="rgb(37,118,30)" opacity="0.7"/><circle cx="121" cy="611.9" r="0.8" fill="rgb(14,56,14)" opacity="0.4"/><circle cx="121.2" cy="615.7" r="0.8" fill="rgb(16,62,16)" opacity="0.4"/><circle cx="104.9" cy="651.4" r="1.2" fill="rgb(23,81,21)" opacity="0.5"/><circle cx="117.4" cy="629.6" r="0.8" fill="rgb(19,70,18)" opacity="0.4"/><circle cx="143.1" cy="605.2" r="0.8" fill="rgb(24,84,21)" opacity="0.5"/><circle cx="144.1" cy="607.2" r="1.2" fill="rgb(29,98,25)" opacity="0.6"/><circle cx="109" cy="645.8" r="0.7" fill="rgb(13,55,14)" opacity="0.4"/><circle cx="117.8" cy="638.6" r="1" fill="rgb(15,60,15)" opacity="0.4"/><circle cx="141.7" cy="610.4" r="1" fill="rgb(37,117,30)" opacity="0.7"/><circle cx="113" cy="642.9" r="1.2" fill="rgb(24,83,21)" opacity="0.5"/><circle cx="163.9" cy="600.2" r="1" fill="rgb(25,87,22)" opacity="0.5"/><circle cx="173.2" cy="594.8" r="1.1" fill="rgb(18,67,17)" opacity="0.4"/><circle cx="152.8" cy="607.3" r="1.2" fill="rgb(41,127,32)" opacity="0.7"/><circle cx="151.9" cy="606.1" r="0.8" fill="rgb(32,104,26)" opacity="0.6"/><circle cx="108.1" cy="642.3" r="1" fill="rgb(16,61,16)" opacity="0.4"/><circle cx="115.5" cy="611.1" r="0.6" fill="rgb(18,67,17)" opacity="0.4"/><circle cx="130.2" cy="608.1" r="0.9" fill="rgb(45,138,35)" opacity="0.8"/><circle cx="103.2" cy="646" r="1.3" fill="rgb(17,65,17)" opacity="0.4"/><circle cx="144.1" cy="604.7" r="0.8" fill="rgb(29,95,24)" opacity="0.6"/><circle cx="165.8" cy="603.6" r="1.2" fill="rgb(28,93,24)" opacity="0.5"/><circle cx="164.5" cy="601.5" r="1.2" fill="rgb(23,81,21)" opacity="0.5"/><circle cx="127.8" cy="606.7" r="1" fill="rgb(15,59,15)" opacity="0.4"/><circle cx="157.6" cy="605.3" r="1" fill="rgb(33,106,27)" opacity="0.6"/><circle cx="151.8" cy="600.5" r="0.9" fill="rgb(34,111,28)" opacity="0.6"/><circle cx="158.7" cy="605.8" r="1.1" fill="rgb(17,64,16)" opacity="0.4"/><circle cx="102.3" cy="648.2" r="0.9" fill="rgb(14,56,14)" opacity="0.4"/><circle cx="157.4" cy="604.2" r="0.6" fill="rgb(26,88,22)" opacity="0.5"/><circle cx="125.7" cy="611.7" r="0.7" fill="rgb(13,55,14)" opacity="0.4"/><circle cx="165" cy="602.8" r="0.9" fill="rgb(16,61,16)" opacity="0.4"/><circle cx="167.2" cy="600.5" r="0.8" fill="rgb(25,86,22)" opacity="0.5"/><circle cx="145.4" cy="607.6" r="0.8" fill="rgb(39,123,31)" opacity="0.7"/><circle cx="148.6" cy="607.9" r="1" fill="rgb(46,142,36)" opacity="0.8"/><circle cx="115.1" cy="630.3" r="1.1" fill="rgb(17,66,17)" opacity="0.4"/><circle cx="148.2" cy="600" r="0.8" fill="rgb(25,86,22)" opacity="0.5"/><circle cx="169.6" cy="596.2" r="1.2" fill="rgb(23,79,20)" opacity="0.5"/><circle cx="114.9" cy="632.3" r="1.1" fill="rgb(13,54,14)" opacity="0.3"/><circle cx="163" cy="604.4" r="0.7" fill="rgb(22,77,20)" opacity="0.5"/><circle cx="170.3" cy="601.9" r="0.8" fill="rgb(25,86,22)" opacity="0.5"/><circle cx="160.5" cy="603" r="0.9" fill="rgb(38,119,30)" opacity="0.7"/><circle cx="106.6" cy="651.7" r="0.7" fill="rgb(16,61,16)" opacity="0.4"/><circle cx="100.2" cy="657.2" r="1.1" fill="rgb(16,63,16)" opacity="0.4"/><circle cx="159.3" cy="605.2" r="1" fill="rgb(19,70,18)" opacity="0.4"/><circle cx="118.5" cy="637.5" r="0.9" fill="rgb(15,59,15)" opacity="0.4"/><circle cx="106.8" cy="652.7" r="0.8" fill="rgb(14,57,15)" opacity="0.4"/><circle cx="103.2" cy="648.9" r="1.2" fill="rgb(24,82,21)" opacity="0.5"/><circle cx="135.8" cy="614.2" r="1.1" fill="rgb(43,133,34)" opacity="0.7"/><circle cx="137.7" cy="604.5" r="0.8" fill="rgb(29,97,25)" opacity="0.6"/><circle cx="161.9" cy="597.7" r="1.1" fill="rgb(17,65,17)" opacity="0.4"/><circle cx="144.3" cy="600.9" r="1.3" fill="rgb(23,80,20)" opacity="0.5"/><circle cx="115.5" cy="617" r="0.9" fill="rgb(15,59,15)" opacity="0.4"/><circle cx="111.9" cy="638.7" r="0.9" fill="rgb(25,86,22)" opacity="0.5"/><circle cx="121.6" cy="607.7" r="0.7" fill="rgb(17,63,16)" opacity="0.4"/><circle cx="116.9" cy="611.5" r="1.1" fill="rgb(18,68,17)" opacity="0.4"/><circle cx="161.6" cy="601.8" r="1.2" fill="rgb(43,133,34)" opacity="0.7"/><circle cx="101.4" cy="646.5" r="0.6" fill="rgb(19,69,18)" opacity="0.4"/><circle cx="152.5" cy="604" r="0.9" fill="rgb(51,156,39)" opacity="0.9"/><circle cx="160.7" cy="599.2" r="0.7" fill="rgb(18,68,17)" opacity="0.4"/><circle cx="141.5" cy="604.1" r="0.7" fill="rgb(48,148,37)" opacity="0.8"/><circle cx="139.6" cy="614.1" r="0.7" fill="rgb(22,78,20)" opacity="0.5"/><circle cx="129.3" cy="609.7" r="0.9" fill="rgb(22,77,20)" opacity="0.5"/><circle cx="124.9" cy="612.8" r="0.8" fill="rgb(15,60,15)" opacity="0.4"/><circle cx="173.3" cy="598.8" r="1.3" fill="rgb(21,76,19)" opacity="0.5"/><circle cx="160.8" cy="604.7" r="1.2" fill="rgb(28,93,24)" opacity="0.5"/><circle cx="159.7" cy="601.9" r="0.6" fill="rgb(31,103,26)" opacity="0.6"/><circle cx="119.7" cy="635" r="1" fill="rgb(16,61,16)" opacity="0.4"/><circle cx="166.4" cy="602.7" r="0.7" fill="rgb(24,84,21)" opacity="0.5"/><circle cx="155.8" cy="599.5" r="1.1" fill="rgb(21,76,19)" opacity="0.5"/><circle cx="133" cy="614.4" r="0.7" fill="rgb(21,75,19)" opacity="0.5"/><circle cx="133.4" cy="615.4" r="0.9" fill="rgb(33,106,27)" opacity="0.6"/><circle cx="108.3" cy="640.4" r="0.8" fill="rgb(14,56,14)" opacity="0.4"/><circle cx="114.1" cy="633.7" r="1.3" fill="rgb(22,77,20)" opacity="0.5"/><circle cx="116.4" cy="631.6" r="1.2" fill="rgb(14,57,15)" opacity="0.4"/><circle cx="142.3" cy="607.4" r="0.9" fill="rgb(35,112,28)" opacity="0.6"/><circle cx="102" cy="650.8" r="1.1" fill="rgb(24,83,21)" opacity="0.5"/><circle cx="142.7" cy="602.7" r="1" fill="rgb(23,81,21)" opacity="0.5"/><circle cx="116.5" cy="637.3" r="0.9" fill="rgb(18,67,17)" opacity="0.4"/><circle cx="116.5" cy="613.1" r="0.8" fill="rgb(16,63,16)" opacity="0.4"/><circle cx="172.8" cy="596.6" r="1.2" fill="rgb(21,74,19)" opacity="0.4"/><circle cx="150.2" cy="609.9" r="0.8" fill="rgb(15,60,15)" opacity="0.4"/><circle cx="131.2" cy="604.3" r="1.1" fill="rgb(33,107,27)" opacity="0.6"/><circle cx="136.3" cy="602" r="1.1" fill="rgb(43,134,34)" opacity="0.7"/><circle cx="119.8" cy="608.2" r="1.2" fill="rgb(14,57,15)" opacity="0.4"/><circle cx="161.6" cy="603.1" r="0.7" fill="rgb(26,88,22)" opacity="0.5"/><circle cx="142.6" cy="609.5" r="1.1" fill="rgb(42,130,33)" opacity="0.7"/><circle cx="108.7" cy="646.6" r="0.9" fill="rgb(24,83,21)" opacity="0.5"/><circle cx="167.8" cy="599.5" r="1" fill="rgb(18,68,17)" opacity="0.4"/><circle cx="127.8" cy="611.2" r="0.9" fill="rgb(12,51,13)" opacity="0.3"/><circle cx="117.2" cy="617.1" r="0.6" fill="rgb(17,64,16)" opacity="0.4"/><circle cx="147.8" cy="604.1" r="0.8" fill="rgb(35,114,29)" opacity="0.6"/><circle cx="108.2" cy="638.6" r="1.1" fill="rgb(18,66,17)" opacity="0.4"/><circle cx="106" cy="642.7" r="0.9" fill="rgb(12,52,13)" opacity="0.3"/><circle cx="100.3" cy="649" r="1.1" fill="rgb(21,75,19)" opacity="0.5"/><circle cx="118.1" cy="632.4" r="1.1" fill="rgb(17,64,16)" opacity="0.4"/><circle cx="123.5" cy="608.4" r="1.1" fill="rgb(21,76,19)" opacity="0.5"/><circle cx="130.9" cy="607.8" r="0.9" fill="rgb(24,84,21)" opacity="0.5"/><circle cx="117.7" cy="632.2" r="1.2" fill="rgb(20,73,19)" opacity="0.4"/><circle cx="138.3" cy="606.4" r="0.7" fill="rgb(29,97,25)" opacity="0.6"/><circle cx="129.2" cy="615.7" r="0.8" fill="rgb(20,73,19)" opacity="0.4"/><circle cx="165.5" cy="596.9" r="1.2" fill="rgb(17,64,16)" opacity="0.4"/><circle cx="105" cy="642.9" r="0.8" fill="rgb(15,60,15)" opacity="0.4"/><circle cx="110.2" cy="642.6" r="1.2" fill="rgb(22,77,20)" opacity="0.5"/><circle cx="135.1" cy="615.1" r="0.9" fill="rgb(32,103,26)" opacity="0.6"/><circle cx="136.4" cy="607.3" r="0.7" fill="rgb(25,87,22)" opacity="0.5"/><circle cx="115.7" cy="642.7" r="1.3" fill="rgb(13,54,14)" opacity="0.3"/><circle cx="140.1" cy="606.5" r="1" fill="rgb(57,171,43)" opacity="0.9"/><circle cx="132.4" cy="612.8" r="0.9" fill="rgb(43,135,34)" opacity="0.8"/><circle cx="145.3" cy="611.1" r="0.9" fill="rgb(39,123,31)" opacity="0.7"/><circle cx="142.3" cy="605.6" r="1" fill="rgb(48,146,37)" opacity="0.8"/><circle cx="169.9" cy="600.8" r="0.9" fill="rgb(15,60,15)" opacity="0.4"/><circle cx="129" cy="608.7" r="0.8" fill="rgb(27,91,23)" opacity="0.5"/><circle cx="101.7" cy="651.9" r="0.8" fill="rgb(24,84,21)" opacity="0.5"/><circle cx="101.3" cy="651.4" r="0.8" fill="rgb(14,57,15)" opacity="0.4"/><circle cx="136.9" cy="602.9" r="1.1" fill="rgb(42,130,33)" opacity="0.7"/><circle cx="119.3" cy="633.4" r="0.8" fill="rgb(20,74,19)" opacity="0.4"/><circle cx="163.9" cy="605" r="1" fill="rgb(13,55,14)" opacity="0.4"/><circle cx="176.2" cy="594.8" r="1" fill="rgb(18,67,17)" opacity="0.4"/><circle cx="162" cy="598.2" r="0.9" fill="rgb(30,100,25)" opacity="0.6"/><circle cx="166.8" cy="603.9" r="1" fill="rgb(18,68,17)" opacity="0.4"/><circle cx="149.3" cy="609.2" r="0.8" fill="rgb(30,99,25)" opacity="0.6"/><circle cx="149.2" cy="602" r="1.2" fill="rgb(28,93,24)" opacity="0.5"/><circle cx="112" cy="645.2" r="1.3" fill="rgb(16,61,16)" opacity="0.4"/><circle cx="162.6" cy="604.8" r="1" fill="rgb(15,58,15)" opacity="0.4"/><circle cx="131.8" cy="604.3" r="0.7" fill="rgb(48,148,37)" opacity="0.8"/><circle cx="128.9" cy="605.6" r="0.7" fill="rgb(38,121,31)" opacity="0.7"/><circle cx="114.4" cy="642.4" r="0.9" fill="rgb(20,72,18)" opacity="0.4"/><circle cx="143.9" cy="606.6" r="1.3" fill="rgb(37,117,30)" opacity="0.7"/><circle cx="173" cy="600.7" r="1.1" fill="rgb(15,58,15)" opacity="0.4"/><circle cx="114.8" cy="614.5" r="0.6" fill="rgb(16,62,16)" opacity="0.4"/><circle cx="114.2" cy="614.4" r="0.6" fill="rgb(13,54,14)" opacity="0.3"/><circle cx="174.8" cy="595.7" r="1.2" fill="rgb(18,68,17)" opacity="0.4"/><circle cx="170.2" cy="601.8" r="1.2" fill="rgb(14,57,15)" opacity="0.4"/><circle cx="161.3" cy="604.4" r="0.7" fill="rgb(25,85,22)" opacity="0.5"/><circle cx="127" cy="605.6" r="0.9" fill="rgb(20,72,18)" opacity="0.4"/><circle cx="167.2" cy="603.9" r="1" fill="rgb(13,55,14)" opacity="0.4"/><circle cx="134.2" cy="608.7" r="0.6" fill="rgb(50,153,39)" opacity="0.8"/><circle cx="154.2" cy="607.9" r="1.2" fill="rgb(32,104,26)" opacity="0.6"/><circle cx="100.6" cy="655.3" r="0.6" fill="rgb(18,66,17)" opacity="0.4"/><circle cx="149.5" cy="600.8" r="1" fill="rgb(32,104,26)" opacity="0.6"/><circle cx="147.4" cy="600.1" r="0.9" fill="rgb(21,75,19)" opacity="0.5"/><circle cx="157.4" cy="607.6" r="0.8" fill="rgb(14,56,14)" opacity="0.4"/><circle cx="102.2" cy="646.9" r="0.7" fill="rgb(21,75,19)" opacity="0.5"/><circle cx="132.7" cy="614.4" r="1.2" fill="rgb(35,112,28)" opacity="0.6"/><circle cx="109.5" cy="640.6" r="1.2" fill="rgb(17,63,16)" opacity="0.4"/><circle cx="114.3" cy="641.1" r="0.8" fill="rgb(22,78,20)" opacity="0.5"/><circle cx="149.3" cy="609.6" r="1" fill="rgb(33,108,27)" opacity="0.6"/><circle cx="117" cy="638.8" r="0.6" fill="rgb(22,78,20)" opacity="0.5"/><circle cx="139.3" cy="604.2" r="0.8" fill="rgb(29,98,25)" opacity="0.6"/><circle cx="118.6" cy="617.4" r="0.9" fill="rgb(13,55,14)" opacity="0.4"/><circle cx="141.7" cy="604.8" r="1.2" fill="rgb(40,127,32)" opacity="0.7"/><circle cx="108.3" cy="646.5" r="1.2" fill="rgb(22,79,20)" opacity="0.5"/><circle cx="132.8" cy="615.4" r="0.9" fill="rgb(21,75,19)" opacity="0.5"/><circle cx="103.3" cy="657.5" r="0.6" fill="rgb(20,73,19)" opacity="0.4"/><circle cx="138.3" cy="613.7" r="0.7" fill="rgb(37,119,30)" opacity="0.7"/><circle cx="104.1" cy="650.1" r="1.3" fill="rgb(22,78,20)" opacity="0.5"/><circle cx="177.5" cy="596.2" r="1.3" fill="rgb(13,53,14)" opacity="0.3"/><circle cx="108.7" cy="638.2" r="1.2" fill="rgb(21,75,19)" opacity="0.5"/><circle cx="110.5" cy="646.4" r="1.1" fill="rgb(17,63,16)" opacity="0.4"/><circle cx="113.1" cy="641.4" r="0.7" fill="rgb(20,72,18)" opacity="0.4"/><circle cx="141.9" cy="612.8" r="0.9" fill="rgb(37,119,30)" opacity="0.7"/><circle cx="120.1" cy="612.6" r="0.6" fill="rgb(19,71,18)" opacity="0.4"/><circle cx="116.9" cy="636.9" r="1.1" fill="rgb(13,54,14)" opacity="0.3"/><circle cx="103.5" cy="653.3" r="1" fill="rgb(19,70,18)" opacity="0.4"/><circle cx="120.8" cy="613.1" r="0.9" fill="rgb(25,86,22)" opacity="0.5"/><circle cx="173.4" cy="598.9" r="1.1" fill="rgb(14,57,15)" opacity="0.4"/><circle cx="117" cy="616.7" r="0.7" fill="rgb(12,51,13)" opacity="0.3"/><circle cx="152.4" cy="602.4" r="1.2" fill="rgb(43,134,34)" opacity="0.7"/><circle cx="127.6" cy="610.2" r="1.1" fill="rgb(16,63,16)" opacity="0.4"/><circle cx="127.3" cy="612.2" r="0.7" fill="rgb(16,61,16)" opacity="0.4"/><circle cx="127.3" cy="610.5" r="1" fill="rgb(17,66,17)" opacity="0.4"/><circle cx="172.6" cy="596.1" r="1.2" fill="rgb(21,76,19)" opacity="0.5"/><circle cx="109.1" cy="649.4" r="1.1" fill="rgb(18,66,17)" opacity="0.4"/><circle cx="154.4" cy="607" r="1" fill="rgb(36,116,29)" opacity="0.7"/><circle cx="154.7" cy="606" r="0.8" fill="rgb(33,107,27)" opacity="0.6"/><circle cx="134.3" cy="607.7" r="1.3" fill="rgb(23,80,20)" opacity="0.5"/><circle cx="116.2" cy="617.1" r="0.8" fill="rgb(14,57,15)" opacity="0.4"/><circle cx="179.9" cy="594.2" r="1.2" fill="rgb(15,59,15)" opacity="0.4"/><circle cx="123.6" cy="612.1" r="1.2" fill="rgb(23,81,21)" opacity="0.5"/><circle cx="110" cy="646.3" r="0.8" fill="rgb(19,70,18)" opacity="0.4"/><circle cx="172.5" cy="597.5" r="0.9" fill="rgb(16,63,16)" opacity="0.4"/><circle cx="111.5" cy="645.8" r="1" fill="rgb(17,63,16)" opacity="0.4"/><circle cx="136.1" cy="614.2" r="0.6" fill="rgb(37,118,30)" opacity="0.7"/><circle cx="117.8" cy="612.6" r="1" fill="rgb(14,56,14)" opacity="0.4"/><circle cx="151" cy="599.7" r="1" fill="rgb(25,85,22)" opacity="0.5"/><circle cx="101" cy="653.3" r="1.2" fill="rgb(23,82,21)" opacity="0.5"/><circle cx="121.7" cy="615" r="0.8" fill="rgb(21,74,19)" opacity="0.4"/><circle cx="156.9" cy="601" r="1" fill="rgb(19,71,18)" opacity="0.4"/><circle cx="110.2" cy="643" r="0.7" fill="rgb(18,67,17)" opacity="0.4"/><circle cx="113" cy="641.6" r="0.9" fill="rgb(24,82,21)" opacity="0.5"/><circle cx="133.4" cy="615" r="0.7" fill="rgb(30,100,25)" opacity="0.6"/><circle cx="132.4" cy="612.5" r="1.2" fill="rgb(25,86,22)" opacity="0.5"/><circle cx="148.4" cy="605.5" r="0.7" fill="rgb(30,99,25)" opacity="0.6"/><circle cx="137.1" cy="602.3" r="0.8" fill="rgb(31,102,26)" opacity="0.6"/><circle cx="123.1" cy="614" r="1" fill="rgb(18,68,17)" opacity="0.4"/><circle cx="167.9" cy="597.8" r="0.7" fill="rgb(17,66,17)" opacity="0.4"/><circle cx="109.1" cy="642.6" r="0.9" fill="rgb(26,88,22)" opacity="0.5"/><circle cx="118.9" cy="634.5" r="1.2" fill="rgb(13,53,14)" opacity="0.3"/><circle cx="119.5" cy="613.1" r="1.2" fill="rgb(15,59,15)" opacity="0.4"/><circle cx="164.2" cy="598.8" r="0.9" fill="rgb(31,101,26)" opacity="0.6"/><circle cx="159.9" cy="604.6" r="1" fill="rgb(23,80,20)" opacity="0.5"/><circle cx="104.2" cy="650.2" r="0.7" fill="rgb(27,91,23)" opacity="0.5"/><circle cx="128.5" cy="615.2" r="0.7" fill="rgb(22,79,20)" opacity="0.5"/><circle cx="164.6" cy="596.7" r="1.1" fill="rgb(14,56,14)" opacity="0.4"/><circle cx="127.8" cy="608.3" r="0.9" fill="rgb(23,79,20)" opacity="0.5"/><circle cx="117.9" cy="630.7" r="1.2" fill="rgb(12,51,13)" opacity="0.3"/><circle cx="145.3" cy="609.7" r="1" fill="rgb(38,121,31)" opacity="0.7"/><circle cx="178.2" cy="596.7" r="0.8" fill="rgb(21,75,19)" opacity="0.5"/><circle cx="128.6" cy="604.9" r="1.2" fill="rgb(47,145,37)" opacity="0.8"/><circle cx="158.9" cy="603.6" r="0.6" fill="rgb(18,67,17)" opacity="0.4"/><circle cx="135.2" cy="607" r="0.9" fill="rgb(27,91,23)" opacity="0.5"/><circle cx="104.7" cy="643.8" r="1" fill="rgb(17,65,17)" opacity="0.4"/><circle cx="116.9" cy="634.8" r="1" fill="rgb(26,87,22)" opacity="0.5"/><circle cx="177.6" cy="595.9" r="1.3" fill="rgb(20,73,19)" opacity="0.4"/><circle cx="108.3" cy="640.6" r="0.9" fill="rgb(17,65,17)" opacity="0.4"/><circle cx="130.6" cy="605.7" r="0.9" fill="rgb(36,116,29)" opacity="0.7"/><circle cx="132.4" cy="610.1" r="1" fill="rgb(53,160,40)" opacity="0.9"/><circle cx="124.4" cy="606.3" r="0.7" fill="rgb(15,59,15)" opacity="0.4"/><circle cx="138.3" cy="609.3" r="1.3" fill="rgb(42,130,33)" opacity="0.7"/><circle cx="130.2" cy="608.5" r="0.8" fill="rgb(49,150,38)" opacity="0.8"/><circle cx="119.2" cy="616.5" r="1" fill="rgb(12,51,13)" opacity="0.3"/><circle cx="167.4" cy="599.7" r="1" fill="rgb(22,79,20)" opacity="0.5"/><circle cx="136.1" cy="612.1" r="1.2" fill="rgb(34,109,28)" opacity="0.6"/><circle cx="160.3" cy="606.9" r="0.9" fill="rgb(23,80,20)" opacity="0.5"/><circle cx="177" cy="597.6" r="0.7" fill="rgb(14,56,14)" opacity="0.4"/><circle cx="149" cy="610.3" r="0.8" fill="rgb(27,91,23)" opacity="0.5"/><circle cx="169.6" cy="603.1" r="1" fill="rgb(13,54,14)" opacity="0.3"/><circle cx="102.9" cy="652.9" r="0.6" fill="rgb(26,90,23)" opacity="0.5"/><circle cx="144.8" cy="611.4" r="0.9" fill="rgb(33,108,27)" opacity="0.6"/><circle cx="115.8" cy="635.1" r="0.7" fill="rgb(16,61,16)" opacity="0.4"/><circle cx="137.9" cy="611.6" r="1.2" fill="rgb(41,129,33)" opacity="0.7"/><circle cx="171.5" cy="597.3" r="0.8" fill="rgb(17,64,16)" opacity="0.4"/><circle cx="166.3" cy="602.2" r="0.8" fill="rgb(17,63,16)" opacity="0.4"/><circle cx="128.4" cy="610.3" r="0.7" fill="rgb(25,85,22)" opacity="0.5"/><circle cx="150.4" cy="602" r="0.7" fill="rgb(26,88,22)" opacity="0.5"/><circle cx="145.2" cy="609.3" r="0.9" fill="rgb(39,123,31)" opacity="0.7"/><circle cx="168.2" cy="602.7" r="1.1" fill="rgb(21,75,19)" opacity="0.5"/><circle cx="133.7" cy="602.9" r="1.1" fill="rgb(47,143,36)" opacity="0.8"/><circle cx="135.1" cy="613.5" r="1.1" fill="rgb(25,85,22)" opacity="0.5"/><circle cx="103.6" cy="647.2" r="0.9" fill="rgb(16,62,16)" opacity="0.4"/><circle cx="161.5" cy="601.5" r="1.2" fill="rgb(20,72,18)" opacity="0.4"/><circle cx="145" cy="610.3" r="0.9" fill="rgb(28,94,24)" opacity="0.5"/><circle cx="104.6" cy="644.7" r="0.9" fill="rgb(16,62,16)" opacity="0.4"/><circle cx="169" cy="596.7" r="0.8" fill="rgb(15,58,15)" opacity="0.4"/><circle cx="124.6" cy="608.1" r="0.9" fill="rgb(24,82,21)" opacity="0.5"/><circle cx="123.7" cy="614.7" r="0.8" fill="rgb(19,70,18)" opacity="0.4"/><circle cx="153.9" cy="599" r="1.2" fill="rgb(31,103,26)" opacity="0.6"/><circle cx="157.6" cy="601.6" r="1.2" fill="rgb(25,87,22)" opacity="0.5"/><circle cx="136.3" cy="612.4" r="0.6" fill="rgb(42,131,33)" opacity="0.7"/><circle cx="134.5" cy="604.9" r="0.7" fill="rgb(25,85,22)" opacity="0.5"/><circle cx="119" cy="616.3" r="0.6" fill="rgb(19,71,18)" opacity="0.4"/><circle cx="154.9" cy="601.5" r="1.2" fill="rgb(23,82,21)" opacity="0.5"/><circle cx="159.3" cy="601.7" r="1" fill="rgb(32,106,27)" opacity="0.6"/><circle cx="141.8" cy="606.8" r="1.3" fill="rgb(28,93,24)" opacity="0.5"/><circle cx="117.5" cy="610.7" r="1.1" fill="rgb(15,60,15)" opacity="0.4"/><circle cx="171.8" cy="603" r="0.7" fill="rgb(14,57,15)" opacity="0.4"/><circle cx="174.2" cy="600.3" r="0.7" fill="rgb(15,60,15)" opacity="0.4"/><circle cx="164.4" cy="597.9" r="0.8" fill="rgb(24,83,21)" opacity="0.5"/><circle cx="142.8" cy="612.9" r="0.8" fill="rgb(21,76,19)" opacity="0.5"/><circle cx="101.9" cy="655.9" r="0.9" fill="rgb(24,83,21)" opacity="0.5"/><circle cx="142.3" cy="607.9" r="0.7" fill="rgb(30,100,25)" opacity="0.6"/><circle cx="110.9" cy="636.8" r="1.1" fill="rgb(22,79,20)" opacity="0.5"/><circle cx="162.1" cy="597.4" r="0.7" fill="rgb(14,57,15)" opacity="0.4"/><circle cx="117.3" cy="616.6" r="1.3" fill="rgb(16,62,16)" opacity="0.4"/><circle cx="128.1" cy="609.7" r="0.8" fill="rgb(32,104,26)" opacity="0.6"/><circle cx="144.7" cy="611.3" r="1.1" fill="rgb(33,106,27)" opacity="0.6"/><circle cx="161" cy="605.7" r="1" fill="rgb(25,86,22)" opacity="0.5"/><circle cx="132.9" cy="612.7" r="1.2" fill="rgb(30,99,25)" opacity="0.6"/><circle cx="173" cy="597.3" r="0.7" fill="rgb(19,69,18)" opacity="0.4"/><circle cx="170.6" cy="603.3" r="1.2" fill="rgb(13,53,14)" opacity="0.3"/><circle cx="101.6" cy="655.6" r="1" fill="rgb(19,71,18)" opacity="0.4"/><circle cx="103" cy="646.2" r="1.1" fill="rgb(17,64,16)" opacity="0.4"/><circle cx="122" cy="608.4" r="0.6" fill="rgb(16,61,16)" opacity="0.4"/><circle cx="176" cy="600.7" r="0.9" fill="rgb(16,62,16)" opacity="0.4"/><circle cx="147.2" cy="608" r="0.7" fill="rgb(29,96,24)" opacity="0.6"/><circle cx="101.3" cy="653.3" r="0.7" fill="rgb(25,87,22)" opacity="0.5"/><circle cx="151" cy="608.2" r="1" fill="rgb(35,113,29)" opacity="0.6"/><circle cx="132.5" cy="603.6" r="0.9" fill="rgb(37,119,30)" opacity="0.7"/><circle cx="142.6" cy="603" r="0.7" fill="rgb(42,132,33)" opacity="0.7"/><circle cx="165.3" cy="602.7" r="0.8" fill="rgb(27,90,23)" opacity="0.5"/><circle cx="148.9" cy="603.6" r="1.3" fill="rgb(36,115,29)" opacity="0.7"/><circle cx="124.9" cy="610.7" r="1.1" fill="rgb(21,75,19)" opacity="0.5"/><circle cx="168.2" cy="598.8" r="0.7" fill="rgb(16,63,16)" opacity="0.4"/><circle cx="117.4" cy="612.3" r="1.2" fill="rgb(13,53,14)" opacity="0.3"/><circle cx="150.6" cy="606.4" r="1" fill="rgb(30,100,25)" opacity="0.6"/><circle cx="119.9" cy="631.7" r="1" fill="rgb(18,68,17)" opacity="0.4"/><circle cx="115" cy="614.2" r="1.2" fill="rgb(15,60,15)" opacity="0.4"/><circle cx="147.5" cy="602.2" r="0.6" fill="rgb(41,128,32)" opacity="0.7"/><circle cx="141.5" cy="602.7" r="1.1" fill="rgb(41,128,32)" opacity="0.7"/><circle cx="153.7" cy="605.6" r="0.8" fill="rgb(36,114,29)" opacity="0.6"/><circle cx="155.1" cy="602.1" r="1.1" fill="rgb(32,104,26)" opacity="0.6"/><circle cx="110" cy="647.4" r="0.8" fill="rgb(22,78,20)" opacity="0.5"/><circle cx="147" cy="605.7" r="0.9" fill="rgb(51,155,39)" opacity="0.9"/><circle cx="148.4" cy="611" r="0.7" fill="rgb(18,67,17)" opacity="0.4"/><circle cx="138.1" cy="606.2" r="1.3" fill="rgb(50,154,39)" opacity="0.8"/><circle cx="166.8" cy="601.1" r="1.2" fill="rgb(32,104,26)" opacity="0.6"/><circle cx="131.9" cy="615.2" r="1.2" fill="rgb(21,74,19)" opacity="0.4"/><circle cx="107.8" cy="647.7" r="0.8" fill="rgb(21,74,19)" opacity="0.4"/><circle cx="113.9" cy="643.7" r="0.7" fill="rgb(12,52,13)" opacity="0.3"/><circle cx="125.8" cy="613" r="0.7" fill="rgb(20,73,19)" opacity="0.4"/><circle cx="132.4" cy="613" r="0.9" fill="rgb(31,101,26)" opacity="0.6"/><circle cx="125" cy="612.3" r="0.9" fill="rgb(13,53,14)" opacity="0.3"/><circle cx="113.5" cy="633.8" r="0.9" fill="rgb(17,64,16)" opacity="0.4"/><circle cx="104.9" cy="652.9" r="1.1" fill="rgb(24,82,21)" opacity="0.5"/><circle cx="158.5" cy="604.5" r="1" fill="rgb(38,121,31)" opacity="0.7"/><circle cx="147.3" cy="605.1" r="0.8" fill="rgb(43,135,34)" opacity="0.8"/><circle cx="113.9" cy="644.7" r="1.2" fill="rgb(13,55,14)" opacity="0.4"/><circle cx="161.9" cy="602.4" r="1.2" fill="rgb(20,72,18)" opacity="0.4"/><circle cx="108.6" cy="648.8" r="0.6" fill="rgb(19,69,18)" opacity="0.4"/><circle cx="135.3" cy="601.1" r="0.7" fill="rgb(30,99,25)" opacity="0.6"/><circle cx="116.8" cy="640.6" r="0.7" fill="rgb(15,60,15)" opacity="0.4"/><circle cx="106.6" cy="650.3" r="0.7" fill="rgb(13,54,14)" opacity="0.3"/><circle cx="151.8" cy="603.3" r="0.8" fill="rgb(44,137,35)" opacity="0.8"/><circle cx="131.8" cy="606.4" r="0.8" fill="rgb(31,102,26)" opacity="0.6"/><circle cx="140.4" cy="604.2" r="1.2" fill="rgb(41,128,32)" opacity="0.7"/><circle cx="140" cy="609" r="1.2" fill="rgb(24,84,21)" opacity="0.5"/><circle cx="142.1" cy="611.2" r="1.1" fill="rgb(33,108,27)" opacity="0.6"/><circle cx="107.1" cy="642.2" r="1" fill="rgb(17,65,17)" opacity="0.4"/><circle cx="167.4" cy="597.6" r="1" fill="rgb(20,72,18)" opacity="0.4"/><circle cx="103.5" cy="653.1" r="0.9" fill="rgb(19,71,18)" opacity="0.4"/><circle cx="167.7" cy="596.6" r="0.7" fill="rgb(23,81,21)" opacity="0.5"/><circle cx="151.8" cy="599.2" r="1" fill="rgb(16,61,16)" opacity="0.4"/><circle cx="125.7" cy="607.5" r="1" fill="rgb(20,73,19)" opacity="0.4"/><circle cx="101.8" cy="651.3" r="1.2" fill="rgb(17,64,16)" opacity="0.4"/></g>
<g filter="url(#bl1)"><circle cx="130.9" cy="615.3" r="0.9" fill="#1a7a40" opacity="0.5"/><circle cx="129.1" cy="617.7" r="1.1" fill="#186a38" opacity="0.8"/><circle cx="119" cy="624.2" r="1" fill="#1a7a40" opacity="0.5"/><circle cx="135.8" cy="621.6" r="0.7" fill="#186a38" opacity="0.8"/><circle cx="124.2" cy="628.9" r="0.7" fill="#208a50" opacity="0.7"/><circle cx="141.3" cy="617.4" r="0.8" fill="#186a38" opacity="0.8"/><circle cx="129.5" cy="610.4" r="0.6" fill="#186a38" opacity="0.6"/><circle cx="136.6" cy="620.3" r="0.7" fill="#208a50" opacity="0.6"/><circle cx="125" cy="612.9" r="0.6" fill="#208a50" opacity="0.6"/><circle cx="125.8" cy="616.4" r="1" fill="#1a7a40" opacity="0.9"/><circle cx="136.5" cy="620.6" r="0.9" fill="#186a38" opacity="0.6"/><circle cx="126.4" cy="624.3" r="0.6" fill="#186a38" opacity="0.6"/><circle cx="134.8" cy="611.3" r="0.7" fill="#186a38" opacity="0.5"/><circle cx="122" cy="628.4" r="0.6" fill="#1a7a40" opacity="0.9"/><circle cx="122.8" cy="624.6" r="0.6" fill="#1a7a40" opacity="0.5"/><circle cx="128.7" cy="613.4" r="0.7" fill="#1a7a40" opacity="0.8"/><circle cx="117.4" cy="635.3" r="1" fill="#1a7a40" opacity="0.8"/><circle cx="133" cy="617.3" r="1.1" fill="#1a7a40" opacity="0.5"/><circle cx="129.3" cy="615.1" r="1" fill="#1a7a40" opacity="0.5"/><circle cx="133.6" cy="614.7" r="0.6" fill="#1a7a40" opacity="0.9"/><circle cx="115.8" cy="633.3" r="1" fill="#208a50" opacity="0.9"/><circle cx="128.9" cy="610.3" r="0.9" fill="#186a38" opacity="0.7"/><circle cx="124.7" cy="626.2" r="0.8" fill="#208a50" opacity="0.7"/><circle cx="128.9" cy="624.1" r="0.9" fill="#208a50" opacity="0.7"/><circle cx="129.1" cy="623.7" r="0.6" fill="#1a7a40" opacity="0.6"/><circle cx="140.1" cy="608.5" r="0.9" fill="#208a50" opacity="0.5"/><circle cx="145.6" cy="611.7" r="0.6" fill="#208a50" opacity="0.7"/><circle cx="125.5" cy="615.2" r="0.7" fill="#186a38" opacity="0.8"/><circle cx="126.8" cy="612.2" r="0.9" fill="#186a38" opacity="0.7"/><circle cx="118.8" cy="634.2" r="0.6" fill="#208a50" opacity="0.8"/><circle cx="140.5" cy="618.1" r="0.6" fill="#186a38" opacity="0.7"/><circle cx="122.8" cy="625.8" r="0.6" fill="#208a50" opacity="0.7"/><circle cx="125" cy="626.6" r="0.5" fill="#208a50" opacity="0.7"/><circle cx="129.2" cy="624.4" r="0.6" fill="#186a38" opacity="0.6"/><circle cx="116.5" cy="634.5" r="0.8" fill="#208a50" opacity="0.8"/><circle cx="124.9" cy="624.3" r="0.5" fill="#1a7a40" opacity="0.5"/><circle cx="117" cy="632.8" r="1.1" fill="#1a7a40" opacity="0.5"/><circle cx="130.3" cy="625.6" r="0.7" fill="#208a50" opacity="0.5"/><circle cx="130.2" cy="616.7" r="1" fill="#186a38" opacity="0.6"/><circle cx="121.4" cy="625.7" r="0.6" fill="#186a38" opacity="0.5"/><circle cx="134.1" cy="615.4" r="0.6" fill="#186a38" opacity="0.6"/><circle cx="144.7" cy="612.5" r="0.5" fill="#1a7a40" opacity="0.8"/><circle cx="124.5" cy="616.7" r="0.7" fill="#1a7a40" opacity="0.6"/><circle cx="124.9" cy="612.9" r="1" fill="#1a7a40" opacity="0.7"/><circle cx="113.9" cy="626.5" r="0.6" fill="#186a38" opacity="0.5"/><circle cx="131.4" cy="619.8" r="0.9" fill="#208a50" opacity="0.6"/><circle cx="115.3" cy="629.4" r="0.5" fill="#186a38" opacity="0.9"/><circle cx="132.5" cy="616.3" r="0.7" fill="#186a38" opacity="0.6"/><circle cx="128.3" cy="618.9" r="1" fill="#1a7a40" opacity="0.8"/><circle cx="118.4" cy="623.5" r="0.6" fill="#208a50" opacity="0.6"/><circle cx="129.7" cy="616" r="0.9" fill="#208a50" opacity="0.9"/><circle cx="134.1" cy="619" r="0.6" fill="#208a50" opacity="0.8"/><circle cx="146.2" cy="612.5" r="1" fill="#186a38" opacity="0.8"/><circle cx="125.1" cy="616.2" r="0.6" fill="#208a50" opacity="0.8"/><circle cx="133.8" cy="612.4" r="1.1" fill="#208a50" opacity="0.7"/><circle cx="138.8" cy="613.6" r="0.7" fill="#1a7a40" opacity="0.7"/><circle cx="132.2" cy="613.5" r="0.7" fill="#208a50" opacity="0.7"/><circle cx="137.8" cy="613.3" r="1" fill="#208a50" opacity="0.6"/><circle cx="122.3" cy="628.3" r="0.9" fill="#186a38" opacity="0.6"/><circle cx="117.3" cy="634" r="0.5" fill="#186a38" opacity="0.9"/><circle cx="136.4" cy="616.3" r="0.8" fill="#208a50" opacity="0.8"/><circle cx="132.6" cy="610.3" r="0.7" fill="#208a50" opacity="0.8"/><circle cx="119.3" cy="619.2" r="0.6" fill="#186a38" opacity="0.8"/><circle cx="139.5" cy="613.4" r="0.5" fill="#186a38" opacity="0.5"/><circle cx="121.4" cy="630.2" r="0.7" fill="#1a7a40" opacity="0.8"/><circle cx="115.3" cy="628.4" r="0.9" fill="#208a50" opacity="0.6"/><circle cx="125.9" cy="612.6" r="0.6" fill="#208a50" opacity="0.6"/><circle cx="139.4" cy="609.9" r="0.7" fill="#186a38" opacity="0.7"/><circle cx="130.6" cy="610.8" r="0.8" fill="#186a38" opacity="0.7"/><circle cx="123.4" cy="613.8" r="0.6" fill="#186a38" opacity="0.5"/><circle cx="129.3" cy="613" r="0.7" fill="#1a7a40" opacity="0.5"/><circle cx="140.5" cy="616.5" r="0.6" fill="#208a50" opacity="0.7"/><circle cx="132.1" cy="624.5" r="0.7" fill="#186a38" opacity="0.5"/><circle cx="137.6" cy="607.6" r="1" fill="#186a38" opacity="0.6"/><circle cx="130.3" cy="609.9" r="1.1" fill="#208a50" opacity="0.6"/><circle cx="131.5" cy="620.7" r="0.6" fill="#1a7a40" opacity="0.5"/><circle cx="125.5" cy="611.9" r="0.8" fill="#1a7a40" opacity="0.6"/><circle cx="122.3" cy="621.3" r="0.7" fill="#208a50" opacity="0.6"/><circle cx="144.2" cy="610.8" r="0.7" fill="#186a38" opacity="0.6"/><circle cx="127.5" cy="622.5" r="0.6" fill="#1a7a40" opacity="0.9"/><circle cx="121.9" cy="626.9" r="0.6" fill="#186a38" opacity="0.6"/><circle cx="121.3" cy="632" r="0.5" fill="#1a7a40" opacity="0.8"/><circle cx="135.9" cy="608.7" r="1" fill="#208a50" opacity="0.7"/><circle cx="117.6" cy="634.4" r="0.7" fill="#208a50" opacity="0.9"/><circle cx="114.2" cy="628.1" r="1.1" fill="#208a50" opacity="0.8"/><circle cx="142.2" cy="612" r="0.9" fill="#186a38" opacity="0.9"/><circle cx="120.4" cy="626" r="0.6" fill="#1a7a40" opacity="0.8"/><circle cx="126.9" cy="619" r="0.8" fill="#1a7a40" opacity="0.8"/><circle cx="144.1" cy="610" r="0.7" fill="#1a7a40" opacity="0.9"/><circle cx="120.1" cy="625.9" r="1" fill="#208a50" opacity="0.8"/></g>
</g>
</g>
<text transform="translate(166.5 662.3) scale(0.89 1)" font-size="8.8" text-anchor="middle" fill="#fff" stroke="#fff" stroke-width="0.3">M1</text>
<line x1="222.5" y1="579.4" x2="222.5" y2="668.3" stroke="#000" stroke-width="1.4"/>
<line x1="220.3" y1="582.5" x2="222.8" y2="582.5" stroke="#000" stroke-width="1.4"/>
<text transform="translate(217.3 585.78) scale(0.89 1)" font-size="8.96" text-anchor="end" fill="#000" stroke="#000" stroke-width="0.32">400</text>
<line x1="220.3" y1="604.5" x2="222.8" y2="604.5" stroke="#000" stroke-width="1.4"/>
<text transform="translate(217.3 606.98) scale(0.89 1)" font-size="8.96" text-anchor="end" fill="#000" stroke="#000" stroke-width="0.32">350</text>
<line x1="220.3" y1="625.5" x2="222.8" y2="625.5" stroke="#000" stroke-width="1.4"/>
<text transform="translate(217.3 628.18) scale(0.89 1)" font-size="8.96" text-anchor="end" fill="#000" stroke="#000" stroke-width="0.32">300</text>
<line x1="220.3" y1="646.5" x2="222.8" y2="646.5" stroke="#000" stroke-width="1.4"/>
<text transform="translate(217.3 649.38) scale(0.89 1)" font-size="8.96" text-anchor="end" fill="#000" stroke="#000" stroke-width="0.32">250</text>
<line x1="220.3" y1="667.5" x2="222.8" y2="667.5" stroke="#000" stroke-width="1.4"/>
<text transform="translate(217.3 670.58) scale(0.89 1)" font-size="8.96" text-anchor="end" fill="#000" stroke="#000" stroke-width="0.32">200</text>
<line x1="222.2" y1="667.5" x2="293.5" y2="667.5" stroke="#000" stroke-width="1.4"/>
<line x1="240.5" y1="667.7" x2="240.5" y2="670.2" stroke="#000" stroke-width="1.4"/>
<line x1="276.5" y1="667.7" x2="276.5" y2="670.2" stroke="#000" stroke-width="1.4"/>
<circle cx="241.1" cy="620.1" r="1.75" fill="#000"/>
<circle cx="238.2" cy="626.5" r="1.75" fill="#000"/>
<circle cx="243.4" cy="625.5" r="1.75" fill="#000"/>
<circle cx="235.7" cy="630.7" r="1.75" fill="#000"/>
<circle cx="245.8" cy="629.3" r="1.75" fill="#000"/>
<circle cx="241.1" cy="634.2" r="1.75" fill="#000"/>
<circle cx="233.5" cy="638.4" r="1.75" fill="#000"/>
<circle cx="238.5" cy="639.6" r="1.75" fill="#000"/>
<circle cx="243.8" cy="638.8" r="1.75" fill="#000"/>
<circle cx="248.2" cy="638.1" r="1.75" fill="#000"/>
<circle cx="233.5" cy="643.8" r="1.75" fill="#000"/>
<circle cx="238.5" cy="646.5" r="1.75" fill="#000"/>
<circle cx="243.1" cy="648.5" r="1.75" fill="#000"/>
<circle cx="248.5" cy="646.1" r="1.75" fill="#000"/>
<circle cx="238.5" cy="660.1" r="1.75" fill="#000"/>
<circle cx="243.1" cy="660.1" r="1.75" fill="#000"/>
<rect x="275" y="589.6" width="3.2" height="3.2" fill="#000"/>
<rect x="275" y="595.2" width="3.2" height="3.2" fill="#000"/>
<rect x="269.9" y="599.9" width="3.2" height="3.2" fill="#000"/>
<rect x="275.3" y="600.3" width="3.2" height="3.2" fill="#000"/>
<rect x="279.9" y="600.3" width="3.2" height="3.2" fill="#000"/>
<rect x="272.2" y="608.5" width="3.2" height="3.2" fill="#000"/>
<rect x="277.6" y="608.8" width="3.2" height="3.2" fill="#000"/>
<rect x="269.9" y="611.9" width="3.2" height="3.2" fill="#000"/>
<rect x="274.6" y="611.6" width="3.2" height="3.2" fill="#000"/>
<rect x="279.9" y="612.3" width="3.2" height="3.2" fill="#000"/>
<rect x="274.6" y="615.7" width="3.2" height="3.2" fill="#000"/>
<rect x="272.2" y="618.5" width="3.2" height="3.2" fill="#000"/>
<rect x="276.9" y="622.9" width="3.2" height="3.2" fill="#000"/>
<rect x="267.3" y="626.9" width="3.2" height="3.2" fill="#000"/>
<rect x="282.2" y="625.4" width="3.2" height="3.2" fill="#000"/>
<rect x="272.2" y="630" width="3.2" height="3.2" fill="#000"/>
<rect x="276.9" y="630" width="3.2" height="3.2" fill="#000"/>
<line x1="229.2" y1="638.5" x2="252.8" y2="638.5" stroke="#000" stroke-width="1.3"/>
<line x1="240.5" y1="627.3" x2="240.5" y2="650.4" stroke="#000" stroke-width="1.1"/>
<line x1="235.4" y1="627.5" x2="246.9" y2="627.5" stroke="#000" stroke-width="1.2"/>
<line x1="235.4" y1="650.5" x2="246.9" y2="650.5" stroke="#000" stroke-width="1.2"/>
<line x1="264.6" y1="613.5" x2="287.7" y2="613.5" stroke="#000" stroke-width="1.3"/>
<line x1="276.5" y1="601.5" x2="276.5" y2="626.5" stroke="#000" stroke-width="1.1"/>
<line x1="270.8" y1="601.5" x2="282.3" y2="601.5" stroke="#000" stroke-width="1.2"/>
<line x1="270.8" y1="626.5" x2="282.3" y2="626.5" stroke="#000" stroke-width="1.2"/>
<line x1="242.3" y1="586.5" x2="276.2" y2="586.5" stroke="#000" stroke-width="1.1"/>
<text x="259.2" y="586.97" font-size="9.5" text-anchor="middle" fill="#000" stroke="#000" stroke-width="0.32">***</text>
<text transform="translate(240.8 679.8) scale(0.89 1)" font-size="9.07" text-anchor="middle" fill="#000" stroke="#000" stroke-width="0.32">MΦ</text>
<text transform="translate(276.2 679.8) scale(0.89 1)" font-size="9.07" text-anchor="middle" fill="#000" stroke="#000" stroke-width="0.32">M1</text>
<text x="198.23" y="624.6" font-size="8.85" text-anchor="middle" fill="#000" stroke="#000" stroke-width="0.32" transform="rotate(-90 198.23 624.6)">Fusion index (A.U.)</text>
<text transform="translate(310.6 573.6) scale(0.89 1)" font-size="12.32" text-anchor="start" font-weight="bold" fill="#000" stroke="#000" stroke-width="0.32">G</text>
<line x1="350.5" y1="592.5" x2="350.5" y2="679.6" stroke="#000" stroke-width="1.4"/>
<line x1="348" y1="595.5" x2="350.5" y2="595.5" stroke="#000" stroke-width="1.4"/>
<text transform="translate(345 597.88) scale(0.89 1)" font-size="8.96" text-anchor="end" fill="#000" stroke="#000" stroke-width="0.32">60</text>
<line x1="348" y1="623.5" x2="350.5" y2="623.5" stroke="#000" stroke-width="1.4"/>
<text transform="translate(345 625.88) scale(0.89 1)" font-size="8.96" text-anchor="end" fill="#000" stroke="#000" stroke-width="0.32">40</text>
<line x1="348" y1="651.5" x2="350.5" y2="651.5" stroke="#000" stroke-width="1.4"/>
<text transform="translate(345 653.88) scale(0.89 1)" font-size="8.96" text-anchor="end" fill="#000" stroke="#000" stroke-width="0.32">20</text>
<line x1="348" y1="679.5" x2="350.5" y2="679.5" stroke="#000" stroke-width="1.4"/>
<text transform="translate(345 681.88) scale(0.89 1)" font-size="8.96" text-anchor="end" fill="#000" stroke="#000" stroke-width="0.32">0</text>
<line x1="349.9" y1="679.5" x2="435.4" y2="679.5" stroke="#000" stroke-width="1.4"/>
<line x1="364.5" y1="679" x2="364.5" y2="681.5" stroke="#000" stroke-width="1.4"/>
<line x1="393.5" y1="679" x2="393.5" y2="681.5" stroke="#000" stroke-width="1.4"/>
<line x1="421.5" y1="679" x2="421.5" y2="681.5" stroke="#000" stroke-width="1.4"/>
<line x1="364.5" y1="647.9" x2="364.5" y2="646.4" stroke="#000" stroke-width="1.1"/>
<line x1="360" y1="646.5" x2="369.2" y2="646.5" stroke="#000" stroke-width="1.3"/>
<rect x="355.4" y="647.9" width="18.4" height="31.1" fill="#7a7a7a"/>
<line x1="393.5" y1="611.9" x2="393.5" y2="602.7" stroke="#000" stroke-width="1.1"/>
<line x1="388.4" y1="602.5" x2="397.8" y2="602.5" stroke="#000" stroke-width="1.3"/>
<rect x="383.7" y="611.9" width="18.8" height="67.1" fill="#000"/>
<line x1="421.5" y1="648.8" x2="421.5" y2="645.8" stroke="#000" stroke-width="1.1"/>
<line x1="416.93" y1="645.5" x2="426.18" y2="645.5" stroke="#000" stroke-width="1.3"/>
<rect x="412.3" y="648.8" width="18.5" height="30.2" fill="#c2c2c2"/>
<text x="393.1" y="602.57" font-size="9.5" text-anchor="middle" fill="#000" stroke="#000" stroke-width="0.32">***</text>
<text transform="translate(393.8 586.5) scale(0.93 1)" font-size="10.22" text-anchor="middle" stroke="#000" stroke-width="0.12">hTNF</text>
<text x="330.3" y="635.3" font-size="8.9" text-anchor="middle" fill="#000" stroke="#000" stroke-width="0.32" transform="rotate(-90 330.3 635.3)">pg/ml</text>
<text x="366" y="684.8" font-size="7.6" text-anchor="end" fill="#000" stroke="#000" stroke-width="0.32" transform="rotate(-45 366 684.8)">CTRL</text>
<text x="394.5" y="684.8" font-size="7.6" text-anchor="end" fill="#000" stroke="#000" stroke-width="0.32" transform="rotate(-45 394.5 684.8)">miR-125b</text>
<text x="422.9" y="684.8" font-size="7.6" text-anchor="end" fill="#000" stroke="#000" stroke-width="0.32" transform="rotate(-45 422.9 684.8)">Anti-125b</text>
</svg>
</body></html>
